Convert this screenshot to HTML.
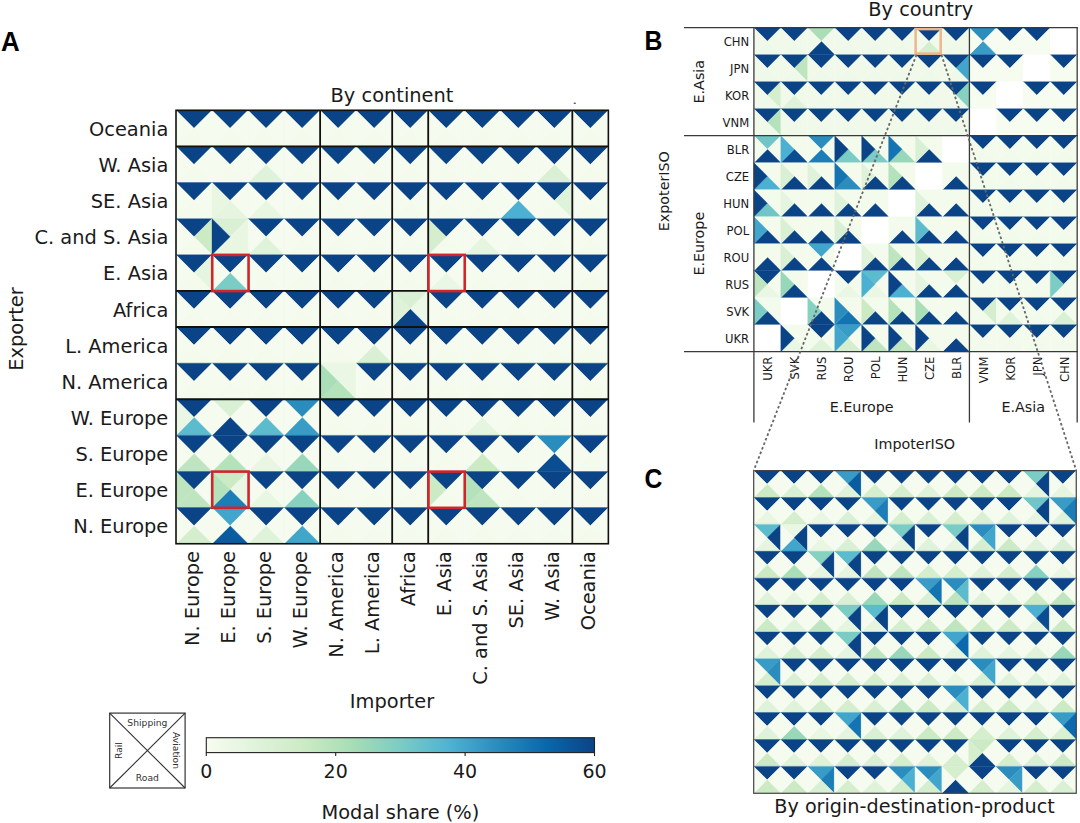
<!DOCTYPE html>
<html><head><meta charset="utf-8"><title>Modal share heatmaps</title>
<style>html,body{margin:0;padding:0;background:#fff;width:1080px;height:823px;overflow:hidden}svg{display:block}</style>
</head><body>
<svg width="1080" height="823" viewBox="0 0 1080 823">
<rect x="0" y="0" width="1080" height="823" fill="#ffffff"/>
<polygon points="176.00,110.30 212.03,110.30 194.01,128.36" fill="#0b4387" stroke="#0b4387" stroke-width="0.35"/>
<polygon points="212.03,110.30 212.03,146.42 194.01,128.36" fill="#f5fbee" stroke="#f5fbee" stroke-width="0.35"/>
<polygon points="212.03,146.42 176.00,146.42 194.01,128.36" fill="#f4fbed" stroke="#f4fbed" stroke-width="0.35"/>
<polygon points="176.00,146.42 176.00,110.30 194.01,128.36" fill="#f5fbee" stroke="#f5fbee" stroke-width="0.35"/>
<polygon points="212.03,110.30 248.06,110.30 230.05,128.36" fill="#0b4387" stroke="#0b4387" stroke-width="0.35"/>
<polygon points="248.06,110.30 248.06,146.42 230.05,128.36" fill="#f5fbee" stroke="#f5fbee" stroke-width="0.35"/>
<polygon points="248.06,146.42 212.03,146.42 230.05,128.36" fill="#f4fbed" stroke="#f4fbed" stroke-width="0.35"/>
<polygon points="212.03,146.42 212.03,110.30 230.05,128.36" fill="#f5fbee" stroke="#f5fbee" stroke-width="0.35"/>
<polygon points="248.06,110.30 284.09,110.30 266.07,128.36" fill="#0b4387" stroke="#0b4387" stroke-width="0.35"/>
<polygon points="284.09,110.30 284.09,146.42 266.07,128.36" fill="#f5fbee" stroke="#f5fbee" stroke-width="0.35"/>
<polygon points="284.09,146.42 248.06,146.42 266.07,128.36" fill="#f4fbed" stroke="#f4fbed" stroke-width="0.35"/>
<polygon points="248.06,146.42 248.06,110.30 266.07,128.36" fill="#f5fbee" stroke="#f5fbee" stroke-width="0.35"/>
<polygon points="284.09,110.30 320.12,110.30 302.11,128.36" fill="#0b4387" stroke="#0b4387" stroke-width="0.35"/>
<polygon points="320.12,110.30 320.12,146.42 302.11,128.36" fill="#f5fbee" stroke="#f5fbee" stroke-width="0.35"/>
<polygon points="320.12,146.42 284.09,146.42 302.11,128.36" fill="#f4fbed" stroke="#f4fbed" stroke-width="0.35"/>
<polygon points="284.09,146.42 284.09,110.30 302.11,128.36" fill="#f5fbee" stroke="#f5fbee" stroke-width="0.35"/>
<polygon points="320.12,110.30 356.15,110.30 338.13,128.36" fill="#0b4387" stroke="#0b4387" stroke-width="0.35"/>
<polygon points="356.15,110.30 356.15,146.42 338.13,128.36" fill="#f5fbee" stroke="#f5fbee" stroke-width="0.35"/>
<polygon points="356.15,146.42 320.12,146.42 338.13,128.36" fill="#f4fbed" stroke="#f4fbed" stroke-width="0.35"/>
<polygon points="320.12,146.42 320.12,110.30 338.13,128.36" fill="#f5fbee" stroke="#f5fbee" stroke-width="0.35"/>
<polygon points="356.15,110.30 392.18,110.30 374.16,128.36" fill="#0b4387" stroke="#0b4387" stroke-width="0.35"/>
<polygon points="392.18,110.30 392.18,146.42 374.16,128.36" fill="#f5fbee" stroke="#f5fbee" stroke-width="0.35"/>
<polygon points="392.18,146.42 356.15,146.42 374.16,128.36" fill="#f4fbed" stroke="#f4fbed" stroke-width="0.35"/>
<polygon points="356.15,146.42 356.15,110.30 374.16,128.36" fill="#f5fbee" stroke="#f5fbee" stroke-width="0.35"/>
<polygon points="392.18,110.30 428.21,110.30 410.19,128.36" fill="#0b4387" stroke="#0b4387" stroke-width="0.35"/>
<polygon points="428.21,110.30 428.21,146.42 410.19,128.36" fill="#f5fbee" stroke="#f5fbee" stroke-width="0.35"/>
<polygon points="428.21,146.42 392.18,146.42 410.19,128.36" fill="#f4fbed" stroke="#f4fbed" stroke-width="0.35"/>
<polygon points="392.18,146.42 392.18,110.30 410.19,128.36" fill="#f5fbee" stroke="#f5fbee" stroke-width="0.35"/>
<polygon points="428.21,110.30 464.24,110.30 446.23,128.36" fill="#0b4387" stroke="#0b4387" stroke-width="0.35"/>
<polygon points="464.24,110.30 464.24,146.42 446.23,128.36" fill="#f5fbee" stroke="#f5fbee" stroke-width="0.35"/>
<polygon points="464.24,146.42 428.21,146.42 446.23,128.36" fill="#f4fbed" stroke="#f4fbed" stroke-width="0.35"/>
<polygon points="428.21,146.42 428.21,110.30 446.23,128.36" fill="#f5fbee" stroke="#f5fbee" stroke-width="0.35"/>
<polygon points="464.24,110.30 500.27,110.30 482.25,128.36" fill="#0b4387" stroke="#0b4387" stroke-width="0.35"/>
<polygon points="500.27,110.30 500.27,146.42 482.25,128.36" fill="#f5fbee" stroke="#f5fbee" stroke-width="0.35"/>
<polygon points="500.27,146.42 464.24,146.42 482.25,128.36" fill="#f4fbed" stroke="#f4fbed" stroke-width="0.35"/>
<polygon points="464.24,146.42 464.24,110.30 482.25,128.36" fill="#f5fbee" stroke="#f5fbee" stroke-width="0.35"/>
<polygon points="500.27,110.30 536.30,110.30 518.28,128.36" fill="#0b4387" stroke="#0b4387" stroke-width="0.35"/>
<polygon points="536.30,110.30 536.30,146.42 518.28,128.36" fill="#f5fbee" stroke="#f5fbee" stroke-width="0.35"/>
<polygon points="536.30,146.42 500.27,146.42 518.28,128.36" fill="#f4fbed" stroke="#f4fbed" stroke-width="0.35"/>
<polygon points="500.27,146.42 500.27,110.30 518.28,128.36" fill="#f5fbee" stroke="#f5fbee" stroke-width="0.35"/>
<polygon points="536.30,110.30 572.33,110.30 554.31,128.36" fill="#0b4387" stroke="#0b4387" stroke-width="0.35"/>
<polygon points="572.33,110.30 572.33,146.42 554.31,128.36" fill="#f5fbee" stroke="#f5fbee" stroke-width="0.35"/>
<polygon points="572.33,146.42 536.30,146.42 554.31,128.36" fill="#f4fbed" stroke="#f4fbed" stroke-width="0.35"/>
<polygon points="536.30,146.42 536.30,110.30 554.31,128.36" fill="#f5fbee" stroke="#f5fbee" stroke-width="0.35"/>
<polygon points="572.33,110.30 608.36,110.30 590.35,128.36" fill="#0b4387" stroke="#0b4387" stroke-width="0.35"/>
<polygon points="608.36,110.30 608.36,146.42 590.35,128.36" fill="#f5fbee" stroke="#f5fbee" stroke-width="0.35"/>
<polygon points="608.36,146.42 572.33,146.42 590.35,128.36" fill="#f4fbed" stroke="#f4fbed" stroke-width="0.35"/>
<polygon points="572.33,146.42 572.33,110.30 590.35,128.36" fill="#f5fbee" stroke="#f5fbee" stroke-width="0.35"/>
<polygon points="176.00,146.42 212.03,146.42 194.01,164.48" fill="#0b4387" stroke="#0b4387" stroke-width="0.35"/>
<polygon points="212.03,146.42 212.03,182.54 194.01,164.48" fill="#f5fbee" stroke="#f5fbee" stroke-width="0.35"/>
<polygon points="212.03,182.54 176.00,182.54 194.01,164.48" fill="#f4fbed" stroke="#f4fbed" stroke-width="0.35"/>
<polygon points="176.00,182.54 176.00,146.42 194.01,164.48" fill="#f5fbee" stroke="#f5fbee" stroke-width="0.35"/>
<polygon points="212.03,146.42 248.06,146.42 230.05,164.48" fill="#0b4387" stroke="#0b4387" stroke-width="0.35"/>
<polygon points="248.06,146.42 248.06,182.54 230.05,164.48" fill="#f5fbee" stroke="#f5fbee" stroke-width="0.35"/>
<polygon points="248.06,182.54 212.03,182.54 230.05,164.48" fill="#f4fbed" stroke="#f4fbed" stroke-width="0.35"/>
<polygon points="212.03,182.54 212.03,146.42 230.05,164.48" fill="#f5fbee" stroke="#f5fbee" stroke-width="0.35"/>
<polygon points="248.06,146.42 284.09,146.42 266.07,164.48" fill="#0b4387" stroke="#0b4387" stroke-width="0.35"/>
<polygon points="284.09,146.42 284.09,182.54 266.07,164.48" fill="#f5fbee" stroke="#f5fbee" stroke-width="0.35"/>
<polygon points="284.09,182.54 248.06,182.54 266.07,164.48" fill="#dff2da" stroke="#dff2da" stroke-width="0.35"/>
<polygon points="248.06,182.54 248.06,146.42 266.07,164.48" fill="#f5fbee" stroke="#f5fbee" stroke-width="0.35"/>
<polygon points="284.09,146.42 320.12,146.42 302.11,164.48" fill="#0b4387" stroke="#0b4387" stroke-width="0.35"/>
<polygon points="320.12,146.42 320.12,182.54 302.11,164.48" fill="#f5fbee" stroke="#f5fbee" stroke-width="0.35"/>
<polygon points="320.12,182.54 284.09,182.54 302.11,164.48" fill="#f4fbed" stroke="#f4fbed" stroke-width="0.35"/>
<polygon points="284.09,182.54 284.09,146.42 302.11,164.48" fill="#f5fbee" stroke="#f5fbee" stroke-width="0.35"/>
<polygon points="320.12,146.42 356.15,146.42 338.13,164.48" fill="#0b4387" stroke="#0b4387" stroke-width="0.35"/>
<polygon points="356.15,146.42 356.15,182.54 338.13,164.48" fill="#f5fbee" stroke="#f5fbee" stroke-width="0.35"/>
<polygon points="356.15,182.54 320.12,182.54 338.13,164.48" fill="#f4fbed" stroke="#f4fbed" stroke-width="0.35"/>
<polygon points="320.12,182.54 320.12,146.42 338.13,164.48" fill="#f5fbee" stroke="#f5fbee" stroke-width="0.35"/>
<polygon points="356.15,146.42 392.18,146.42 374.16,164.48" fill="#0b4387" stroke="#0b4387" stroke-width="0.35"/>
<polygon points="392.18,146.42 392.18,182.54 374.16,164.48" fill="#f5fbee" stroke="#f5fbee" stroke-width="0.35"/>
<polygon points="392.18,182.54 356.15,182.54 374.16,164.48" fill="#f4fbed" stroke="#f4fbed" stroke-width="0.35"/>
<polygon points="356.15,182.54 356.15,146.42 374.16,164.48" fill="#f5fbee" stroke="#f5fbee" stroke-width="0.35"/>
<polygon points="392.18,146.42 428.21,146.42 410.19,164.48" fill="#0b4387" stroke="#0b4387" stroke-width="0.35"/>
<polygon points="428.21,146.42 428.21,182.54 410.19,164.48" fill="#f5fbee" stroke="#f5fbee" stroke-width="0.35"/>
<polygon points="428.21,182.54 392.18,182.54 410.19,164.48" fill="#f4fbed" stroke="#f4fbed" stroke-width="0.35"/>
<polygon points="392.18,182.54 392.18,146.42 410.19,164.48" fill="#f5fbee" stroke="#f5fbee" stroke-width="0.35"/>
<polygon points="428.21,146.42 464.24,146.42 446.23,164.48" fill="#0b4387" stroke="#0b4387" stroke-width="0.35"/>
<polygon points="464.24,146.42 464.24,182.54 446.23,164.48" fill="#f5fbee" stroke="#f5fbee" stroke-width="0.35"/>
<polygon points="464.24,182.54 428.21,182.54 446.23,164.48" fill="#f4fbed" stroke="#f4fbed" stroke-width="0.35"/>
<polygon points="428.21,182.54 428.21,146.42 446.23,164.48" fill="#f5fbee" stroke="#f5fbee" stroke-width="0.35"/>
<polygon points="464.24,146.42 500.27,146.42 482.25,164.48" fill="#0b4387" stroke="#0b4387" stroke-width="0.35"/>
<polygon points="500.27,146.42 500.27,182.54 482.25,164.48" fill="#f5fbee" stroke="#f5fbee" stroke-width="0.35"/>
<polygon points="500.27,182.54 464.24,182.54 482.25,164.48" fill="#f4fbed" stroke="#f4fbed" stroke-width="0.35"/>
<polygon points="464.24,182.54 464.24,146.42 482.25,164.48" fill="#f5fbee" stroke="#f5fbee" stroke-width="0.35"/>
<polygon points="500.27,146.42 536.30,146.42 518.28,164.48" fill="#0b4387" stroke="#0b4387" stroke-width="0.35"/>
<polygon points="536.30,146.42 536.30,182.54 518.28,164.48" fill="#f5fbee" stroke="#f5fbee" stroke-width="0.35"/>
<polygon points="536.30,182.54 500.27,182.54 518.28,164.48" fill="#f4fbed" stroke="#f4fbed" stroke-width="0.35"/>
<polygon points="500.27,182.54 500.27,146.42 518.28,164.48" fill="#f5fbee" stroke="#f5fbee" stroke-width="0.35"/>
<polygon points="536.30,146.42 572.33,146.42 554.31,164.48" fill="#0b4387" stroke="#0b4387" stroke-width="0.35"/>
<polygon points="572.33,146.42 572.33,182.54 554.31,164.48" fill="#f5fbee" stroke="#f5fbee" stroke-width="0.35"/>
<polygon points="572.33,182.54 536.30,182.54 554.31,164.48" fill="#d9f0d4" stroke="#d9f0d4" stroke-width="0.35"/>
<polygon points="536.30,182.54 536.30,146.42 554.31,164.48" fill="#f5fbee" stroke="#f5fbee" stroke-width="0.35"/>
<polygon points="572.33,146.42 608.36,146.42 590.35,164.48" fill="#0b4387" stroke="#0b4387" stroke-width="0.35"/>
<polygon points="608.36,146.42 608.36,182.54 590.35,164.48" fill="#f5fbee" stroke="#f5fbee" stroke-width="0.35"/>
<polygon points="608.36,182.54 572.33,182.54 590.35,164.48" fill="#f4fbed" stroke="#f4fbed" stroke-width="0.35"/>
<polygon points="572.33,182.54 572.33,146.42 590.35,164.48" fill="#f5fbee" stroke="#f5fbee" stroke-width="0.35"/>
<polygon points="176.00,182.54 212.03,182.54 194.01,200.60" fill="#0b4387" stroke="#0b4387" stroke-width="0.35"/>
<polygon points="212.03,182.54 212.03,218.66 194.01,200.60" fill="#f5fbee" stroke="#f5fbee" stroke-width="0.35"/>
<polygon points="212.03,218.66 176.00,218.66 194.01,200.60" fill="#f4fbed" stroke="#f4fbed" stroke-width="0.35"/>
<polygon points="176.00,218.66 176.00,182.54 194.01,200.60" fill="#f5fbee" stroke="#f5fbee" stroke-width="0.35"/>
<polygon points="212.03,182.54 248.06,182.54 230.05,200.60" fill="#0b4387" stroke="#0b4387" stroke-width="0.35"/>
<polygon points="248.06,182.54 248.06,218.66 230.05,200.60" fill="#f5fbee" stroke="#f5fbee" stroke-width="0.35"/>
<polygon points="248.06,218.66 212.03,218.66 230.05,200.60" fill="#e5f5df" stroke="#e5f5df" stroke-width="0.35"/>
<polygon points="212.03,218.66 212.03,182.54 230.05,200.60" fill="#e8f6e2" stroke="#e8f6e2" stroke-width="0.35"/>
<polygon points="248.06,182.54 284.09,182.54 266.07,200.60" fill="#0b4387" stroke="#0b4387" stroke-width="0.35"/>
<polygon points="284.09,182.54 284.09,218.66 266.07,200.60" fill="#f5fbee" stroke="#f5fbee" stroke-width="0.35"/>
<polygon points="284.09,218.66 248.06,218.66 266.07,200.60" fill="#e8f6e2" stroke="#e8f6e2" stroke-width="0.35"/>
<polygon points="248.06,218.66 248.06,182.54 266.07,200.60" fill="#f5fbee" stroke="#f5fbee" stroke-width="0.35"/>
<polygon points="284.09,182.54 320.12,182.54 302.11,200.60" fill="#0b4387" stroke="#0b4387" stroke-width="0.35"/>
<polygon points="320.12,182.54 320.12,218.66 302.11,200.60" fill="#f5fbee" stroke="#f5fbee" stroke-width="0.35"/>
<polygon points="320.12,218.66 284.09,218.66 302.11,200.60" fill="#f4fbed" stroke="#f4fbed" stroke-width="0.35"/>
<polygon points="284.09,218.66 284.09,182.54 302.11,200.60" fill="#f5fbee" stroke="#f5fbee" stroke-width="0.35"/>
<polygon points="320.12,182.54 356.15,182.54 338.13,200.60" fill="#0b4387" stroke="#0b4387" stroke-width="0.35"/>
<polygon points="356.15,182.54 356.15,218.66 338.13,200.60" fill="#f5fbee" stroke="#f5fbee" stroke-width="0.35"/>
<polygon points="356.15,218.66 320.12,218.66 338.13,200.60" fill="#f4fbed" stroke="#f4fbed" stroke-width="0.35"/>
<polygon points="320.12,218.66 320.12,182.54 338.13,200.60" fill="#f5fbee" stroke="#f5fbee" stroke-width="0.35"/>
<polygon points="356.15,182.54 392.18,182.54 374.16,200.60" fill="#0b4387" stroke="#0b4387" stroke-width="0.35"/>
<polygon points="392.18,182.54 392.18,218.66 374.16,200.60" fill="#f5fbee" stroke="#f5fbee" stroke-width="0.35"/>
<polygon points="392.18,218.66 356.15,218.66 374.16,200.60" fill="#f4fbed" stroke="#f4fbed" stroke-width="0.35"/>
<polygon points="356.15,218.66 356.15,182.54 374.16,200.60" fill="#f5fbee" stroke="#f5fbee" stroke-width="0.35"/>
<polygon points="392.18,182.54 428.21,182.54 410.19,200.60" fill="#0b4387" stroke="#0b4387" stroke-width="0.35"/>
<polygon points="428.21,182.54 428.21,218.66 410.19,200.60" fill="#f5fbee" stroke="#f5fbee" stroke-width="0.35"/>
<polygon points="428.21,218.66 392.18,218.66 410.19,200.60" fill="#f4fbed" stroke="#f4fbed" stroke-width="0.35"/>
<polygon points="392.18,218.66 392.18,182.54 410.19,200.60" fill="#f5fbee" stroke="#f5fbee" stroke-width="0.35"/>
<polygon points="428.21,182.54 464.24,182.54 446.23,200.60" fill="#0b4387" stroke="#0b4387" stroke-width="0.35"/>
<polygon points="464.24,182.54 464.24,218.66 446.23,200.60" fill="#f5fbee" stroke="#f5fbee" stroke-width="0.35"/>
<polygon points="464.24,218.66 428.21,218.66 446.23,200.60" fill="#f4fbed" stroke="#f4fbed" stroke-width="0.35"/>
<polygon points="428.21,218.66 428.21,182.54 446.23,200.60" fill="#f5fbee" stroke="#f5fbee" stroke-width="0.35"/>
<polygon points="464.24,182.54 500.27,182.54 482.25,200.60" fill="#0b4387" stroke="#0b4387" stroke-width="0.35"/>
<polygon points="500.27,182.54 500.27,218.66 482.25,200.60" fill="#f5fbee" stroke="#f5fbee" stroke-width="0.35"/>
<polygon points="500.27,218.66 464.24,218.66 482.25,200.60" fill="#f4fbed" stroke="#f4fbed" stroke-width="0.35"/>
<polygon points="464.24,218.66 464.24,182.54 482.25,200.60" fill="#f5fbee" stroke="#f5fbee" stroke-width="0.35"/>
<polygon points="500.27,182.54 536.30,182.54 518.28,200.60" fill="#0b4387" stroke="#0b4387" stroke-width="0.35"/>
<polygon points="536.30,182.54 536.30,218.66 518.28,200.60" fill="#f5fbee" stroke="#f5fbee" stroke-width="0.35"/>
<polygon points="536.30,218.66 500.27,218.66 518.28,200.60" fill="#4cb0d2" stroke="#4cb0d2" stroke-width="0.35"/>
<polygon points="500.27,218.66 500.27,182.54 518.28,200.60" fill="#f5fbee" stroke="#f5fbee" stroke-width="0.35"/>
<polygon points="536.30,182.54 572.33,182.54 554.31,200.60" fill="#0b4387" stroke="#0b4387" stroke-width="0.35"/>
<polygon points="572.33,182.54 572.33,218.66 554.31,200.60" fill="#dff2da" stroke="#dff2da" stroke-width="0.35"/>
<polygon points="572.33,218.66 536.30,218.66 554.31,200.60" fill="#f4fbed" stroke="#f4fbed" stroke-width="0.35"/>
<polygon points="536.30,218.66 536.30,182.54 554.31,200.60" fill="#f5fbee" stroke="#f5fbee" stroke-width="0.35"/>
<polygon points="572.33,182.54 608.36,182.54 590.35,200.60" fill="#0b4387" stroke="#0b4387" stroke-width="0.35"/>
<polygon points="608.36,182.54 608.36,218.66 590.35,200.60" fill="#f5fbee" stroke="#f5fbee" stroke-width="0.35"/>
<polygon points="608.36,218.66 572.33,218.66 590.35,200.60" fill="#f4fbed" stroke="#f4fbed" stroke-width="0.35"/>
<polygon points="572.33,218.66 572.33,182.54 590.35,200.60" fill="#f5fbee" stroke="#f5fbee" stroke-width="0.35"/>
<polygon points="176.00,218.66 212.03,218.66 194.01,236.72" fill="#0b4387" stroke="#0b4387" stroke-width="0.35"/>
<polygon points="212.03,218.66 212.03,254.78 194.01,236.72" fill="#ccebc5" stroke="#ccebc5" stroke-width="0.35"/>
<polygon points="212.03,254.78 176.00,254.78 194.01,236.72" fill="#f4fbed" stroke="#f4fbed" stroke-width="0.35"/>
<polygon points="176.00,254.78 176.00,218.66 194.01,236.72" fill="#f5fbee" stroke="#f5fbee" stroke-width="0.35"/>
<polygon points="212.03,218.66 248.06,218.66 230.05,236.72" fill="#d9f0d4" stroke="#d9f0d4" stroke-width="0.35"/>
<polygon points="248.06,218.66 248.06,254.78 230.05,236.72" fill="#e8f6e2" stroke="#e8f6e2" stroke-width="0.35"/>
<polygon points="248.06,254.78 212.03,254.78 230.05,236.72" fill="#e8f6e2" stroke="#e8f6e2" stroke-width="0.35"/>
<polygon points="212.03,254.78 212.03,218.66 230.05,236.72" fill="#0b4387" stroke="#0b4387" stroke-width="0.35"/>
<polygon points="248.06,218.66 284.09,218.66 266.07,236.72" fill="#0b4387" stroke="#0b4387" stroke-width="0.35"/>
<polygon points="284.09,218.66 284.09,254.78 266.07,236.72" fill="#f5fbee" stroke="#f5fbee" stroke-width="0.35"/>
<polygon points="284.09,254.78 248.06,254.78 266.07,236.72" fill="#dff2da" stroke="#dff2da" stroke-width="0.35"/>
<polygon points="248.06,254.78 248.06,218.66 266.07,236.72" fill="#f5fbee" stroke="#f5fbee" stroke-width="0.35"/>
<polygon points="284.09,218.66 320.12,218.66 302.11,236.72" fill="#0b4387" stroke="#0b4387" stroke-width="0.35"/>
<polygon points="320.12,218.66 320.12,254.78 302.11,236.72" fill="#f5fbee" stroke="#f5fbee" stroke-width="0.35"/>
<polygon points="320.12,254.78 284.09,254.78 302.11,236.72" fill="#f4fbed" stroke="#f4fbed" stroke-width="0.35"/>
<polygon points="284.09,254.78 284.09,218.66 302.11,236.72" fill="#f5fbee" stroke="#f5fbee" stroke-width="0.35"/>
<polygon points="320.12,218.66 356.15,218.66 338.13,236.72" fill="#0b4387" stroke="#0b4387" stroke-width="0.35"/>
<polygon points="356.15,218.66 356.15,254.78 338.13,236.72" fill="#f5fbee" stroke="#f5fbee" stroke-width="0.35"/>
<polygon points="356.15,254.78 320.12,254.78 338.13,236.72" fill="#f4fbed" stroke="#f4fbed" stroke-width="0.35"/>
<polygon points="320.12,254.78 320.12,218.66 338.13,236.72" fill="#f5fbee" stroke="#f5fbee" stroke-width="0.35"/>
<polygon points="356.15,218.66 392.18,218.66 374.16,236.72" fill="#0b4387" stroke="#0b4387" stroke-width="0.35"/>
<polygon points="392.18,218.66 392.18,254.78 374.16,236.72" fill="#f5fbee" stroke="#f5fbee" stroke-width="0.35"/>
<polygon points="392.18,254.78 356.15,254.78 374.16,236.72" fill="#f4fbed" stroke="#f4fbed" stroke-width="0.35"/>
<polygon points="356.15,254.78 356.15,218.66 374.16,236.72" fill="#f5fbee" stroke="#f5fbee" stroke-width="0.35"/>
<polygon points="392.18,218.66 428.21,218.66 410.19,236.72" fill="#0b4387" stroke="#0b4387" stroke-width="0.35"/>
<polygon points="428.21,218.66 428.21,254.78 410.19,236.72" fill="#f5fbee" stroke="#f5fbee" stroke-width="0.35"/>
<polygon points="428.21,254.78 392.18,254.78 410.19,236.72" fill="#f4fbed" stroke="#f4fbed" stroke-width="0.35"/>
<polygon points="392.18,254.78 392.18,218.66 410.19,236.72" fill="#f5fbee" stroke="#f5fbee" stroke-width="0.35"/>
<polygon points="428.21,218.66 464.24,218.66 446.23,236.72" fill="#0b4387" stroke="#0b4387" stroke-width="0.35"/>
<polygon points="464.24,218.66 464.24,254.78 446.23,236.72" fill="#f5fbee" stroke="#f5fbee" stroke-width="0.35"/>
<polygon points="464.24,254.78 428.21,254.78 446.23,236.72" fill="#f4fbed" stroke="#f4fbed" stroke-width="0.35"/>
<polygon points="428.21,254.78 428.21,218.66 446.23,236.72" fill="#d4eece" stroke="#d4eece" stroke-width="0.35"/>
<polygon points="464.24,218.66 500.27,218.66 482.25,236.72" fill="#0b4387" stroke="#0b4387" stroke-width="0.35"/>
<polygon points="500.27,218.66 500.27,254.78 482.25,236.72" fill="#f5fbee" stroke="#f5fbee" stroke-width="0.35"/>
<polygon points="500.27,254.78 464.24,254.78 482.25,236.72" fill="#e5f5df" stroke="#e5f5df" stroke-width="0.35"/>
<polygon points="464.24,254.78 464.24,218.66 482.25,236.72" fill="#f5fbee" stroke="#f5fbee" stroke-width="0.35"/>
<polygon points="500.27,218.66 536.30,218.66 518.28,236.72" fill="#0b4387" stroke="#0b4387" stroke-width="0.35"/>
<polygon points="536.30,218.66 536.30,254.78 518.28,236.72" fill="#f5fbee" stroke="#f5fbee" stroke-width="0.35"/>
<polygon points="536.30,254.78 500.27,254.78 518.28,236.72" fill="#f4fbed" stroke="#f4fbed" stroke-width="0.35"/>
<polygon points="500.27,254.78 500.27,218.66 518.28,236.72" fill="#f5fbee" stroke="#f5fbee" stroke-width="0.35"/>
<polygon points="536.30,218.66 572.33,218.66 554.31,236.72" fill="#0b4387" stroke="#0b4387" stroke-width="0.35"/>
<polygon points="572.33,218.66 572.33,254.78 554.31,236.72" fill="#f5fbee" stroke="#f5fbee" stroke-width="0.35"/>
<polygon points="572.33,254.78 536.30,254.78 554.31,236.72" fill="#f4fbed" stroke="#f4fbed" stroke-width="0.35"/>
<polygon points="536.30,254.78 536.30,218.66 554.31,236.72" fill="#f5fbee" stroke="#f5fbee" stroke-width="0.35"/>
<polygon points="572.33,218.66 608.36,218.66 590.35,236.72" fill="#0b4387" stroke="#0b4387" stroke-width="0.35"/>
<polygon points="608.36,218.66 608.36,254.78 590.35,236.72" fill="#f5fbee" stroke="#f5fbee" stroke-width="0.35"/>
<polygon points="608.36,254.78 572.33,254.78 590.35,236.72" fill="#f4fbed" stroke="#f4fbed" stroke-width="0.35"/>
<polygon points="572.33,254.78 572.33,218.66 590.35,236.72" fill="#f5fbee" stroke="#f5fbee" stroke-width="0.35"/>
<polygon points="176.00,254.78 212.03,254.78 194.01,272.84" fill="#0b4387" stroke="#0b4387" stroke-width="0.35"/>
<polygon points="212.03,254.78 212.03,290.90 194.01,272.84" fill="#e5f5df" stroke="#e5f5df" stroke-width="0.35"/>
<polygon points="212.03,290.90 176.00,290.90 194.01,272.84" fill="#f4fbed" stroke="#f4fbed" stroke-width="0.35"/>
<polygon points="176.00,290.90 176.00,254.78 194.01,272.84" fill="#f5fbee" stroke="#f5fbee" stroke-width="0.35"/>
<polygon points="212.03,254.78 248.06,254.78 230.05,272.84" fill="#0b4387" stroke="#0b4387" stroke-width="0.35"/>
<polygon points="248.06,254.78 248.06,290.90 230.05,272.84" fill="#f5fbee" stroke="#f5fbee" stroke-width="0.35"/>
<polygon points="248.06,290.90 212.03,290.90 230.05,272.84" fill="#7bccc4" stroke="#7bccc4" stroke-width="0.35"/>
<polygon points="212.03,290.90 212.03,254.78 230.05,272.84" fill="#f5fbee" stroke="#f5fbee" stroke-width="0.35"/>
<polygon points="248.06,254.78 284.09,254.78 266.07,272.84" fill="#0b4387" stroke="#0b4387" stroke-width="0.35"/>
<polygon points="284.09,254.78 284.09,290.90 266.07,272.84" fill="#f5fbee" stroke="#f5fbee" stroke-width="0.35"/>
<polygon points="284.09,290.90 248.06,290.90 266.07,272.84" fill="#f4fbed" stroke="#f4fbed" stroke-width="0.35"/>
<polygon points="248.06,290.90 248.06,254.78 266.07,272.84" fill="#f5fbee" stroke="#f5fbee" stroke-width="0.35"/>
<polygon points="284.09,254.78 320.12,254.78 302.11,272.84" fill="#0b4387" stroke="#0b4387" stroke-width="0.35"/>
<polygon points="320.12,254.78 320.12,290.90 302.11,272.84" fill="#f5fbee" stroke="#f5fbee" stroke-width="0.35"/>
<polygon points="320.12,290.90 284.09,290.90 302.11,272.84" fill="#f4fbed" stroke="#f4fbed" stroke-width="0.35"/>
<polygon points="284.09,290.90 284.09,254.78 302.11,272.84" fill="#f5fbee" stroke="#f5fbee" stroke-width="0.35"/>
<polygon points="320.12,254.78 356.15,254.78 338.13,272.84" fill="#0b4387" stroke="#0b4387" stroke-width="0.35"/>
<polygon points="356.15,254.78 356.15,290.90 338.13,272.84" fill="#f5fbee" stroke="#f5fbee" stroke-width="0.35"/>
<polygon points="356.15,290.90 320.12,290.90 338.13,272.84" fill="#f4fbed" stroke="#f4fbed" stroke-width="0.35"/>
<polygon points="320.12,290.90 320.12,254.78 338.13,272.84" fill="#f5fbee" stroke="#f5fbee" stroke-width="0.35"/>
<polygon points="356.15,254.78 392.18,254.78 374.16,272.84" fill="#0b4387" stroke="#0b4387" stroke-width="0.35"/>
<polygon points="392.18,254.78 392.18,290.90 374.16,272.84" fill="#f5fbee" stroke="#f5fbee" stroke-width="0.35"/>
<polygon points="392.18,290.90 356.15,290.90 374.16,272.84" fill="#f4fbed" stroke="#f4fbed" stroke-width="0.35"/>
<polygon points="356.15,290.90 356.15,254.78 374.16,272.84" fill="#f5fbee" stroke="#f5fbee" stroke-width="0.35"/>
<polygon points="392.18,254.78 428.21,254.78 410.19,272.84" fill="#0b4387" stroke="#0b4387" stroke-width="0.35"/>
<polygon points="428.21,254.78 428.21,290.90 410.19,272.84" fill="#f5fbee" stroke="#f5fbee" stroke-width="0.35"/>
<polygon points="428.21,290.90 392.18,290.90 410.19,272.84" fill="#f4fbed" stroke="#f4fbed" stroke-width="0.35"/>
<polygon points="392.18,290.90 392.18,254.78 410.19,272.84" fill="#f5fbee" stroke="#f5fbee" stroke-width="0.35"/>
<polygon points="428.21,254.78 464.24,254.78 446.23,272.84" fill="#0b4387" stroke="#0b4387" stroke-width="0.35"/>
<polygon points="464.24,254.78 464.24,290.90 446.23,272.84" fill="#f5fbee" stroke="#f5fbee" stroke-width="0.35"/>
<polygon points="464.24,290.90 428.21,290.90 446.23,272.84" fill="#ebf7e5" stroke="#ebf7e5" stroke-width="0.35"/>
<polygon points="428.21,290.90 428.21,254.78 446.23,272.84" fill="#f5fbee" stroke="#f5fbee" stroke-width="0.35"/>
<polygon points="464.24,254.78 500.27,254.78 482.25,272.84" fill="#0b4387" stroke="#0b4387" stroke-width="0.35"/>
<polygon points="500.27,254.78 500.27,290.90 482.25,272.84" fill="#f5fbee" stroke="#f5fbee" stroke-width="0.35"/>
<polygon points="500.27,290.90 464.24,290.90 482.25,272.84" fill="#f4fbed" stroke="#f4fbed" stroke-width="0.35"/>
<polygon points="464.24,290.90 464.24,254.78 482.25,272.84" fill="#f5fbee" stroke="#f5fbee" stroke-width="0.35"/>
<polygon points="500.27,254.78 536.30,254.78 518.28,272.84" fill="#0b4387" stroke="#0b4387" stroke-width="0.35"/>
<polygon points="536.30,254.78 536.30,290.90 518.28,272.84" fill="#f5fbee" stroke="#f5fbee" stroke-width="0.35"/>
<polygon points="536.30,290.90 500.27,290.90 518.28,272.84" fill="#f4fbed" stroke="#f4fbed" stroke-width="0.35"/>
<polygon points="500.27,290.90 500.27,254.78 518.28,272.84" fill="#f5fbee" stroke="#f5fbee" stroke-width="0.35"/>
<polygon points="536.30,254.78 572.33,254.78 554.31,272.84" fill="#0b4387" stroke="#0b4387" stroke-width="0.35"/>
<polygon points="572.33,254.78 572.33,290.90 554.31,272.84" fill="#f5fbee" stroke="#f5fbee" stroke-width="0.35"/>
<polygon points="572.33,290.90 536.30,290.90 554.31,272.84" fill="#f4fbed" stroke="#f4fbed" stroke-width="0.35"/>
<polygon points="536.30,290.90 536.30,254.78 554.31,272.84" fill="#f5fbee" stroke="#f5fbee" stroke-width="0.35"/>
<polygon points="572.33,254.78 608.36,254.78 590.35,272.84" fill="#0b4387" stroke="#0b4387" stroke-width="0.35"/>
<polygon points="608.36,254.78 608.36,290.90 590.35,272.84" fill="#f5fbee" stroke="#f5fbee" stroke-width="0.35"/>
<polygon points="608.36,290.90 572.33,290.90 590.35,272.84" fill="#f4fbed" stroke="#f4fbed" stroke-width="0.35"/>
<polygon points="572.33,290.90 572.33,254.78 590.35,272.84" fill="#f5fbee" stroke="#f5fbee" stroke-width="0.35"/>
<polygon points="176.00,290.90 212.03,290.90 194.01,308.96" fill="#0b4387" stroke="#0b4387" stroke-width="0.35"/>
<polygon points="212.03,290.90 212.03,327.02 194.01,308.96" fill="#f5fbee" stroke="#f5fbee" stroke-width="0.35"/>
<polygon points="212.03,327.02 176.00,327.02 194.01,308.96" fill="#f4fbed" stroke="#f4fbed" stroke-width="0.35"/>
<polygon points="176.00,327.02 176.00,290.90 194.01,308.96" fill="#f5fbee" stroke="#f5fbee" stroke-width="0.35"/>
<polygon points="212.03,290.90 248.06,290.90 230.05,308.96" fill="#0b4387" stroke="#0b4387" stroke-width="0.35"/>
<polygon points="248.06,290.90 248.06,327.02 230.05,308.96" fill="#f5fbee" stroke="#f5fbee" stroke-width="0.35"/>
<polygon points="248.06,327.02 212.03,327.02 230.05,308.96" fill="#f4fbed" stroke="#f4fbed" stroke-width="0.35"/>
<polygon points="212.03,327.02 212.03,290.90 230.05,308.96" fill="#f5fbee" stroke="#f5fbee" stroke-width="0.35"/>
<polygon points="248.06,290.90 284.09,290.90 266.07,308.96" fill="#0b4387" stroke="#0b4387" stroke-width="0.35"/>
<polygon points="284.09,290.90 284.09,327.02 266.07,308.96" fill="#f5fbee" stroke="#f5fbee" stroke-width="0.35"/>
<polygon points="284.09,327.02 248.06,327.02 266.07,308.96" fill="#f4fbed" stroke="#f4fbed" stroke-width="0.35"/>
<polygon points="248.06,327.02 248.06,290.90 266.07,308.96" fill="#f5fbee" stroke="#f5fbee" stroke-width="0.35"/>
<polygon points="284.09,290.90 320.12,290.90 302.11,308.96" fill="#0b4387" stroke="#0b4387" stroke-width="0.35"/>
<polygon points="320.12,290.90 320.12,327.02 302.11,308.96" fill="#f5fbee" stroke="#f5fbee" stroke-width="0.35"/>
<polygon points="320.12,327.02 284.09,327.02 302.11,308.96" fill="#f4fbed" stroke="#f4fbed" stroke-width="0.35"/>
<polygon points="284.09,327.02 284.09,290.90 302.11,308.96" fill="#f5fbee" stroke="#f5fbee" stroke-width="0.35"/>
<polygon points="320.12,290.90 356.15,290.90 338.13,308.96" fill="#0b4387" stroke="#0b4387" stroke-width="0.35"/>
<polygon points="356.15,290.90 356.15,327.02 338.13,308.96" fill="#f5fbee" stroke="#f5fbee" stroke-width="0.35"/>
<polygon points="356.15,327.02 320.12,327.02 338.13,308.96" fill="#f4fbed" stroke="#f4fbed" stroke-width="0.35"/>
<polygon points="320.12,327.02 320.12,290.90 338.13,308.96" fill="#f5fbee" stroke="#f5fbee" stroke-width="0.35"/>
<polygon points="356.15,290.90 392.18,290.90 374.16,308.96" fill="#0b4387" stroke="#0b4387" stroke-width="0.35"/>
<polygon points="392.18,290.90 392.18,327.02 374.16,308.96" fill="#f5fbee" stroke="#f5fbee" stroke-width="0.35"/>
<polygon points="392.18,327.02 356.15,327.02 374.16,308.96" fill="#f4fbed" stroke="#f4fbed" stroke-width="0.35"/>
<polygon points="356.15,327.02 356.15,290.90 374.16,308.96" fill="#f5fbee" stroke="#f5fbee" stroke-width="0.35"/>
<polygon points="392.18,290.90 428.21,290.90 410.19,308.96" fill="#d9f0d4" stroke="#d9f0d4" stroke-width="0.35"/>
<polygon points="428.21,290.90 428.21,327.02 410.19,308.96" fill="#eef8e8" stroke="#eef8e8" stroke-width="0.35"/>
<polygon points="428.21,327.02 392.18,327.02 410.19,308.96" fill="#0b4387" stroke="#0b4387" stroke-width="0.35"/>
<polygon points="392.18,327.02 392.18,290.90 410.19,308.96" fill="#dff2da" stroke="#dff2da" stroke-width="0.35"/>
<polygon points="428.21,290.90 464.24,290.90 446.23,308.96" fill="#0b4387" stroke="#0b4387" stroke-width="0.35"/>
<polygon points="464.24,290.90 464.24,327.02 446.23,308.96" fill="#f5fbee" stroke="#f5fbee" stroke-width="0.35"/>
<polygon points="464.24,327.02 428.21,327.02 446.23,308.96" fill="#f4fbed" stroke="#f4fbed" stroke-width="0.35"/>
<polygon points="428.21,327.02 428.21,290.90 446.23,308.96" fill="#f5fbee" stroke="#f5fbee" stroke-width="0.35"/>
<polygon points="464.24,290.90 500.27,290.90 482.25,308.96" fill="#0b4387" stroke="#0b4387" stroke-width="0.35"/>
<polygon points="500.27,290.90 500.27,327.02 482.25,308.96" fill="#f5fbee" stroke="#f5fbee" stroke-width="0.35"/>
<polygon points="500.27,327.02 464.24,327.02 482.25,308.96" fill="#f4fbed" stroke="#f4fbed" stroke-width="0.35"/>
<polygon points="464.24,327.02 464.24,290.90 482.25,308.96" fill="#f5fbee" stroke="#f5fbee" stroke-width="0.35"/>
<polygon points="500.27,290.90 536.30,290.90 518.28,308.96" fill="#0b4387" stroke="#0b4387" stroke-width="0.35"/>
<polygon points="536.30,290.90 536.30,327.02 518.28,308.96" fill="#f5fbee" stroke="#f5fbee" stroke-width="0.35"/>
<polygon points="536.30,327.02 500.27,327.02 518.28,308.96" fill="#f4fbed" stroke="#f4fbed" stroke-width="0.35"/>
<polygon points="500.27,327.02 500.27,290.90 518.28,308.96" fill="#f5fbee" stroke="#f5fbee" stroke-width="0.35"/>
<polygon points="536.30,290.90 572.33,290.90 554.31,308.96" fill="#0b4387" stroke="#0b4387" stroke-width="0.35"/>
<polygon points="572.33,290.90 572.33,327.02 554.31,308.96" fill="#f5fbee" stroke="#f5fbee" stroke-width="0.35"/>
<polygon points="572.33,327.02 536.30,327.02 554.31,308.96" fill="#f4fbed" stroke="#f4fbed" stroke-width="0.35"/>
<polygon points="536.30,327.02 536.30,290.90 554.31,308.96" fill="#f5fbee" stroke="#f5fbee" stroke-width="0.35"/>
<polygon points="572.33,290.90 608.36,290.90 590.35,308.96" fill="#0b4387" stroke="#0b4387" stroke-width="0.35"/>
<polygon points="608.36,290.90 608.36,327.02 590.35,308.96" fill="#f5fbee" stroke="#f5fbee" stroke-width="0.35"/>
<polygon points="608.36,327.02 572.33,327.02 590.35,308.96" fill="#f4fbed" stroke="#f4fbed" stroke-width="0.35"/>
<polygon points="572.33,327.02 572.33,290.90 590.35,308.96" fill="#f5fbee" stroke="#f5fbee" stroke-width="0.35"/>
<polygon points="176.00,327.02 212.03,327.02 194.01,345.08" fill="#0b4387" stroke="#0b4387" stroke-width="0.35"/>
<polygon points="212.03,327.02 212.03,363.14 194.01,345.08" fill="#f5fbee" stroke="#f5fbee" stroke-width="0.35"/>
<polygon points="212.03,363.14 176.00,363.14 194.01,345.08" fill="#f4fbed" stroke="#f4fbed" stroke-width="0.35"/>
<polygon points="176.00,363.14 176.00,327.02 194.01,345.08" fill="#f5fbee" stroke="#f5fbee" stroke-width="0.35"/>
<polygon points="212.03,327.02 248.06,327.02 230.05,345.08" fill="#0b4387" stroke="#0b4387" stroke-width="0.35"/>
<polygon points="248.06,327.02 248.06,363.14 230.05,345.08" fill="#f5fbee" stroke="#f5fbee" stroke-width="0.35"/>
<polygon points="248.06,363.14 212.03,363.14 230.05,345.08" fill="#f4fbed" stroke="#f4fbed" stroke-width="0.35"/>
<polygon points="212.03,363.14 212.03,327.02 230.05,345.08" fill="#f5fbee" stroke="#f5fbee" stroke-width="0.35"/>
<polygon points="248.06,327.02 284.09,327.02 266.07,345.08" fill="#0b4387" stroke="#0b4387" stroke-width="0.35"/>
<polygon points="284.09,327.02 284.09,363.14 266.07,345.08" fill="#f5fbee" stroke="#f5fbee" stroke-width="0.35"/>
<polygon points="284.09,363.14 248.06,363.14 266.07,345.08" fill="#f4fbed" stroke="#f4fbed" stroke-width="0.35"/>
<polygon points="248.06,363.14 248.06,327.02 266.07,345.08" fill="#f5fbee" stroke="#f5fbee" stroke-width="0.35"/>
<polygon points="284.09,327.02 320.12,327.02 302.11,345.08" fill="#0b4387" stroke="#0b4387" stroke-width="0.35"/>
<polygon points="320.12,327.02 320.12,363.14 302.11,345.08" fill="#f5fbee" stroke="#f5fbee" stroke-width="0.35"/>
<polygon points="320.12,363.14 284.09,363.14 302.11,345.08" fill="#f4fbed" stroke="#f4fbed" stroke-width="0.35"/>
<polygon points="284.09,363.14 284.09,327.02 302.11,345.08" fill="#f5fbee" stroke="#f5fbee" stroke-width="0.35"/>
<polygon points="320.12,327.02 356.15,327.02 338.13,345.08" fill="#0b4387" stroke="#0b4387" stroke-width="0.35"/>
<polygon points="356.15,327.02 356.15,363.14 338.13,345.08" fill="#f5fbee" stroke="#f5fbee" stroke-width="0.35"/>
<polygon points="356.15,363.14 320.12,363.14 338.13,345.08" fill="#f4fbed" stroke="#f4fbed" stroke-width="0.35"/>
<polygon points="320.12,363.14 320.12,327.02 338.13,345.08" fill="#f5fbee" stroke="#f5fbee" stroke-width="0.35"/>
<polygon points="356.15,327.02 392.18,327.02 374.16,345.08" fill="#0b4387" stroke="#0b4387" stroke-width="0.35"/>
<polygon points="392.18,327.02 392.18,363.14 374.16,345.08" fill="#f5fbee" stroke="#f5fbee" stroke-width="0.35"/>
<polygon points="392.18,363.14 356.15,363.14 374.16,345.08" fill="#d9f0d4" stroke="#d9f0d4" stroke-width="0.35"/>
<polygon points="356.15,363.14 356.15,327.02 374.16,345.08" fill="#f5fbee" stroke="#f5fbee" stroke-width="0.35"/>
<polygon points="392.18,327.02 428.21,327.02 410.19,345.08" fill="#0b4387" stroke="#0b4387" stroke-width="0.35"/>
<polygon points="428.21,327.02 428.21,363.14 410.19,345.08" fill="#f5fbee" stroke="#f5fbee" stroke-width="0.35"/>
<polygon points="428.21,363.14 392.18,363.14 410.19,345.08" fill="#f4fbed" stroke="#f4fbed" stroke-width="0.35"/>
<polygon points="392.18,363.14 392.18,327.02 410.19,345.08" fill="#f5fbee" stroke="#f5fbee" stroke-width="0.35"/>
<polygon points="428.21,327.02 464.24,327.02 446.23,345.08" fill="#0b4387" stroke="#0b4387" stroke-width="0.35"/>
<polygon points="464.24,327.02 464.24,363.14 446.23,345.08" fill="#f5fbee" stroke="#f5fbee" stroke-width="0.35"/>
<polygon points="464.24,363.14 428.21,363.14 446.23,345.08" fill="#f4fbed" stroke="#f4fbed" stroke-width="0.35"/>
<polygon points="428.21,363.14 428.21,327.02 446.23,345.08" fill="#f5fbee" stroke="#f5fbee" stroke-width="0.35"/>
<polygon points="464.24,327.02 500.27,327.02 482.25,345.08" fill="#0b4387" stroke="#0b4387" stroke-width="0.35"/>
<polygon points="500.27,327.02 500.27,363.14 482.25,345.08" fill="#f5fbee" stroke="#f5fbee" stroke-width="0.35"/>
<polygon points="500.27,363.14 464.24,363.14 482.25,345.08" fill="#f4fbed" stroke="#f4fbed" stroke-width="0.35"/>
<polygon points="464.24,363.14 464.24,327.02 482.25,345.08" fill="#f5fbee" stroke="#f5fbee" stroke-width="0.35"/>
<polygon points="500.27,327.02 536.30,327.02 518.28,345.08" fill="#0b4387" stroke="#0b4387" stroke-width="0.35"/>
<polygon points="536.30,327.02 536.30,363.14 518.28,345.08" fill="#f5fbee" stroke="#f5fbee" stroke-width="0.35"/>
<polygon points="536.30,363.14 500.27,363.14 518.28,345.08" fill="#f4fbed" stroke="#f4fbed" stroke-width="0.35"/>
<polygon points="500.27,363.14 500.27,327.02 518.28,345.08" fill="#f5fbee" stroke="#f5fbee" stroke-width="0.35"/>
<polygon points="536.30,327.02 572.33,327.02 554.31,345.08" fill="#0b4387" stroke="#0b4387" stroke-width="0.35"/>
<polygon points="572.33,327.02 572.33,363.14 554.31,345.08" fill="#f5fbee" stroke="#f5fbee" stroke-width="0.35"/>
<polygon points="572.33,363.14 536.30,363.14 554.31,345.08" fill="#f4fbed" stroke="#f4fbed" stroke-width="0.35"/>
<polygon points="536.30,363.14 536.30,327.02 554.31,345.08" fill="#f5fbee" stroke="#f5fbee" stroke-width="0.35"/>
<polygon points="572.33,327.02 608.36,327.02 590.35,345.08" fill="#0b4387" stroke="#0b4387" stroke-width="0.35"/>
<polygon points="608.36,327.02 608.36,363.14 590.35,345.08" fill="#f5fbee" stroke="#f5fbee" stroke-width="0.35"/>
<polygon points="608.36,363.14 572.33,363.14 590.35,345.08" fill="#f4fbed" stroke="#f4fbed" stroke-width="0.35"/>
<polygon points="572.33,363.14 572.33,327.02 590.35,345.08" fill="#f5fbee" stroke="#f5fbee" stroke-width="0.35"/>
<polygon points="176.00,363.14 212.03,363.14 194.01,381.20" fill="#0b4387" stroke="#0b4387" stroke-width="0.35"/>
<polygon points="212.03,363.14 212.03,399.26 194.01,381.20" fill="#f5fbee" stroke="#f5fbee" stroke-width="0.35"/>
<polygon points="212.03,399.26 176.00,399.26 194.01,381.20" fill="#f4fbed" stroke="#f4fbed" stroke-width="0.35"/>
<polygon points="176.00,399.26 176.00,363.14 194.01,381.20" fill="#f5fbee" stroke="#f5fbee" stroke-width="0.35"/>
<polygon points="212.03,363.14 248.06,363.14 230.05,381.20" fill="#0b4387" stroke="#0b4387" stroke-width="0.35"/>
<polygon points="248.06,363.14 248.06,399.26 230.05,381.20" fill="#f5fbee" stroke="#f5fbee" stroke-width="0.35"/>
<polygon points="248.06,399.26 212.03,399.26 230.05,381.20" fill="#f4fbed" stroke="#f4fbed" stroke-width="0.35"/>
<polygon points="212.03,399.26 212.03,363.14 230.05,381.20" fill="#f5fbee" stroke="#f5fbee" stroke-width="0.35"/>
<polygon points="248.06,363.14 284.09,363.14 266.07,381.20" fill="#0b4387" stroke="#0b4387" stroke-width="0.35"/>
<polygon points="284.09,363.14 284.09,399.26 266.07,381.20" fill="#f5fbee" stroke="#f5fbee" stroke-width="0.35"/>
<polygon points="284.09,399.26 248.06,399.26 266.07,381.20" fill="#f4fbed" stroke="#f4fbed" stroke-width="0.35"/>
<polygon points="248.06,399.26 248.06,363.14 266.07,381.20" fill="#f5fbee" stroke="#f5fbee" stroke-width="0.35"/>
<polygon points="284.09,363.14 320.12,363.14 302.11,381.20" fill="#0b4387" stroke="#0b4387" stroke-width="0.35"/>
<polygon points="320.12,363.14 320.12,399.26 302.11,381.20" fill="#f5fbee" stroke="#f5fbee" stroke-width="0.35"/>
<polygon points="320.12,399.26 284.09,399.26 302.11,381.20" fill="#f4fbed" stroke="#f4fbed" stroke-width="0.35"/>
<polygon points="284.09,399.26 284.09,363.14 302.11,381.20" fill="#f5fbee" stroke="#f5fbee" stroke-width="0.35"/>
<polygon points="320.12,363.14 356.15,363.14 338.13,381.20" fill="#ebf7e5" stroke="#ebf7e5" stroke-width="0.35"/>
<polygon points="356.15,363.14 356.15,399.26 338.13,381.20" fill="#ebf7e5" stroke="#ebf7e5" stroke-width="0.35"/>
<polygon points="356.15,399.26 320.12,399.26 338.13,381.20" fill="#b4e2ba" stroke="#b4e2ba" stroke-width="0.35"/>
<polygon points="320.12,399.26 320.12,363.14 338.13,381.20" fill="#aadeb6" stroke="#aadeb6" stroke-width="0.35"/>
<polygon points="356.15,363.14 392.18,363.14 374.16,381.20" fill="#0b4387" stroke="#0b4387" stroke-width="0.35"/>
<polygon points="392.18,363.14 392.18,399.26 374.16,381.20" fill="#f5fbee" stroke="#f5fbee" stroke-width="0.35"/>
<polygon points="392.18,399.26 356.15,399.26 374.16,381.20" fill="#f4fbed" stroke="#f4fbed" stroke-width="0.35"/>
<polygon points="356.15,399.26 356.15,363.14 374.16,381.20" fill="#f5fbee" stroke="#f5fbee" stroke-width="0.35"/>
<polygon points="392.18,363.14 428.21,363.14 410.19,381.20" fill="#0b4387" stroke="#0b4387" stroke-width="0.35"/>
<polygon points="428.21,363.14 428.21,399.26 410.19,381.20" fill="#f5fbee" stroke="#f5fbee" stroke-width="0.35"/>
<polygon points="428.21,399.26 392.18,399.26 410.19,381.20" fill="#f4fbed" stroke="#f4fbed" stroke-width="0.35"/>
<polygon points="392.18,399.26 392.18,363.14 410.19,381.20" fill="#f5fbee" stroke="#f5fbee" stroke-width="0.35"/>
<polygon points="428.21,363.14 464.24,363.14 446.23,381.20" fill="#0b4387" stroke="#0b4387" stroke-width="0.35"/>
<polygon points="464.24,363.14 464.24,399.26 446.23,381.20" fill="#f5fbee" stroke="#f5fbee" stroke-width="0.35"/>
<polygon points="464.24,399.26 428.21,399.26 446.23,381.20" fill="#f4fbed" stroke="#f4fbed" stroke-width="0.35"/>
<polygon points="428.21,399.26 428.21,363.14 446.23,381.20" fill="#f5fbee" stroke="#f5fbee" stroke-width="0.35"/>
<polygon points="464.24,363.14 500.27,363.14 482.25,381.20" fill="#0b4387" stroke="#0b4387" stroke-width="0.35"/>
<polygon points="500.27,363.14 500.27,399.26 482.25,381.20" fill="#f5fbee" stroke="#f5fbee" stroke-width="0.35"/>
<polygon points="500.27,399.26 464.24,399.26 482.25,381.20" fill="#f4fbed" stroke="#f4fbed" stroke-width="0.35"/>
<polygon points="464.24,399.26 464.24,363.14 482.25,381.20" fill="#f5fbee" stroke="#f5fbee" stroke-width="0.35"/>
<polygon points="500.27,363.14 536.30,363.14 518.28,381.20" fill="#0b4387" stroke="#0b4387" stroke-width="0.35"/>
<polygon points="536.30,363.14 536.30,399.26 518.28,381.20" fill="#f5fbee" stroke="#f5fbee" stroke-width="0.35"/>
<polygon points="536.30,399.26 500.27,399.26 518.28,381.20" fill="#f4fbed" stroke="#f4fbed" stroke-width="0.35"/>
<polygon points="500.27,399.26 500.27,363.14 518.28,381.20" fill="#f5fbee" stroke="#f5fbee" stroke-width="0.35"/>
<polygon points="536.30,363.14 572.33,363.14 554.31,381.20" fill="#0b4387" stroke="#0b4387" stroke-width="0.35"/>
<polygon points="572.33,363.14 572.33,399.26 554.31,381.20" fill="#f5fbee" stroke="#f5fbee" stroke-width="0.35"/>
<polygon points="572.33,399.26 536.30,399.26 554.31,381.20" fill="#f4fbed" stroke="#f4fbed" stroke-width="0.35"/>
<polygon points="536.30,399.26 536.30,363.14 554.31,381.20" fill="#f5fbee" stroke="#f5fbee" stroke-width="0.35"/>
<polygon points="572.33,363.14 608.36,363.14 590.35,381.20" fill="#0b4387" stroke="#0b4387" stroke-width="0.35"/>
<polygon points="608.36,363.14 608.36,399.26 590.35,381.20" fill="#f5fbee" stroke="#f5fbee" stroke-width="0.35"/>
<polygon points="608.36,399.26 572.33,399.26 590.35,381.20" fill="#f4fbed" stroke="#f4fbed" stroke-width="0.35"/>
<polygon points="572.33,399.26 572.33,363.14 590.35,381.20" fill="#f5fbee" stroke="#f5fbee" stroke-width="0.35"/>
<polygon points="176.00,399.26 212.03,399.26 194.01,417.32" fill="#0b4387" stroke="#0b4387" stroke-width="0.35"/>
<polygon points="212.03,399.26 212.03,435.38 194.01,417.32" fill="#f5fbee" stroke="#f5fbee" stroke-width="0.35"/>
<polygon points="212.03,435.38 176.00,435.38 194.01,417.32" fill="#5dbbce" stroke="#5dbbce" stroke-width="0.35"/>
<polygon points="176.00,435.38 176.00,399.26 194.01,417.32" fill="#ebf7e5" stroke="#ebf7e5" stroke-width="0.35"/>
<polygon points="212.03,399.26 248.06,399.26 230.05,417.32" fill="#d9f0d4" stroke="#d9f0d4" stroke-width="0.35"/>
<polygon points="248.06,399.26 248.06,435.38 230.05,417.32" fill="#f5fbee" stroke="#f5fbee" stroke-width="0.35"/>
<polygon points="248.06,435.38 212.03,435.38 230.05,417.32" fill="#0b4387" stroke="#0b4387" stroke-width="0.35"/>
<polygon points="212.03,435.38 212.03,399.26 230.05,417.32" fill="#f5fbee" stroke="#f5fbee" stroke-width="0.35"/>
<polygon points="248.06,399.26 284.09,399.26 266.07,417.32" fill="#0b4387" stroke="#0b4387" stroke-width="0.35"/>
<polygon points="284.09,399.26 284.09,435.38 266.07,417.32" fill="#f5fbee" stroke="#f5fbee" stroke-width="0.35"/>
<polygon points="284.09,435.38 248.06,435.38 266.07,417.32" fill="#5dbbce" stroke="#5dbbce" stroke-width="0.35"/>
<polygon points="248.06,435.38 248.06,399.26 266.07,417.32" fill="#f5fbee" stroke="#f5fbee" stroke-width="0.35"/>
<polygon points="284.09,399.26 320.12,399.26 302.11,417.32" fill="#2b8cbe" stroke="#2b8cbe" stroke-width="0.35"/>
<polygon points="320.12,399.26 320.12,435.38 302.11,417.32" fill="#f5fbee" stroke="#f5fbee" stroke-width="0.35"/>
<polygon points="320.12,435.38 284.09,435.38 302.11,417.32" fill="#399cc6" stroke="#399cc6" stroke-width="0.35"/>
<polygon points="284.09,435.38 284.09,399.26 302.11,417.32" fill="#f5fbee" stroke="#f5fbee" stroke-width="0.35"/>
<polygon points="320.12,399.26 356.15,399.26 338.13,417.32" fill="#0b4387" stroke="#0b4387" stroke-width="0.35"/>
<polygon points="356.15,399.26 356.15,435.38 338.13,417.32" fill="#f5fbee" stroke="#f5fbee" stroke-width="0.35"/>
<polygon points="356.15,435.38 320.12,435.38 338.13,417.32" fill="#f4fbed" stroke="#f4fbed" stroke-width="0.35"/>
<polygon points="320.12,435.38 320.12,399.26 338.13,417.32" fill="#f5fbee" stroke="#f5fbee" stroke-width="0.35"/>
<polygon points="356.15,399.26 392.18,399.26 374.16,417.32" fill="#0b4387" stroke="#0b4387" stroke-width="0.35"/>
<polygon points="392.18,399.26 392.18,435.38 374.16,417.32" fill="#f5fbee" stroke="#f5fbee" stroke-width="0.35"/>
<polygon points="392.18,435.38 356.15,435.38 374.16,417.32" fill="#f4fbed" stroke="#f4fbed" stroke-width="0.35"/>
<polygon points="356.15,435.38 356.15,399.26 374.16,417.32" fill="#f5fbee" stroke="#f5fbee" stroke-width="0.35"/>
<polygon points="392.18,399.26 428.21,399.26 410.19,417.32" fill="#0b4387" stroke="#0b4387" stroke-width="0.35"/>
<polygon points="428.21,399.26 428.21,435.38 410.19,417.32" fill="#f5fbee" stroke="#f5fbee" stroke-width="0.35"/>
<polygon points="428.21,435.38 392.18,435.38 410.19,417.32" fill="#f4fbed" stroke="#f4fbed" stroke-width="0.35"/>
<polygon points="392.18,435.38 392.18,399.26 410.19,417.32" fill="#f5fbee" stroke="#f5fbee" stroke-width="0.35"/>
<polygon points="428.21,399.26 464.24,399.26 446.23,417.32" fill="#0b4387" stroke="#0b4387" stroke-width="0.35"/>
<polygon points="464.24,399.26 464.24,435.38 446.23,417.32" fill="#f5fbee" stroke="#f5fbee" stroke-width="0.35"/>
<polygon points="464.24,435.38 428.21,435.38 446.23,417.32" fill="#f4fbed" stroke="#f4fbed" stroke-width="0.35"/>
<polygon points="428.21,435.38 428.21,399.26 446.23,417.32" fill="#f5fbee" stroke="#f5fbee" stroke-width="0.35"/>
<polygon points="464.24,399.26 500.27,399.26 482.25,417.32" fill="#0b4387" stroke="#0b4387" stroke-width="0.35"/>
<polygon points="500.27,399.26 500.27,435.38 482.25,417.32" fill="#f5fbee" stroke="#f5fbee" stroke-width="0.35"/>
<polygon points="500.27,435.38 464.24,435.38 482.25,417.32" fill="#e5f5df" stroke="#e5f5df" stroke-width="0.35"/>
<polygon points="464.24,435.38 464.24,399.26 482.25,417.32" fill="#f5fbee" stroke="#f5fbee" stroke-width="0.35"/>
<polygon points="500.27,399.26 536.30,399.26 518.28,417.32" fill="#0b4387" stroke="#0b4387" stroke-width="0.35"/>
<polygon points="536.30,399.26 536.30,435.38 518.28,417.32" fill="#f5fbee" stroke="#f5fbee" stroke-width="0.35"/>
<polygon points="536.30,435.38 500.27,435.38 518.28,417.32" fill="#f4fbed" stroke="#f4fbed" stroke-width="0.35"/>
<polygon points="500.27,435.38 500.27,399.26 518.28,417.32" fill="#f5fbee" stroke="#f5fbee" stroke-width="0.35"/>
<polygon points="536.30,399.26 572.33,399.26 554.31,417.32" fill="#0b4387" stroke="#0b4387" stroke-width="0.35"/>
<polygon points="572.33,399.26 572.33,435.38 554.31,417.32" fill="#f5fbee" stroke="#f5fbee" stroke-width="0.35"/>
<polygon points="572.33,435.38 536.30,435.38 554.31,417.32" fill="#f4fbed" stroke="#f4fbed" stroke-width="0.35"/>
<polygon points="536.30,435.38 536.30,399.26 554.31,417.32" fill="#f5fbee" stroke="#f5fbee" stroke-width="0.35"/>
<polygon points="572.33,399.26 608.36,399.26 590.35,417.32" fill="#0b4387" stroke="#0b4387" stroke-width="0.35"/>
<polygon points="608.36,399.26 608.36,435.38 590.35,417.32" fill="#f5fbee" stroke="#f5fbee" stroke-width="0.35"/>
<polygon points="608.36,435.38 572.33,435.38 590.35,417.32" fill="#f4fbed" stroke="#f4fbed" stroke-width="0.35"/>
<polygon points="572.33,435.38 572.33,399.26 590.35,417.32" fill="#f5fbee" stroke="#f5fbee" stroke-width="0.35"/>
<polygon points="176.00,435.38 212.03,435.38 194.01,453.44" fill="#0b4387" stroke="#0b4387" stroke-width="0.35"/>
<polygon points="212.03,435.38 212.03,471.50 194.01,453.44" fill="#f5fbee" stroke="#f5fbee" stroke-width="0.35"/>
<polygon points="212.03,471.50 176.00,471.50 194.01,453.44" fill="#bee5bf" stroke="#bee5bf" stroke-width="0.35"/>
<polygon points="176.00,471.50 176.00,435.38 194.01,453.44" fill="#f5fbee" stroke="#f5fbee" stroke-width="0.35"/>
<polygon points="212.03,435.38 248.06,435.38 230.05,453.44" fill="#0b4387" stroke="#0b4387" stroke-width="0.35"/>
<polygon points="248.06,435.38 248.06,471.50 230.05,453.44" fill="#f5fbee" stroke="#f5fbee" stroke-width="0.35"/>
<polygon points="248.06,471.50 212.03,471.50 230.05,453.44" fill="#b4e2ba" stroke="#b4e2ba" stroke-width="0.35"/>
<polygon points="212.03,471.50 212.03,435.38 230.05,453.44" fill="#f5fbee" stroke="#f5fbee" stroke-width="0.35"/>
<polygon points="248.06,435.38 284.09,435.38 266.07,453.44" fill="#0b4387" stroke="#0b4387" stroke-width="0.35"/>
<polygon points="284.09,435.38 284.09,471.50 266.07,453.44" fill="#f5fbee" stroke="#f5fbee" stroke-width="0.35"/>
<polygon points="284.09,471.50 248.06,471.50 266.07,453.44" fill="#e8f6e2" stroke="#e8f6e2" stroke-width="0.35"/>
<polygon points="248.06,471.50 248.06,435.38 266.07,453.44" fill="#f5fbee" stroke="#f5fbee" stroke-width="0.35"/>
<polygon points="284.09,435.38 320.12,435.38 302.11,453.44" fill="#0b4387" stroke="#0b4387" stroke-width="0.35"/>
<polygon points="320.12,435.38 320.12,471.50 302.11,453.44" fill="#f5fbee" stroke="#f5fbee" stroke-width="0.35"/>
<polygon points="320.12,471.50 284.09,471.50 302.11,453.44" fill="#99d7ba" stroke="#99d7ba" stroke-width="0.35"/>
<polygon points="284.09,471.50 284.09,435.38 302.11,453.44" fill="#f5fbee" stroke="#f5fbee" stroke-width="0.35"/>
<polygon points="320.12,435.38 356.15,435.38 338.13,453.44" fill="#0b4387" stroke="#0b4387" stroke-width="0.35"/>
<polygon points="356.15,435.38 356.15,471.50 338.13,453.44" fill="#f5fbee" stroke="#f5fbee" stroke-width="0.35"/>
<polygon points="356.15,471.50 320.12,471.50 338.13,453.44" fill="#f4fbed" stroke="#f4fbed" stroke-width="0.35"/>
<polygon points="320.12,471.50 320.12,435.38 338.13,453.44" fill="#f5fbee" stroke="#f5fbee" stroke-width="0.35"/>
<polygon points="356.15,435.38 392.18,435.38 374.16,453.44" fill="#0b4387" stroke="#0b4387" stroke-width="0.35"/>
<polygon points="392.18,435.38 392.18,471.50 374.16,453.44" fill="#f5fbee" stroke="#f5fbee" stroke-width="0.35"/>
<polygon points="392.18,471.50 356.15,471.50 374.16,453.44" fill="#f4fbed" stroke="#f4fbed" stroke-width="0.35"/>
<polygon points="356.15,471.50 356.15,435.38 374.16,453.44" fill="#f5fbee" stroke="#f5fbee" stroke-width="0.35"/>
<polygon points="392.18,435.38 428.21,435.38 410.19,453.44" fill="#0b4387" stroke="#0b4387" stroke-width="0.35"/>
<polygon points="428.21,435.38 428.21,471.50 410.19,453.44" fill="#f5fbee" stroke="#f5fbee" stroke-width="0.35"/>
<polygon points="428.21,471.50 392.18,471.50 410.19,453.44" fill="#f4fbed" stroke="#f4fbed" stroke-width="0.35"/>
<polygon points="392.18,471.50 392.18,435.38 410.19,453.44" fill="#f5fbee" stroke="#f5fbee" stroke-width="0.35"/>
<polygon points="428.21,435.38 464.24,435.38 446.23,453.44" fill="#0b4387" stroke="#0b4387" stroke-width="0.35"/>
<polygon points="464.24,435.38 464.24,471.50 446.23,453.44" fill="#f5fbee" stroke="#f5fbee" stroke-width="0.35"/>
<polygon points="464.24,471.50 428.21,471.50 446.23,453.44" fill="#f4fbed" stroke="#f4fbed" stroke-width="0.35"/>
<polygon points="428.21,471.50 428.21,435.38 446.23,453.44" fill="#f5fbee" stroke="#f5fbee" stroke-width="0.35"/>
<polygon points="464.24,435.38 500.27,435.38 482.25,453.44" fill="#0b4387" stroke="#0b4387" stroke-width="0.35"/>
<polygon points="500.27,435.38 500.27,471.50 482.25,453.44" fill="#f5fbee" stroke="#f5fbee" stroke-width="0.35"/>
<polygon points="500.27,471.50 464.24,471.50 482.25,453.44" fill="#ccebc5" stroke="#ccebc5" stroke-width="0.35"/>
<polygon points="464.24,471.50 464.24,435.38 482.25,453.44" fill="#f5fbee" stroke="#f5fbee" stroke-width="0.35"/>
<polygon points="500.27,435.38 536.30,435.38 518.28,453.44" fill="#0b4387" stroke="#0b4387" stroke-width="0.35"/>
<polygon points="536.30,435.38 536.30,471.50 518.28,453.44" fill="#f5fbee" stroke="#f5fbee" stroke-width="0.35"/>
<polygon points="536.30,471.50 500.27,471.50 518.28,453.44" fill="#f4fbed" stroke="#f4fbed" stroke-width="0.35"/>
<polygon points="500.27,471.50 500.27,435.38 518.28,453.44" fill="#f5fbee" stroke="#f5fbee" stroke-width="0.35"/>
<polygon points="536.30,435.38 572.33,435.38 554.31,453.44" fill="#2b8cbe" stroke="#2b8cbe" stroke-width="0.35"/>
<polygon points="572.33,435.38 572.33,471.50 554.31,453.44" fill="#f5fbee" stroke="#f5fbee" stroke-width="0.35"/>
<polygon points="572.33,471.50 536.30,471.50 554.31,453.44" fill="#0a4d91" stroke="#0a4d91" stroke-width="0.35"/>
<polygon points="536.30,471.50 536.30,435.38 554.31,453.44" fill="#f5fbee" stroke="#f5fbee" stroke-width="0.35"/>
<polygon points="572.33,435.38 608.36,435.38 590.35,453.44" fill="#0b4387" stroke="#0b4387" stroke-width="0.35"/>
<polygon points="608.36,435.38 608.36,471.50 590.35,453.44" fill="#f5fbee" stroke="#f5fbee" stroke-width="0.35"/>
<polygon points="608.36,471.50 572.33,471.50 590.35,453.44" fill="#f4fbed" stroke="#f4fbed" stroke-width="0.35"/>
<polygon points="572.33,471.50 572.33,435.38 590.35,453.44" fill="#f5fbee" stroke="#f5fbee" stroke-width="0.35"/>
<polygon points="176.00,471.50 212.03,471.50 194.01,489.56" fill="#0b4387" stroke="#0b4387" stroke-width="0.35"/>
<polygon points="212.03,471.50 212.03,507.62 194.01,489.56" fill="#f5fbee" stroke="#f5fbee" stroke-width="0.35"/>
<polygon points="212.03,507.62 176.00,507.62 194.01,489.56" fill="#bee5bf" stroke="#bee5bf" stroke-width="0.35"/>
<polygon points="176.00,507.62 176.00,471.50 194.01,489.56" fill="#bee5bf" stroke="#bee5bf" stroke-width="0.35"/>
<polygon points="212.03,471.50 248.06,471.50 230.05,489.56" fill="#ccebc5" stroke="#ccebc5" stroke-width="0.35"/>
<polygon points="248.06,471.50 248.06,507.62 230.05,489.56" fill="#ebf7e5" stroke="#ebf7e5" stroke-width="0.35"/>
<polygon points="248.06,507.62 212.03,507.62 230.05,489.56" fill="#1d7eb7" stroke="#1d7eb7" stroke-width="0.35"/>
<polygon points="212.03,507.62 212.03,471.50 230.05,489.56" fill="#b4e2ba" stroke="#b4e2ba" stroke-width="0.35"/>
<polygon points="248.06,471.50 284.09,471.50 266.07,489.56" fill="#0b4387" stroke="#0b4387" stroke-width="0.35"/>
<polygon points="284.09,471.50 284.09,507.62 266.07,489.56" fill="#f5fbee" stroke="#f5fbee" stroke-width="0.35"/>
<polygon points="284.09,507.62 248.06,507.62 266.07,489.56" fill="#e8f6e2" stroke="#e8f6e2" stroke-width="0.35"/>
<polygon points="248.06,507.62 248.06,471.50 266.07,489.56" fill="#f5fbee" stroke="#f5fbee" stroke-width="0.35"/>
<polygon points="284.09,471.50 320.12,471.50 302.11,489.56" fill="#0b4387" stroke="#0b4387" stroke-width="0.35"/>
<polygon points="320.12,471.50 320.12,507.62 302.11,489.56" fill="#f5fbee" stroke="#f5fbee" stroke-width="0.35"/>
<polygon points="320.12,507.62 284.09,507.62 302.11,489.56" fill="#87d1c0" stroke="#87d1c0" stroke-width="0.35"/>
<polygon points="284.09,507.62 284.09,471.50 302.11,489.56" fill="#f5fbee" stroke="#f5fbee" stroke-width="0.35"/>
<polygon points="320.12,471.50 356.15,471.50 338.13,489.56" fill="#0b4387" stroke="#0b4387" stroke-width="0.35"/>
<polygon points="356.15,471.50 356.15,507.62 338.13,489.56" fill="#f5fbee" stroke="#f5fbee" stroke-width="0.35"/>
<polygon points="356.15,507.62 320.12,507.62 338.13,489.56" fill="#f4fbed" stroke="#f4fbed" stroke-width="0.35"/>
<polygon points="320.12,507.62 320.12,471.50 338.13,489.56" fill="#f5fbee" stroke="#f5fbee" stroke-width="0.35"/>
<polygon points="356.15,471.50 392.18,471.50 374.16,489.56" fill="#0b4387" stroke="#0b4387" stroke-width="0.35"/>
<polygon points="392.18,471.50 392.18,507.62 374.16,489.56" fill="#f5fbee" stroke="#f5fbee" stroke-width="0.35"/>
<polygon points="392.18,507.62 356.15,507.62 374.16,489.56" fill="#f4fbed" stroke="#f4fbed" stroke-width="0.35"/>
<polygon points="356.15,507.62 356.15,471.50 374.16,489.56" fill="#f5fbee" stroke="#f5fbee" stroke-width="0.35"/>
<polygon points="392.18,471.50 428.21,471.50 410.19,489.56" fill="#0b4387" stroke="#0b4387" stroke-width="0.35"/>
<polygon points="428.21,471.50 428.21,507.62 410.19,489.56" fill="#f5fbee" stroke="#f5fbee" stroke-width="0.35"/>
<polygon points="428.21,507.62 392.18,507.62 410.19,489.56" fill="#f4fbed" stroke="#f4fbed" stroke-width="0.35"/>
<polygon points="392.18,507.62 392.18,471.50 410.19,489.56" fill="#f5fbee" stroke="#f5fbee" stroke-width="0.35"/>
<polygon points="428.21,471.50 464.24,471.50 446.23,489.56" fill="#0b4387" stroke="#0b4387" stroke-width="0.35"/>
<polygon points="464.24,471.50 464.24,507.62 446.23,489.56" fill="#f5fbee" stroke="#f5fbee" stroke-width="0.35"/>
<polygon points="464.24,507.62 428.21,507.62 446.23,489.56" fill="#f4fbed" stroke="#f4fbed" stroke-width="0.35"/>
<polygon points="428.21,507.62 428.21,471.50 446.23,489.56" fill="#ccebc5" stroke="#ccebc5" stroke-width="0.35"/>
<polygon points="464.24,471.50 500.27,471.50 482.25,489.56" fill="#0b4387" stroke="#0b4387" stroke-width="0.35"/>
<polygon points="500.27,471.50 500.27,507.62 482.25,489.56" fill="#f5fbee" stroke="#f5fbee" stroke-width="0.35"/>
<polygon points="500.27,507.62 464.24,507.62 482.25,489.56" fill="#bee5bf" stroke="#bee5bf" stroke-width="0.35"/>
<polygon points="464.24,507.62 464.24,471.50 482.25,489.56" fill="#b4e2ba" stroke="#b4e2ba" stroke-width="0.35"/>
<polygon points="500.27,471.50 536.30,471.50 518.28,489.56" fill="#0b4387" stroke="#0b4387" stroke-width="0.35"/>
<polygon points="536.30,471.50 536.30,507.62 518.28,489.56" fill="#f5fbee" stroke="#f5fbee" stroke-width="0.35"/>
<polygon points="536.30,507.62 500.27,507.62 518.28,489.56" fill="#f4fbed" stroke="#f4fbed" stroke-width="0.35"/>
<polygon points="500.27,507.62 500.27,471.50 518.28,489.56" fill="#f5fbee" stroke="#f5fbee" stroke-width="0.35"/>
<polygon points="536.30,471.50 572.33,471.50 554.31,489.56" fill="#0b4387" stroke="#0b4387" stroke-width="0.35"/>
<polygon points="572.33,471.50 572.33,507.62 554.31,489.56" fill="#f5fbee" stroke="#f5fbee" stroke-width="0.35"/>
<polygon points="572.33,507.62 536.30,507.62 554.31,489.56" fill="#f4fbed" stroke="#f4fbed" stroke-width="0.35"/>
<polygon points="536.30,507.62 536.30,471.50 554.31,489.56" fill="#f5fbee" stroke="#f5fbee" stroke-width="0.35"/>
<polygon points="572.33,471.50 608.36,471.50 590.35,489.56" fill="#0b4387" stroke="#0b4387" stroke-width="0.35"/>
<polygon points="608.36,471.50 608.36,507.62 590.35,489.56" fill="#f5fbee" stroke="#f5fbee" stroke-width="0.35"/>
<polygon points="608.36,507.62 572.33,507.62 590.35,489.56" fill="#f4fbed" stroke="#f4fbed" stroke-width="0.35"/>
<polygon points="572.33,507.62 572.33,471.50 590.35,489.56" fill="#f5fbee" stroke="#f5fbee" stroke-width="0.35"/>
<polygon points="176.00,507.62 212.03,507.62 194.01,525.68" fill="#0b4387" stroke="#0b4387" stroke-width="0.35"/>
<polygon points="212.03,507.62 212.03,543.74 194.01,525.68" fill="#f5fbee" stroke="#f5fbee" stroke-width="0.35"/>
<polygon points="212.03,543.74 176.00,543.74 194.01,525.68" fill="#d4eece" stroke="#d4eece" stroke-width="0.35"/>
<polygon points="176.00,543.74 176.00,507.62 194.01,525.68" fill="#f5fbee" stroke="#f5fbee" stroke-width="0.35"/>
<polygon points="212.03,507.62 248.06,507.62 230.05,525.68" fill="#42a6cc" stroke="#42a6cc" stroke-width="0.35"/>
<polygon points="248.06,507.62 248.06,543.74 230.05,525.68" fill="#f5fbee" stroke="#f5fbee" stroke-width="0.35"/>
<polygon points="248.06,543.74 212.03,543.74 230.05,525.68" fill="#095ca0" stroke="#095ca0" stroke-width="0.35"/>
<polygon points="212.03,543.74 212.03,507.62 230.05,525.68" fill="#f5fbee" stroke="#f5fbee" stroke-width="0.35"/>
<polygon points="248.06,507.62 284.09,507.62 266.07,525.68" fill="#0b4387" stroke="#0b4387" stroke-width="0.35"/>
<polygon points="284.09,507.62 284.09,543.74 266.07,525.68" fill="#f5fbee" stroke="#f5fbee" stroke-width="0.35"/>
<polygon points="284.09,543.74 248.06,543.74 266.07,525.68" fill="#dff2da" stroke="#dff2da" stroke-width="0.35"/>
<polygon points="248.06,543.74 248.06,507.62 266.07,525.68" fill="#f5fbee" stroke="#f5fbee" stroke-width="0.35"/>
<polygon points="284.09,507.62 320.12,507.62 302.11,525.68" fill="#0b4387" stroke="#0b4387" stroke-width="0.35"/>
<polygon points="320.12,507.62 320.12,543.74 302.11,525.68" fill="#f5fbee" stroke="#f5fbee" stroke-width="0.35"/>
<polygon points="320.12,543.74 284.09,543.74 302.11,525.68" fill="#42a6cc" stroke="#42a6cc" stroke-width="0.35"/>
<polygon points="284.09,543.74 284.09,507.62 302.11,525.68" fill="#f5fbee" stroke="#f5fbee" stroke-width="0.35"/>
<polygon points="320.12,507.62 356.15,507.62 338.13,525.68" fill="#0b4387" stroke="#0b4387" stroke-width="0.35"/>
<polygon points="356.15,507.62 356.15,543.74 338.13,525.68" fill="#f5fbee" stroke="#f5fbee" stroke-width="0.35"/>
<polygon points="356.15,543.74 320.12,543.74 338.13,525.68" fill="#f4fbed" stroke="#f4fbed" stroke-width="0.35"/>
<polygon points="320.12,543.74 320.12,507.62 338.13,525.68" fill="#f5fbee" stroke="#f5fbee" stroke-width="0.35"/>
<polygon points="356.15,507.62 392.18,507.62 374.16,525.68" fill="#0b4387" stroke="#0b4387" stroke-width="0.35"/>
<polygon points="392.18,507.62 392.18,543.74 374.16,525.68" fill="#f5fbee" stroke="#f5fbee" stroke-width="0.35"/>
<polygon points="392.18,543.74 356.15,543.74 374.16,525.68" fill="#f4fbed" stroke="#f4fbed" stroke-width="0.35"/>
<polygon points="356.15,543.74 356.15,507.62 374.16,525.68" fill="#f5fbee" stroke="#f5fbee" stroke-width="0.35"/>
<polygon points="392.18,507.62 428.21,507.62 410.19,525.68" fill="#0b4387" stroke="#0b4387" stroke-width="0.35"/>
<polygon points="428.21,507.62 428.21,543.74 410.19,525.68" fill="#f5fbee" stroke="#f5fbee" stroke-width="0.35"/>
<polygon points="428.21,543.74 392.18,543.74 410.19,525.68" fill="#f4fbed" stroke="#f4fbed" stroke-width="0.35"/>
<polygon points="392.18,543.74 392.18,507.62 410.19,525.68" fill="#f5fbee" stroke="#f5fbee" stroke-width="0.35"/>
<polygon points="428.21,507.62 464.24,507.62 446.23,525.68" fill="#0b4387" stroke="#0b4387" stroke-width="0.35"/>
<polygon points="464.24,507.62 464.24,543.74 446.23,525.68" fill="#f5fbee" stroke="#f5fbee" stroke-width="0.35"/>
<polygon points="464.24,543.74 428.21,543.74 446.23,525.68" fill="#f4fbed" stroke="#f4fbed" stroke-width="0.35"/>
<polygon points="428.21,543.74 428.21,507.62 446.23,525.68" fill="#f5fbee" stroke="#f5fbee" stroke-width="0.35"/>
<polygon points="464.24,507.62 500.27,507.62 482.25,525.68" fill="#0b4387" stroke="#0b4387" stroke-width="0.35"/>
<polygon points="500.27,507.62 500.27,543.74 482.25,525.68" fill="#f5fbee" stroke="#f5fbee" stroke-width="0.35"/>
<polygon points="500.27,543.74 464.24,543.74 482.25,525.68" fill="#f4fbed" stroke="#f4fbed" stroke-width="0.35"/>
<polygon points="464.24,543.74 464.24,507.62 482.25,525.68" fill="#f5fbee" stroke="#f5fbee" stroke-width="0.35"/>
<polygon points="500.27,507.62 536.30,507.62 518.28,525.68" fill="#0b4387" stroke="#0b4387" stroke-width="0.35"/>
<polygon points="536.30,507.62 536.30,543.74 518.28,525.68" fill="#f5fbee" stroke="#f5fbee" stroke-width="0.35"/>
<polygon points="536.30,543.74 500.27,543.74 518.28,525.68" fill="#f4fbed" stroke="#f4fbed" stroke-width="0.35"/>
<polygon points="500.27,543.74 500.27,507.62 518.28,525.68" fill="#f5fbee" stroke="#f5fbee" stroke-width="0.35"/>
<polygon points="536.30,507.62 572.33,507.62 554.31,525.68" fill="#0b4387" stroke="#0b4387" stroke-width="0.35"/>
<polygon points="572.33,507.62 572.33,543.74 554.31,525.68" fill="#f5fbee" stroke="#f5fbee" stroke-width="0.35"/>
<polygon points="572.33,543.74 536.30,543.74 554.31,525.68" fill="#f4fbed" stroke="#f4fbed" stroke-width="0.35"/>
<polygon points="536.30,543.74 536.30,507.62 554.31,525.68" fill="#f5fbee" stroke="#f5fbee" stroke-width="0.35"/>
<polygon points="572.33,507.62 608.36,507.62 590.35,525.68" fill="#0b4387" stroke="#0b4387" stroke-width="0.35"/>
<polygon points="608.36,507.62 608.36,543.74 590.35,525.68" fill="#f5fbee" stroke="#f5fbee" stroke-width="0.35"/>
<polygon points="608.36,543.74 572.33,543.74 590.35,525.68" fill="#f4fbed" stroke="#f4fbed" stroke-width="0.35"/>
<polygon points="572.33,543.74 572.33,507.62 590.35,525.68" fill="#f5fbee" stroke="#f5fbee" stroke-width="0.35"/>
<line x1="320.12" y1="110.30" x2="320.12" y2="543.74" stroke="#111" stroke-width="1.8"/>
<line x1="392.18" y1="110.30" x2="392.18" y2="543.74" stroke="#111" stroke-width="1.8"/>
<line x1="428.21" y1="110.30" x2="428.21" y2="543.74" stroke="#111" stroke-width="1.8"/>
<line x1="572.33" y1="110.30" x2="572.33" y2="543.74" stroke="#111" stroke-width="1.8"/>
<line x1="176.00" y1="146.42" x2="608.36" y2="146.42" stroke="#111" stroke-width="1.8"/>
<line x1="176.00" y1="290.90" x2="608.36" y2="290.90" stroke="#111" stroke-width="1.8"/>
<line x1="176.00" y1="327.02" x2="608.36" y2="327.02" stroke="#111" stroke-width="1.8"/>
<line x1="176.00" y1="399.26" x2="608.36" y2="399.26" stroke="#111" stroke-width="1.8"/>
<rect x="176.00" y="110.30" width="432.36" height="433.44" fill="none" stroke="#111" stroke-width="1.6"/>
<rect x="212.23" y="254.88" width="36.33" height="36.22" fill="none" stroke="#d0262b" stroke-width="2.6"/>
<rect x="428.41" y="254.88" width="36.33" height="36.22" fill="none" stroke="#d0262b" stroke-width="2.6"/>
<rect x="212.23" y="471.60" width="36.33" height="36.22" fill="none" stroke="#d0262b" stroke-width="2.6"/>
<rect x="428.41" y="471.60" width="36.33" height="36.22" fill="none" stroke="#d0262b" stroke-width="2.6"/>
<text x="168.3" y="135.96" font-size="19.4" text-anchor="end" fill="#1a1a1a" font-family="'DejaVu Sans', 'Liberation Sans', sans-serif">Oceania</text>
<text x="168.3" y="172.08" font-size="19.4" text-anchor="end" fill="#1a1a1a" font-family="'DejaVu Sans', 'Liberation Sans', sans-serif">W. Asia</text>
<text x="168.3" y="208.20" font-size="19.4" text-anchor="end" fill="#1a1a1a" font-family="'DejaVu Sans', 'Liberation Sans', sans-serif">SE. Asia</text>
<text x="168.3" y="244.32" font-size="19.4" text-anchor="end" fill="#1a1a1a" font-family="'DejaVu Sans', 'Liberation Sans', sans-serif">C. and S. Asia</text>
<text x="168.3" y="280.44" font-size="19.4" text-anchor="end" fill="#1a1a1a" font-family="'DejaVu Sans', 'Liberation Sans', sans-serif">E. Asia</text>
<text x="168.3" y="316.56" font-size="19.4" text-anchor="end" fill="#1a1a1a" font-family="'DejaVu Sans', 'Liberation Sans', sans-serif">Africa</text>
<text x="168.3" y="352.68" font-size="19.4" text-anchor="end" fill="#1a1a1a" font-family="'DejaVu Sans', 'Liberation Sans', sans-serif">L. America</text>
<text x="168.3" y="388.80" font-size="19.4" text-anchor="end" fill="#1a1a1a" font-family="'DejaVu Sans', 'Liberation Sans', sans-serif">N. America</text>
<text x="168.3" y="424.92" font-size="19.4" text-anchor="end" fill="#1a1a1a" font-family="'DejaVu Sans', 'Liberation Sans', sans-serif">W. Europe</text>
<text x="168.3" y="461.04" font-size="19.4" text-anchor="end" fill="#1a1a1a" font-family="'DejaVu Sans', 'Liberation Sans', sans-serif">S. Europe</text>
<text x="168.3" y="497.16" font-size="19.4" text-anchor="end" fill="#1a1a1a" font-family="'DejaVu Sans', 'Liberation Sans', sans-serif">E. Europe</text>
<text x="168.3" y="533.28" font-size="19.4" text-anchor="end" fill="#1a1a1a" font-family="'DejaVu Sans', 'Liberation Sans', sans-serif">N. Europe</text>
<text transform="translate(192.21,551.0) rotate(-90)" x="0" y="0" font-size="19.4" text-anchor="end" dominant-baseline="central" fill="#1a1a1a" font-family="'DejaVu Sans', 'Liberation Sans', sans-serif">N. Europe</text>
<text transform="translate(228.25,551.0) rotate(-90)" x="0" y="0" font-size="19.4" text-anchor="end" dominant-baseline="central" fill="#1a1a1a" font-family="'DejaVu Sans', 'Liberation Sans', sans-serif">E. Europe</text>
<text transform="translate(264.27,551.0) rotate(-90)" x="0" y="0" font-size="19.4" text-anchor="end" dominant-baseline="central" fill="#1a1a1a" font-family="'DejaVu Sans', 'Liberation Sans', sans-serif">S. Europe</text>
<text transform="translate(300.31,551.0) rotate(-90)" x="0" y="0" font-size="19.4" text-anchor="end" dominant-baseline="central" fill="#1a1a1a" font-family="'DejaVu Sans', 'Liberation Sans', sans-serif">W. Europe</text>
<text transform="translate(336.33,551.0) rotate(-90)" x="0" y="0" font-size="19.4" text-anchor="end" dominant-baseline="central" fill="#1a1a1a" font-family="'DejaVu Sans', 'Liberation Sans', sans-serif">N. America</text>
<text transform="translate(372.37,551.0) rotate(-90)" x="0" y="0" font-size="19.4" text-anchor="end" dominant-baseline="central" fill="#1a1a1a" font-family="'DejaVu Sans', 'Liberation Sans', sans-serif">L. America</text>
<text transform="translate(408.39,551.0) rotate(-90)" x="0" y="0" font-size="19.4" text-anchor="end" dominant-baseline="central" fill="#1a1a1a" font-family="'DejaVu Sans', 'Liberation Sans', sans-serif">Africa</text>
<text transform="translate(444.43,551.0) rotate(-90)" x="0" y="0" font-size="19.4" text-anchor="end" dominant-baseline="central" fill="#1a1a1a" font-family="'DejaVu Sans', 'Liberation Sans', sans-serif">E. Asia</text>
<text transform="translate(480.45,551.0) rotate(-90)" x="0" y="0" font-size="19.4" text-anchor="end" dominant-baseline="central" fill="#1a1a1a" font-family="'DejaVu Sans', 'Liberation Sans', sans-serif">C. and S. Asia</text>
<text transform="translate(516.49,551.0) rotate(-90)" x="0" y="0" font-size="19.4" text-anchor="end" dominant-baseline="central" fill="#1a1a1a" font-family="'DejaVu Sans', 'Liberation Sans', sans-serif">SE. Asia</text>
<text transform="translate(552.52,551.0) rotate(-90)" x="0" y="0" font-size="19.4" text-anchor="end" dominant-baseline="central" fill="#1a1a1a" font-family="'DejaVu Sans', 'Liberation Sans', sans-serif">W. Asia</text>
<text transform="translate(588.55,551.0) rotate(-90)" x="0" y="0" font-size="19.4" text-anchor="end" dominant-baseline="central" fill="#1a1a1a" font-family="'DejaVu Sans', 'Liberation Sans', sans-serif">Oceania</text>
<text x="392" y="101.7" font-size="19.4" text-anchor="middle" fill="#1a1a1a" font-family="'DejaVu Sans', 'Liberation Sans', sans-serif">By continent</text>
<text x="392" y="707.8" font-size="19.4" text-anchor="middle" fill="#1a1a1a" font-family="'DejaVu Sans', 'Liberation Sans', sans-serif">Importer</text>
<text transform="translate(22.8,329.0) rotate(-90)" x="0" y="0" font-size="19.4" text-anchor="middle" fill="#1a1a1a" font-family="'DejaVu Sans', 'Liberation Sans', sans-serif">Exporter</text>
<ellipse cx="574.8" cy="103.3" rx="1.3" ry="0.7" fill="#555"/>
<text transform="translate(1.0,50.6) scale(0.96,1)" font-size="27" fill="#000" font-family="'Liberation Sans', Arial, sans-serif" font-weight="bold">A</text>
<text transform="translate(644.4,50.3) scale(0.9,1)" font-size="27.5" fill="#000" font-family="'Liberation Sans', Arial, sans-serif" font-weight="bold">B</text>
<text transform="translate(644.6,487.6) scale(0.9,1)" font-size="27.5" fill="#000" font-family="'Liberation Sans', Arial, sans-serif" font-weight="bold">C</text>
<rect x="109.70" y="713.10" width="75.40" height="74.90" fill="#fff" stroke="#333" stroke-width="1.2"/>
<line x1="109.70" y1="713.10" x2="185.10" y2="788.00" stroke="#333" stroke-width="1.1"/>
<line x1="185.10" y1="713.10" x2="109.70" y2="788.00" stroke="#333" stroke-width="1.1"/>
<text x="147.40" y="725.7" text-anchor="middle" font-size="9.2" fill="#333" font-family="'DejaVu Sans', 'Liberation Sans', sans-serif">Shipping</text>
<text x="147.40" y="781.2" text-anchor="middle" font-size="9.2" fill="#333" font-family="'DejaVu Sans', 'Liberation Sans', sans-serif">Road</text>
<text transform="translate(172.6,750.55) rotate(90)" text-anchor="middle" font-size="9.2" fill="#333" font-family="'DejaVu Sans', 'Liberation Sans', sans-serif">Aviation</text>
<text transform="translate(122.4,750.55) rotate(-90)" text-anchor="middle" font-size="9.2" fill="#333" font-family="'DejaVu Sans', 'Liberation Sans', sans-serif">Rail</text>
<defs><linearGradient id="gnbu" x1="0" y1="0" x2="1" y2="0">
<stop offset="0.0000" stop-color="#f7fcf0"/>
<stop offset="0.1250" stop-color="#e0f3db"/>
<stop offset="0.2500" stop-color="#ccebc5"/>
<stop offset="0.3750" stop-color="#a8ddb5"/>
<stop offset="0.5000" stop-color="#7bccc4"/>
<stop offset="0.6250" stop-color="#4eb3d3"/>
<stop offset="0.7500" stop-color="#2b8cbe"/>
<stop offset="0.8750" stop-color="#0868ac"/>
<stop offset="1.0000" stop-color="#0b4387"/>
</linearGradient></defs>
<rect x="206.30" y="737.70" width="388.20" height="14.90" fill="url(#gnbu)" stroke="#222" stroke-width="1.1"/>
<line x1="206.30" y1="752.60" x2="206.30" y2="756.10" stroke="#222" stroke-width="1.1"/>
<text x="206.30" y="778.0" font-size="19" text-anchor="middle" fill="#1a1a1a" font-family="'DejaVu Sans', 'Liberation Sans', sans-serif">0</text>
<line x1="335.70" y1="752.60" x2="335.70" y2="756.10" stroke="#222" stroke-width="1.1"/>
<text x="335.70" y="778.0" font-size="19" text-anchor="middle" fill="#1a1a1a" font-family="'DejaVu Sans', 'Liberation Sans', sans-serif">20</text>
<line x1="465.10" y1="752.60" x2="465.10" y2="756.10" stroke="#222" stroke-width="1.1"/>
<text x="465.10" y="778.0" font-size="19" text-anchor="middle" fill="#1a1a1a" font-family="'DejaVu Sans', 'Liberation Sans', sans-serif">40</text>
<line x1="594.50" y1="752.60" x2="594.50" y2="756.10" stroke="#222" stroke-width="1.1"/>
<text x="594.50" y="778.0" font-size="19" text-anchor="middle" fill="#1a1a1a" font-family="'DejaVu Sans', 'Liberation Sans', sans-serif">60</text>
<text x="400.40" y="818.6" font-size="19.4" text-anchor="middle" fill="#1a1a1a" font-family="'DejaVu Sans', 'Liberation Sans', sans-serif">Modal share (%)</text>
<polygon points="753.90,27.70 780.84,27.70 767.37,41.20" fill="#0b4387" stroke="#0b4387" stroke-width="0.35"/>
<polygon points="780.84,27.70 780.84,54.70 767.37,41.20" fill="#f1faea" stroke="#f1faea" stroke-width="0.35"/>
<polygon points="780.84,54.70 753.90,54.70 767.37,41.20" fill="#eff9e9" stroke="#eff9e9" stroke-width="0.35"/>
<polygon points="753.90,54.70 753.90,27.70 767.37,41.20" fill="#f1faea" stroke="#f1faea" stroke-width="0.35"/>
<polygon points="780.84,27.70 807.78,27.70 794.31,41.20" fill="#0b4387" stroke="#0b4387" stroke-width="0.35"/>
<polygon points="807.78,27.70 807.78,54.70 794.31,41.20" fill="#f1faea" stroke="#f1faea" stroke-width="0.35"/>
<polygon points="807.78,54.70 780.84,54.70 794.31,41.20" fill="#eff9e9" stroke="#eff9e9" stroke-width="0.35"/>
<polygon points="780.84,54.70 780.84,27.70 794.31,41.20" fill="#f1faea" stroke="#f1faea" stroke-width="0.35"/>
<polygon points="807.78,27.70 834.72,27.70 821.25,41.20" fill="#aadeb6" stroke="#aadeb6" stroke-width="0.35"/>
<polygon points="834.72,27.70 834.72,54.70 821.25,41.20" fill="#f1faea" stroke="#f1faea" stroke-width="0.35"/>
<polygon points="834.72,54.70 807.78,54.70 821.25,41.20" fill="#0b4387" stroke="#0b4387" stroke-width="0.35"/>
<polygon points="807.78,54.70 807.78,27.70 821.25,41.20" fill="#f1faea" stroke="#f1faea" stroke-width="0.35"/>
<polygon points="834.72,27.70 861.66,27.70 848.19,41.20" fill="#0b4387" stroke="#0b4387" stroke-width="0.35"/>
<polygon points="861.66,27.70 861.66,54.70 848.19,41.20" fill="#f1faea" stroke="#f1faea" stroke-width="0.35"/>
<polygon points="861.66,54.70 834.72,54.70 848.19,41.20" fill="#eff9e9" stroke="#eff9e9" stroke-width="0.35"/>
<polygon points="834.72,54.70 834.72,27.70 848.19,41.20" fill="#f1faea" stroke="#f1faea" stroke-width="0.35"/>
<polygon points="861.66,27.70 888.60,27.70 875.13,41.20" fill="#0b4387" stroke="#0b4387" stroke-width="0.35"/>
<polygon points="888.60,27.70 888.60,54.70 875.13,41.20" fill="#f1faea" stroke="#f1faea" stroke-width="0.35"/>
<polygon points="888.60,54.70 861.66,54.70 875.13,41.20" fill="#eff9e9" stroke="#eff9e9" stroke-width="0.35"/>
<polygon points="861.66,54.70 861.66,27.70 875.13,41.20" fill="#f1faea" stroke="#f1faea" stroke-width="0.35"/>
<polygon points="888.60,27.70 915.54,27.70 902.07,41.20" fill="#0b4387" stroke="#0b4387" stroke-width="0.35"/>
<polygon points="915.54,27.70 915.54,54.70 902.07,41.20" fill="#f1faea" stroke="#f1faea" stroke-width="0.35"/>
<polygon points="915.54,54.70 888.60,54.70 902.07,41.20" fill="#eff9e9" stroke="#eff9e9" stroke-width="0.35"/>
<polygon points="888.60,54.70 888.60,27.70 902.07,41.20" fill="#f1faea" stroke="#f1faea" stroke-width="0.35"/>
<polygon points="915.54,27.70 942.48,27.70 929.01,41.20" fill="#0b4387" stroke="#0b4387" stroke-width="0.35"/>
<polygon points="942.48,27.70 942.48,54.70 929.01,41.20" fill="#f1faea" stroke="#f1faea" stroke-width="0.35"/>
<polygon points="942.48,54.70 915.54,54.70 929.01,41.20" fill="#d4eece" stroke="#d4eece" stroke-width="0.35"/>
<polygon points="915.54,54.70 915.54,27.70 929.01,41.20" fill="#f1faea" stroke="#f1faea" stroke-width="0.35"/>
<polygon points="942.48,27.70 969.42,27.70 955.95,41.20" fill="#0b4387" stroke="#0b4387" stroke-width="0.35"/>
<polygon points="969.42,27.70 969.42,54.70 955.95,41.20" fill="#f1faea" stroke="#f1faea" stroke-width="0.35"/>
<polygon points="969.42,54.70 942.48,54.70 955.95,41.20" fill="#eff9e9" stroke="#eff9e9" stroke-width="0.35"/>
<polygon points="942.48,54.70 942.48,27.70 955.95,41.20" fill="#f1faea" stroke="#f1faea" stroke-width="0.35"/>
<polygon points="969.42,27.70 996.36,27.70 982.89,41.20" fill="#2b8cbe" stroke="#2b8cbe" stroke-width="0.35"/>
<polygon points="996.36,27.70 996.36,54.70 982.89,41.20" fill="#f6fcef" stroke="#f6fcef" stroke-width="0.35"/>
<polygon points="996.36,54.70 969.42,54.70 982.89,41.20" fill="#399cc6" stroke="#399cc6" stroke-width="0.35"/>
<polygon points="969.42,54.70 969.42,27.70 982.89,41.20" fill="#f6fcef" stroke="#f6fcef" stroke-width="0.35"/>
<polygon points="996.36,27.70 1023.30,27.70 1009.83,41.20" fill="#0b4387" stroke="#0b4387" stroke-width="0.35"/>
<polygon points="1023.30,27.70 1023.30,54.70 1009.83,41.20" fill="#f6fcef" stroke="#f6fcef" stroke-width="0.35"/>
<polygon points="1023.30,54.70 996.36,54.70 1009.83,41.20" fill="#f6fcef" stroke="#f6fcef" stroke-width="0.35"/>
<polygon points="996.36,54.70 996.36,27.70 1009.83,41.20" fill="#f6fcef" stroke="#f6fcef" stroke-width="0.35"/>
<polygon points="1023.30,27.70 1050.24,27.70 1036.77,41.20" fill="#0b4387" stroke="#0b4387" stroke-width="0.35"/>
<polygon points="1050.24,27.70 1050.24,54.70 1036.77,41.20" fill="#f6fcef" stroke="#f6fcef" stroke-width="0.35"/>
<polygon points="1050.24,54.70 1023.30,54.70 1036.77,41.20" fill="#f6fcef" stroke="#f6fcef" stroke-width="0.35"/>
<polygon points="1023.30,54.70 1023.30,27.70 1036.77,41.20" fill="#f6fcef" stroke="#f6fcef" stroke-width="0.35"/>
<rect x="1050.24" y="27.70" width="26.94" height="27.00" fill="#ffffff"/>
<polygon points="753.90,54.70 780.84,54.70 767.37,68.20" fill="#0b4387" stroke="#0b4387" stroke-width="0.35"/>
<polygon points="780.84,54.70 780.84,81.70 767.37,68.20" fill="#f1faea" stroke="#f1faea" stroke-width="0.35"/>
<polygon points="780.84,81.70 753.90,81.70 767.37,68.20" fill="#eff9e9" stroke="#eff9e9" stroke-width="0.35"/>
<polygon points="753.90,81.70 753.90,54.70 767.37,68.20" fill="#f1faea" stroke="#f1faea" stroke-width="0.35"/>
<polygon points="780.84,54.70 807.78,54.70 794.31,68.20" fill="#0b4387" stroke="#0b4387" stroke-width="0.35"/>
<polygon points="807.78,54.70 807.78,81.70 794.31,68.20" fill="#bee5bf" stroke="#bee5bf" stroke-width="0.35"/>
<polygon points="807.78,81.70 780.84,81.70 794.31,68.20" fill="#eff9e9" stroke="#eff9e9" stroke-width="0.35"/>
<polygon points="780.84,81.70 780.84,54.70 794.31,68.20" fill="#f1faea" stroke="#f1faea" stroke-width="0.35"/>
<polygon points="807.78,54.70 834.72,54.70 821.25,68.20" fill="#0b4387" stroke="#0b4387" stroke-width="0.35"/>
<polygon points="834.72,54.70 834.72,81.70 821.25,68.20" fill="#f1faea" stroke="#f1faea" stroke-width="0.35"/>
<polygon points="834.72,81.70 807.78,81.70 821.25,68.20" fill="#eff9e9" stroke="#eff9e9" stroke-width="0.35"/>
<polygon points="807.78,81.70 807.78,54.70 821.25,68.20" fill="#f1faea" stroke="#f1faea" stroke-width="0.35"/>
<polygon points="834.72,54.70 861.66,54.70 848.19,68.20" fill="#0b4387" stroke="#0b4387" stroke-width="0.35"/>
<polygon points="861.66,54.70 861.66,81.70 848.19,68.20" fill="#f1faea" stroke="#f1faea" stroke-width="0.35"/>
<polygon points="861.66,81.70 834.72,81.70 848.19,68.20" fill="#eff9e9" stroke="#eff9e9" stroke-width="0.35"/>
<polygon points="834.72,81.70 834.72,54.70 848.19,68.20" fill="#f1faea" stroke="#f1faea" stroke-width="0.35"/>
<polygon points="861.66,54.70 888.60,54.70 875.13,68.20" fill="#0b4387" stroke="#0b4387" stroke-width="0.35"/>
<polygon points="888.60,54.70 888.60,81.70 875.13,68.20" fill="#f1faea" stroke="#f1faea" stroke-width="0.35"/>
<polygon points="888.60,81.70 861.66,81.70 875.13,68.20" fill="#eff9e9" stroke="#eff9e9" stroke-width="0.35"/>
<polygon points="861.66,81.70 861.66,54.70 875.13,68.20" fill="#f1faea" stroke="#f1faea" stroke-width="0.35"/>
<polygon points="888.60,54.70 915.54,54.70 902.07,68.20" fill="#0b4387" stroke="#0b4387" stroke-width="0.35"/>
<polygon points="915.54,54.70 915.54,81.70 902.07,68.20" fill="#f1faea" stroke="#f1faea" stroke-width="0.35"/>
<polygon points="915.54,81.70 888.60,81.70 902.07,68.20" fill="#eff9e9" stroke="#eff9e9" stroke-width="0.35"/>
<polygon points="888.60,81.70 888.60,54.70 902.07,68.20" fill="#f1faea" stroke="#f1faea" stroke-width="0.35"/>
<polygon points="915.54,54.70 942.48,54.70 929.01,68.20" fill="#0b4387" stroke="#0b4387" stroke-width="0.35"/>
<polygon points="942.48,54.70 942.48,81.70 929.01,68.20" fill="#f1faea" stroke="#f1faea" stroke-width="0.35"/>
<polygon points="942.48,81.70 915.54,81.70 929.01,68.20" fill="#eff9e9" stroke="#eff9e9" stroke-width="0.35"/>
<polygon points="915.54,81.70 915.54,54.70 929.01,68.20" fill="#f1faea" stroke="#f1faea" stroke-width="0.35"/>
<polygon points="942.48,54.70 969.42,54.70 955.95,68.20" fill="#0b4387" stroke="#0b4387" stroke-width="0.35"/>
<polygon points="969.42,54.70 969.42,81.70 955.95,68.20" fill="#42a6cc" stroke="#42a6cc" stroke-width="0.35"/>
<polygon points="969.42,81.70 942.48,81.70 955.95,68.20" fill="#eff9e9" stroke="#eff9e9" stroke-width="0.35"/>
<polygon points="942.48,81.70 942.48,54.70 955.95,68.20" fill="#f1faea" stroke="#f1faea" stroke-width="0.35"/>
<polygon points="969.42,54.70 996.36,54.70 982.89,68.20" fill="#0b4387" stroke="#0b4387" stroke-width="0.35"/>
<polygon points="996.36,54.70 996.36,81.70 982.89,68.20" fill="#f6fcef" stroke="#f6fcef" stroke-width="0.35"/>
<polygon points="996.36,81.70 969.42,81.70 982.89,68.20" fill="#f6fcef" stroke="#f6fcef" stroke-width="0.35"/>
<polygon points="969.42,81.70 969.42,54.70 982.89,68.20" fill="#f6fcef" stroke="#f6fcef" stroke-width="0.35"/>
<polygon points="996.36,54.70 1023.30,54.70 1009.83,68.20" fill="#0b4387" stroke="#0b4387" stroke-width="0.35"/>
<polygon points="1023.30,54.70 1023.30,81.70 1009.83,68.20" fill="#f6fcef" stroke="#f6fcef" stroke-width="0.35"/>
<polygon points="1023.30,81.70 996.36,81.70 1009.83,68.20" fill="#f6fcef" stroke="#f6fcef" stroke-width="0.35"/>
<polygon points="996.36,81.70 996.36,54.70 1009.83,68.20" fill="#f6fcef" stroke="#f6fcef" stroke-width="0.35"/>
<rect x="1023.30" y="54.70" width="26.94" height="27.00" fill="#ffffff"/>
<polygon points="1050.24,54.70 1077.18,54.70 1063.71,68.20" fill="#0b4387" stroke="#0b4387" stroke-width="0.35"/>
<polygon points="1077.18,54.70 1077.18,81.70 1063.71,68.20" fill="#f6fcef" stroke="#f6fcef" stroke-width="0.35"/>
<polygon points="1077.18,81.70 1050.24,81.70 1063.71,68.20" fill="#f6fcef" stroke="#f6fcef" stroke-width="0.35"/>
<polygon points="1050.24,81.70 1050.24,54.70 1063.71,68.20" fill="#f6fcef" stroke="#f6fcef" stroke-width="0.35"/>
<polygon points="753.90,81.70 780.84,81.70 767.37,95.20" fill="#0b4387" stroke="#0b4387" stroke-width="0.35"/>
<polygon points="780.84,81.70 780.84,108.70 767.37,95.20" fill="#d4eece" stroke="#d4eece" stroke-width="0.35"/>
<polygon points="780.84,108.70 753.90,108.70 767.37,95.20" fill="#eff9e9" stroke="#eff9e9" stroke-width="0.35"/>
<polygon points="753.90,108.70 753.90,81.70 767.37,95.20" fill="#f1faea" stroke="#f1faea" stroke-width="0.35"/>
<polygon points="780.84,81.70 807.78,81.70 794.31,95.20" fill="#0b4387" stroke="#0b4387" stroke-width="0.35"/>
<polygon points="807.78,81.70 807.78,108.70 794.31,95.20" fill="#f1faea" stroke="#f1faea" stroke-width="0.35"/>
<polygon points="807.78,108.70 780.84,108.70 794.31,95.20" fill="#dff2da" stroke="#dff2da" stroke-width="0.35"/>
<polygon points="780.84,108.70 780.84,81.70 794.31,95.20" fill="#f1faea" stroke="#f1faea" stroke-width="0.35"/>
<polygon points="807.78,81.70 834.72,81.70 821.25,95.20" fill="#0b4387" stroke="#0b4387" stroke-width="0.35"/>
<polygon points="834.72,81.70 834.72,108.70 821.25,95.20" fill="#f1faea" stroke="#f1faea" stroke-width="0.35"/>
<polygon points="834.72,108.70 807.78,108.70 821.25,95.20" fill="#eff9e9" stroke="#eff9e9" stroke-width="0.35"/>
<polygon points="807.78,108.70 807.78,81.70 821.25,95.20" fill="#f1faea" stroke="#f1faea" stroke-width="0.35"/>
<polygon points="834.72,81.70 861.66,81.70 848.19,95.20" fill="#0b4387" stroke="#0b4387" stroke-width="0.35"/>
<polygon points="861.66,81.70 861.66,108.70 848.19,95.20" fill="#f1faea" stroke="#f1faea" stroke-width="0.35"/>
<polygon points="861.66,108.70 834.72,108.70 848.19,95.20" fill="#eff9e9" stroke="#eff9e9" stroke-width="0.35"/>
<polygon points="834.72,108.70 834.72,81.70 848.19,95.20" fill="#f1faea" stroke="#f1faea" stroke-width="0.35"/>
<polygon points="861.66,81.70 888.60,81.70 875.13,95.20" fill="#0b4387" stroke="#0b4387" stroke-width="0.35"/>
<polygon points="888.60,81.70 888.60,108.70 875.13,95.20" fill="#f1faea" stroke="#f1faea" stroke-width="0.35"/>
<polygon points="888.60,108.70 861.66,108.70 875.13,95.20" fill="#eff9e9" stroke="#eff9e9" stroke-width="0.35"/>
<polygon points="861.66,108.70 861.66,81.70 875.13,95.20" fill="#f1faea" stroke="#f1faea" stroke-width="0.35"/>
<polygon points="888.60,81.70 915.54,81.70 902.07,95.20" fill="#0b4387" stroke="#0b4387" stroke-width="0.35"/>
<polygon points="915.54,81.70 915.54,108.70 902.07,95.20" fill="#f1faea" stroke="#f1faea" stroke-width="0.35"/>
<polygon points="915.54,108.70 888.60,108.70 902.07,95.20" fill="#eff9e9" stroke="#eff9e9" stroke-width="0.35"/>
<polygon points="888.60,108.70 888.60,81.70 902.07,95.20" fill="#f1faea" stroke="#f1faea" stroke-width="0.35"/>
<polygon points="915.54,81.70 942.48,81.70 929.01,95.20" fill="#0b4387" stroke="#0b4387" stroke-width="0.35"/>
<polygon points="942.48,81.70 942.48,108.70 929.01,95.20" fill="#f1faea" stroke="#f1faea" stroke-width="0.35"/>
<polygon points="942.48,108.70 915.54,108.70 929.01,95.20" fill="#eff9e9" stroke="#eff9e9" stroke-width="0.35"/>
<polygon points="915.54,108.70 915.54,81.70 929.01,95.20" fill="#f1faea" stroke="#f1faea" stroke-width="0.35"/>
<polygon points="942.48,81.70 969.42,81.70 955.95,95.20" fill="#0b4387" stroke="#0b4387" stroke-width="0.35"/>
<polygon points="969.42,81.70 969.42,108.70 955.95,95.20" fill="#87d1c0" stroke="#87d1c0" stroke-width="0.35"/>
<polygon points="969.42,108.70 942.48,108.70 955.95,95.20" fill="#eff9e9" stroke="#eff9e9" stroke-width="0.35"/>
<polygon points="942.48,108.70 942.48,81.70 955.95,95.20" fill="#f1faea" stroke="#f1faea" stroke-width="0.35"/>
<polygon points="969.42,81.70 996.36,81.70 982.89,95.20" fill="#0b4387" stroke="#0b4387" stroke-width="0.35"/>
<polygon points="996.36,81.70 996.36,108.70 982.89,95.20" fill="#f6fcef" stroke="#f6fcef" stroke-width="0.35"/>
<polygon points="996.36,108.70 969.42,108.70 982.89,95.20" fill="#f6fcef" stroke="#f6fcef" stroke-width="0.35"/>
<polygon points="969.42,108.70 969.42,81.70 982.89,95.20" fill="#f6fcef" stroke="#f6fcef" stroke-width="0.35"/>
<rect x="996.36" y="81.70" width="26.94" height="27.00" fill="#ffffff"/>
<polygon points="1023.30,81.70 1050.24,81.70 1036.77,95.20" fill="#0b4387" stroke="#0b4387" stroke-width="0.35"/>
<polygon points="1050.24,81.70 1050.24,108.70 1036.77,95.20" fill="#f6fcef" stroke="#f6fcef" stroke-width="0.35"/>
<polygon points="1050.24,108.70 1023.30,108.70 1036.77,95.20" fill="#f6fcef" stroke="#f6fcef" stroke-width="0.35"/>
<polygon points="1023.30,108.70 1023.30,81.70 1036.77,95.20" fill="#f6fcef" stroke="#f6fcef" stroke-width="0.35"/>
<polygon points="1050.24,81.70 1077.18,81.70 1063.71,95.20" fill="#0b4387" stroke="#0b4387" stroke-width="0.35"/>
<polygon points="1077.18,81.70 1077.18,108.70 1063.71,95.20" fill="#f6fcef" stroke="#f6fcef" stroke-width="0.35"/>
<polygon points="1077.18,108.70 1050.24,108.70 1063.71,95.20" fill="#f6fcef" stroke="#f6fcef" stroke-width="0.35"/>
<polygon points="1050.24,108.70 1050.24,81.70 1063.71,95.20" fill="#f6fcef" stroke="#f6fcef" stroke-width="0.35"/>
<polygon points="753.90,108.70 780.84,108.70 767.37,122.20" fill="#0b4387" stroke="#0b4387" stroke-width="0.35"/>
<polygon points="780.84,108.70 780.84,135.70 767.37,122.20" fill="#b4e2ba" stroke="#b4e2ba" stroke-width="0.35"/>
<polygon points="780.84,135.70 753.90,135.70 767.37,122.20" fill="#eff9e9" stroke="#eff9e9" stroke-width="0.35"/>
<polygon points="753.90,135.70 753.90,108.70 767.37,122.20" fill="#f1faea" stroke="#f1faea" stroke-width="0.35"/>
<polygon points="780.84,108.70 807.78,108.70 794.31,122.20" fill="#0b4387" stroke="#0b4387" stroke-width="0.35"/>
<polygon points="807.78,108.70 807.78,135.70 794.31,122.20" fill="#f1faea" stroke="#f1faea" stroke-width="0.35"/>
<polygon points="807.78,135.70 780.84,135.70 794.31,122.20" fill="#eff9e9" stroke="#eff9e9" stroke-width="0.35"/>
<polygon points="780.84,135.70 780.84,108.70 794.31,122.20" fill="#f1faea" stroke="#f1faea" stroke-width="0.35"/>
<polygon points="807.78,108.70 834.72,108.70 821.25,122.20" fill="#0b4387" stroke="#0b4387" stroke-width="0.35"/>
<polygon points="834.72,108.70 834.72,135.70 821.25,122.20" fill="#f1faea" stroke="#f1faea" stroke-width="0.35"/>
<polygon points="834.72,135.70 807.78,135.70 821.25,122.20" fill="#eff9e9" stroke="#eff9e9" stroke-width="0.35"/>
<polygon points="807.78,135.70 807.78,108.70 821.25,122.20" fill="#f1faea" stroke="#f1faea" stroke-width="0.35"/>
<polygon points="834.72,108.70 861.66,108.70 848.19,122.20" fill="#0b4387" stroke="#0b4387" stroke-width="0.35"/>
<polygon points="861.66,108.70 861.66,135.70 848.19,122.20" fill="#f1faea" stroke="#f1faea" stroke-width="0.35"/>
<polygon points="861.66,135.70 834.72,135.70 848.19,122.20" fill="#eff9e9" stroke="#eff9e9" stroke-width="0.35"/>
<polygon points="834.72,135.70 834.72,108.70 848.19,122.20" fill="#f1faea" stroke="#f1faea" stroke-width="0.35"/>
<polygon points="861.66,108.70 888.60,108.70 875.13,122.20" fill="#0b4387" stroke="#0b4387" stroke-width="0.35"/>
<polygon points="888.60,108.70 888.60,135.70 875.13,122.20" fill="#f1faea" stroke="#f1faea" stroke-width="0.35"/>
<polygon points="888.60,135.70 861.66,135.70 875.13,122.20" fill="#eff9e9" stroke="#eff9e9" stroke-width="0.35"/>
<polygon points="861.66,135.70 861.66,108.70 875.13,122.20" fill="#f1faea" stroke="#f1faea" stroke-width="0.35"/>
<polygon points="888.60,108.70 915.54,108.70 902.07,122.20" fill="#0b4387" stroke="#0b4387" stroke-width="0.35"/>
<polygon points="915.54,108.70 915.54,135.70 902.07,122.20" fill="#f1faea" stroke="#f1faea" stroke-width="0.35"/>
<polygon points="915.54,135.70 888.60,135.70 902.07,122.20" fill="#eff9e9" stroke="#eff9e9" stroke-width="0.35"/>
<polygon points="888.60,135.70 888.60,108.70 902.07,122.20" fill="#f1faea" stroke="#f1faea" stroke-width="0.35"/>
<polygon points="915.54,108.70 942.48,108.70 929.01,122.20" fill="#0b4387" stroke="#0b4387" stroke-width="0.35"/>
<polygon points="942.48,108.70 942.48,135.70 929.01,122.20" fill="#f1faea" stroke="#f1faea" stroke-width="0.35"/>
<polygon points="942.48,135.70 915.54,135.70 929.01,122.20" fill="#eff9e9" stroke="#eff9e9" stroke-width="0.35"/>
<polygon points="915.54,135.70 915.54,108.70 929.01,122.20" fill="#f1faea" stroke="#f1faea" stroke-width="0.35"/>
<polygon points="942.48,108.70 969.42,108.70 955.95,122.20" fill="#0b4387" stroke="#0b4387" stroke-width="0.35"/>
<polygon points="969.42,108.70 969.42,135.70 955.95,122.20" fill="#f1faea" stroke="#f1faea" stroke-width="0.35"/>
<polygon points="969.42,135.70 942.48,135.70 955.95,122.20" fill="#eff9e9" stroke="#eff9e9" stroke-width="0.35"/>
<polygon points="942.48,135.70 942.48,108.70 955.95,122.20" fill="#f1faea" stroke="#f1faea" stroke-width="0.35"/>
<rect x="969.42" y="108.70" width="26.94" height="27.00" fill="#ffffff"/>
<polygon points="996.36,108.70 1023.30,108.70 1009.83,122.20" fill="#0b4387" stroke="#0b4387" stroke-width="0.35"/>
<polygon points="1023.30,108.70 1023.30,135.70 1009.83,122.20" fill="#f6fcef" stroke="#f6fcef" stroke-width="0.35"/>
<polygon points="1023.30,135.70 996.36,135.70 1009.83,122.20" fill="#f6fcef" stroke="#f6fcef" stroke-width="0.35"/>
<polygon points="996.36,135.70 996.36,108.70 1009.83,122.20" fill="#f6fcef" stroke="#f6fcef" stroke-width="0.35"/>
<polygon points="1023.30,108.70 1050.24,108.70 1036.77,122.20" fill="#0b4387" stroke="#0b4387" stroke-width="0.35"/>
<polygon points="1050.24,108.70 1050.24,135.70 1036.77,122.20" fill="#f6fcef" stroke="#f6fcef" stroke-width="0.35"/>
<polygon points="1050.24,135.70 1023.30,135.70 1036.77,122.20" fill="#f6fcef" stroke="#f6fcef" stroke-width="0.35"/>
<polygon points="1023.30,135.70 1023.30,108.70 1036.77,122.20" fill="#f6fcef" stroke="#f6fcef" stroke-width="0.35"/>
<polygon points="1050.24,108.70 1077.18,108.70 1063.71,122.20" fill="#0b4387" stroke="#0b4387" stroke-width="0.35"/>
<polygon points="1077.18,108.70 1077.18,135.70 1063.71,122.20" fill="#f6fcef" stroke="#f6fcef" stroke-width="0.35"/>
<polygon points="1077.18,135.70 1050.24,135.70 1063.71,122.20" fill="#f6fcef" stroke="#f6fcef" stroke-width="0.35"/>
<polygon points="1050.24,135.70 1050.24,108.70 1063.71,122.20" fill="#f6fcef" stroke="#f6fcef" stroke-width="0.35"/>
<polygon points="753.90,135.70 780.84,135.70 767.37,149.20" fill="#6fc5c8" stroke="#6fc5c8" stroke-width="0.35"/>
<polygon points="780.84,135.70 780.84,162.70 767.37,149.20" fill="#f4fbed" stroke="#f4fbed" stroke-width="0.35"/>
<polygon points="780.84,162.70 753.90,162.70 767.37,149.20" fill="#0b4387" stroke="#0b4387" stroke-width="0.35"/>
<polygon points="753.90,162.70 753.90,135.70 767.37,149.20" fill="#f3fbed" stroke="#f3fbed" stroke-width="0.35"/>
<polygon points="780.84,135.70 807.78,135.70 794.31,149.20" fill="#f3fbed" stroke="#f3fbed" stroke-width="0.35"/>
<polygon points="807.78,135.70 807.78,162.70 794.31,149.20" fill="#f4fbed" stroke="#f4fbed" stroke-width="0.35"/>
<polygon points="807.78,162.70 780.84,162.70 794.31,149.20" fill="#0a4d91" stroke="#0a4d91" stroke-width="0.35"/>
<polygon points="780.84,162.70 780.84,135.70 794.31,149.20" fill="#4cb0d2" stroke="#4cb0d2" stroke-width="0.35"/>
<polygon points="807.78,135.70 834.72,135.70 821.25,149.20" fill="#2b8cbe" stroke="#2b8cbe" stroke-width="0.35"/>
<polygon points="834.72,135.70 834.72,162.70 821.25,149.20" fill="#f4fbed" stroke="#f4fbed" stroke-width="0.35"/>
<polygon points="834.72,162.70 807.78,162.70 821.25,149.20" fill="#1d7eb7" stroke="#1d7eb7" stroke-width="0.35"/>
<polygon points="807.78,162.70 807.78,135.70 821.25,149.20" fill="#f3fbed" stroke="#f3fbed" stroke-width="0.35"/>
<polygon points="834.72,135.70 861.66,135.70 848.19,149.20" fill="#f3fbed" stroke="#f3fbed" stroke-width="0.35"/>
<polygon points="861.66,135.70 861.66,162.70 848.19,149.20" fill="#f4fbed" stroke="#f4fbed" stroke-width="0.35"/>
<polygon points="861.66,162.70 834.72,162.70 848.19,149.20" fill="#7bccc4" stroke="#7bccc4" stroke-width="0.35"/>
<polygon points="834.72,162.70 834.72,135.70 848.19,149.20" fill="#0b4387" stroke="#0b4387" stroke-width="0.35"/>
<polygon points="861.66,135.70 888.60,135.70 875.13,149.20" fill="#f3fbed" stroke="#f3fbed" stroke-width="0.35"/>
<polygon points="888.60,135.70 888.60,162.70 875.13,149.20" fill="#f4fbed" stroke="#f4fbed" stroke-width="0.35"/>
<polygon points="888.60,162.70 861.66,162.70 875.13,149.20" fill="#7bccc4" stroke="#7bccc4" stroke-width="0.35"/>
<polygon points="861.66,162.70 861.66,135.70 875.13,149.20" fill="#0b4387" stroke="#0b4387" stroke-width="0.35"/>
<polygon points="888.60,135.70 915.54,135.70 902.07,149.20" fill="#f3fbed" stroke="#f3fbed" stroke-width="0.35"/>
<polygon points="915.54,135.70 915.54,162.70 902.07,149.20" fill="#f4fbed" stroke="#f4fbed" stroke-width="0.35"/>
<polygon points="915.54,162.70 888.60,162.70 902.07,149.20" fill="#99d7ba" stroke="#99d7ba" stroke-width="0.35"/>
<polygon points="888.60,162.70 888.60,135.70 902.07,149.20" fill="#1474b2" stroke="#1474b2" stroke-width="0.35"/>
<polygon points="915.54,135.70 942.48,135.70 929.01,149.20" fill="#f3fbed" stroke="#f3fbed" stroke-width="0.35"/>
<polygon points="942.48,135.70 942.48,162.70 929.01,149.20" fill="#f4fbed" stroke="#f4fbed" stroke-width="0.35"/>
<polygon points="942.48,162.70 915.54,162.70 929.01,149.20" fill="#0b4387" stroke="#0b4387" stroke-width="0.35"/>
<polygon points="915.54,162.70 915.54,135.70 929.01,149.20" fill="#d9f0d4" stroke="#d9f0d4" stroke-width="0.35"/>
<rect x="942.48" y="135.70" width="26.94" height="27.00" fill="#ffffff"/>
<polygon points="969.42,135.70 996.36,135.70 982.89,149.20" fill="#0b4387" stroke="#0b4387" stroke-width="0.35"/>
<polygon points="996.36,135.70 996.36,162.70 982.89,149.20" fill="#f3fbed" stroke="#f3fbed" stroke-width="0.35"/>
<polygon points="996.36,162.70 969.42,162.70 982.89,149.20" fill="#f1faeb" stroke="#f1faeb" stroke-width="0.35"/>
<polygon points="969.42,162.70 969.42,135.70 982.89,149.20" fill="#f3fbed" stroke="#f3fbed" stroke-width="0.35"/>
<polygon points="996.36,135.70 1023.30,135.70 1009.83,149.20" fill="#0b4387" stroke="#0b4387" stroke-width="0.35"/>
<polygon points="1023.30,135.70 1023.30,162.70 1009.83,149.20" fill="#f3fbed" stroke="#f3fbed" stroke-width="0.35"/>
<polygon points="1023.30,162.70 996.36,162.70 1009.83,149.20" fill="#f1faeb" stroke="#f1faeb" stroke-width="0.35"/>
<polygon points="996.36,162.70 996.36,135.70 1009.83,149.20" fill="#f3fbed" stroke="#f3fbed" stroke-width="0.35"/>
<polygon points="1023.30,135.70 1050.24,135.70 1036.77,149.20" fill="#0b4387" stroke="#0b4387" stroke-width="0.35"/>
<polygon points="1050.24,135.70 1050.24,162.70 1036.77,149.20" fill="#f3fbed" stroke="#f3fbed" stroke-width="0.35"/>
<polygon points="1050.24,162.70 1023.30,162.70 1036.77,149.20" fill="#f1faeb" stroke="#f1faeb" stroke-width="0.35"/>
<polygon points="1023.30,162.70 1023.30,135.70 1036.77,149.20" fill="#f3fbed" stroke="#f3fbed" stroke-width="0.35"/>
<polygon points="1050.24,135.70 1077.18,135.70 1063.71,149.20" fill="#0b4387" stroke="#0b4387" stroke-width="0.35"/>
<polygon points="1077.18,135.70 1077.18,162.70 1063.71,149.20" fill="#f3fbed" stroke="#f3fbed" stroke-width="0.35"/>
<polygon points="1077.18,162.70 1050.24,162.70 1063.71,149.20" fill="#f1faeb" stroke="#f1faeb" stroke-width="0.35"/>
<polygon points="1050.24,162.70 1050.24,135.70 1063.71,149.20" fill="#f3fbed" stroke="#f3fbed" stroke-width="0.35"/>
<polygon points="753.90,162.70 780.84,162.70 767.37,176.20" fill="#f3fbed" stroke="#f3fbed" stroke-width="0.35"/>
<polygon points="780.84,162.70 780.84,189.70 767.37,176.20" fill="#f4fbed" stroke="#f4fbed" stroke-width="0.35"/>
<polygon points="780.84,189.70 753.90,189.70 767.37,176.20" fill="#4cb0d2" stroke="#4cb0d2" stroke-width="0.35"/>
<polygon points="753.90,189.70 753.90,162.70 767.37,176.20" fill="#0b4387" stroke="#0b4387" stroke-width="0.35"/>
<polygon points="780.84,162.70 807.78,162.70 794.31,176.20" fill="#f3fbed" stroke="#f3fbed" stroke-width="0.35"/>
<polygon points="807.78,162.70 807.78,189.70 794.31,176.20" fill="#f4fbed" stroke="#f4fbed" stroke-width="0.35"/>
<polygon points="807.78,189.70 780.84,189.70 794.31,176.20" fill="#0b4387" stroke="#0b4387" stroke-width="0.35"/>
<polygon points="780.84,189.70 780.84,162.70 794.31,176.20" fill="#d9f0d4" stroke="#d9f0d4" stroke-width="0.35"/>
<polygon points="807.78,162.70 834.72,162.70 821.25,176.20" fill="#f3fbed" stroke="#f3fbed" stroke-width="0.35"/>
<polygon points="834.72,162.70 834.72,189.70 821.25,176.20" fill="#f4fbed" stroke="#f4fbed" stroke-width="0.35"/>
<polygon points="834.72,189.70 807.78,189.70 821.25,176.20" fill="#0b4387" stroke="#0b4387" stroke-width="0.35"/>
<polygon points="807.78,189.70 807.78,162.70 821.25,176.20" fill="#dff2da" stroke="#dff2da" stroke-width="0.35"/>
<polygon points="834.72,162.70 861.66,162.70 848.19,176.20" fill="#f3fbed" stroke="#f3fbed" stroke-width="0.35"/>
<polygon points="861.66,162.70 861.66,189.70 848.19,176.20" fill="#f4fbed" stroke="#f4fbed" stroke-width="0.35"/>
<polygon points="861.66,189.70 834.72,189.70 848.19,176.20" fill="#2b8cbe" stroke="#2b8cbe" stroke-width="0.35"/>
<polygon points="834.72,189.70 834.72,162.70 848.19,176.20" fill="#1474b2" stroke="#1474b2" stroke-width="0.35"/>
<polygon points="861.66,162.70 888.60,162.70 875.13,176.20" fill="#f3fbed" stroke="#f3fbed" stroke-width="0.35"/>
<polygon points="888.60,162.70 888.60,189.70 875.13,176.20" fill="#f4fbed" stroke="#f4fbed" stroke-width="0.35"/>
<polygon points="888.60,189.70 861.66,189.70 875.13,176.20" fill="#0b4387" stroke="#0b4387" stroke-width="0.35"/>
<polygon points="861.66,189.70 861.66,162.70 875.13,176.20" fill="#dff2da" stroke="#dff2da" stroke-width="0.35"/>
<polygon points="888.60,162.70 915.54,162.70 902.07,176.20" fill="#f3fbed" stroke="#f3fbed" stroke-width="0.35"/>
<polygon points="915.54,162.70 915.54,189.70 902.07,176.20" fill="#f4fbed" stroke="#f4fbed" stroke-width="0.35"/>
<polygon points="915.54,189.70 888.60,189.70 902.07,176.20" fill="#0b4387" stroke="#0b4387" stroke-width="0.35"/>
<polygon points="888.60,189.70 888.60,162.70 902.07,176.20" fill="#b4e2ba" stroke="#b4e2ba" stroke-width="0.35"/>
<rect x="915.54" y="162.70" width="26.94" height="27.00" fill="#ffffff"/>
<polygon points="942.48,162.70 969.42,162.70 955.95,176.20" fill="#f3fbed" stroke="#f3fbed" stroke-width="0.35"/>
<polygon points="969.42,162.70 969.42,189.70 955.95,176.20" fill="#f4fbed" stroke="#f4fbed" stroke-width="0.35"/>
<polygon points="969.42,189.70 942.48,189.70 955.95,176.20" fill="#0b4387" stroke="#0b4387" stroke-width="0.35"/>
<polygon points="942.48,189.70 942.48,162.70 955.95,176.20" fill="#f3fbed" stroke="#f3fbed" stroke-width="0.35"/>
<polygon points="969.42,162.70 996.36,162.70 982.89,176.20" fill="#0b4387" stroke="#0b4387" stroke-width="0.35"/>
<polygon points="996.36,162.70 996.36,189.70 982.89,176.20" fill="#f3fbed" stroke="#f3fbed" stroke-width="0.35"/>
<polygon points="996.36,189.70 969.42,189.70 982.89,176.20" fill="#f1faeb" stroke="#f1faeb" stroke-width="0.35"/>
<polygon points="969.42,189.70 969.42,162.70 982.89,176.20" fill="#f3fbed" stroke="#f3fbed" stroke-width="0.35"/>
<polygon points="996.36,162.70 1023.30,162.70 1009.83,176.20" fill="#0b4387" stroke="#0b4387" stroke-width="0.35"/>
<polygon points="1023.30,162.70 1023.30,189.70 1009.83,176.20" fill="#f3fbed" stroke="#f3fbed" stroke-width="0.35"/>
<polygon points="1023.30,189.70 996.36,189.70 1009.83,176.20" fill="#f1faeb" stroke="#f1faeb" stroke-width="0.35"/>
<polygon points="996.36,189.70 996.36,162.70 1009.83,176.20" fill="#f3fbed" stroke="#f3fbed" stroke-width="0.35"/>
<polygon points="1023.30,162.70 1050.24,162.70 1036.77,176.20" fill="#0b4387" stroke="#0b4387" stroke-width="0.35"/>
<polygon points="1050.24,162.70 1050.24,189.70 1036.77,176.20" fill="#f3fbed" stroke="#f3fbed" stroke-width="0.35"/>
<polygon points="1050.24,189.70 1023.30,189.70 1036.77,176.20" fill="#f1faeb" stroke="#f1faeb" stroke-width="0.35"/>
<polygon points="1023.30,189.70 1023.30,162.70 1036.77,176.20" fill="#f3fbed" stroke="#f3fbed" stroke-width="0.35"/>
<polygon points="1050.24,162.70 1077.18,162.70 1063.71,176.20" fill="#0b4387" stroke="#0b4387" stroke-width="0.35"/>
<polygon points="1077.18,162.70 1077.18,189.70 1063.71,176.20" fill="#f3fbed" stroke="#f3fbed" stroke-width="0.35"/>
<polygon points="1077.18,189.70 1050.24,189.70 1063.71,176.20" fill="#f1faeb" stroke="#f1faeb" stroke-width="0.35"/>
<polygon points="1050.24,189.70 1050.24,162.70 1063.71,176.20" fill="#f3fbed" stroke="#f3fbed" stroke-width="0.35"/>
<polygon points="753.90,189.70 780.84,189.70 767.37,203.20" fill="#f3fbed" stroke="#f3fbed" stroke-width="0.35"/>
<polygon points="780.84,189.70 780.84,216.70 767.37,203.20" fill="#f4fbed" stroke="#f4fbed" stroke-width="0.35"/>
<polygon points="780.84,216.70 753.90,216.70 767.37,203.20" fill="#6fc5c8" stroke="#6fc5c8" stroke-width="0.35"/>
<polygon points="753.90,216.70 753.90,189.70 767.37,203.20" fill="#0b4387" stroke="#0b4387" stroke-width="0.35"/>
<polygon points="780.84,189.70 807.78,189.70 794.31,203.20" fill="#f3fbed" stroke="#f3fbed" stroke-width="0.35"/>
<polygon points="807.78,189.70 807.78,216.70 794.31,203.20" fill="#f4fbed" stroke="#f4fbed" stroke-width="0.35"/>
<polygon points="807.78,216.70 780.84,216.70 794.31,203.20" fill="#0b4387" stroke="#0b4387" stroke-width="0.35"/>
<polygon points="780.84,216.70 780.84,189.70 794.31,203.20" fill="#e5f5df" stroke="#e5f5df" stroke-width="0.35"/>
<polygon points="807.78,189.70 834.72,189.70 821.25,203.20" fill="#f3fbed" stroke="#f3fbed" stroke-width="0.35"/>
<polygon points="834.72,189.70 834.72,216.70 821.25,203.20" fill="#f4fbed" stroke="#f4fbed" stroke-width="0.35"/>
<polygon points="834.72,216.70 807.78,216.70 821.25,203.20" fill="#0b4387" stroke="#0b4387" stroke-width="0.35"/>
<polygon points="807.78,216.70 807.78,189.70 821.25,203.20" fill="#f3fbed" stroke="#f3fbed" stroke-width="0.35"/>
<polygon points="834.72,189.70 861.66,189.70 848.19,203.20" fill="#f3fbed" stroke="#f3fbed" stroke-width="0.35"/>
<polygon points="861.66,189.70 861.66,216.70 848.19,203.20" fill="#f4fbed" stroke="#f4fbed" stroke-width="0.35"/>
<polygon points="861.66,216.70 834.72,216.70 848.19,203.20" fill="#0b4387" stroke="#0b4387" stroke-width="0.35"/>
<polygon points="834.72,216.70 834.72,189.70 848.19,203.20" fill="#dff2da" stroke="#dff2da" stroke-width="0.35"/>
<polygon points="861.66,189.70 888.60,189.70 875.13,203.20" fill="#f3fbed" stroke="#f3fbed" stroke-width="0.35"/>
<polygon points="888.60,189.70 888.60,216.70 875.13,203.20" fill="#f4fbed" stroke="#f4fbed" stroke-width="0.35"/>
<polygon points="888.60,216.70 861.66,216.70 875.13,203.20" fill="#0b4387" stroke="#0b4387" stroke-width="0.35"/>
<polygon points="861.66,216.70 861.66,189.70 875.13,203.20" fill="#f3fbed" stroke="#f3fbed" stroke-width="0.35"/>
<rect x="888.60" y="189.70" width="26.94" height="27.00" fill="#ffffff"/>
<polygon points="915.54,189.70 942.48,189.70 929.01,203.20" fill="#f3fbed" stroke="#f3fbed" stroke-width="0.35"/>
<polygon points="942.48,189.70 942.48,216.70 929.01,203.20" fill="#f4fbed" stroke="#f4fbed" stroke-width="0.35"/>
<polygon points="942.48,216.70 915.54,216.70 929.01,203.20" fill="#0b4387" stroke="#0b4387" stroke-width="0.35"/>
<polygon points="915.54,216.70 915.54,189.70 929.01,203.20" fill="#dff2da" stroke="#dff2da" stroke-width="0.35"/>
<polygon points="942.48,189.70 969.42,189.70 955.95,203.20" fill="#f3fbed" stroke="#f3fbed" stroke-width="0.35"/>
<polygon points="969.42,189.70 969.42,216.70 955.95,203.20" fill="#f4fbed" stroke="#f4fbed" stroke-width="0.35"/>
<polygon points="969.42,216.70 942.48,216.70 955.95,203.20" fill="#0b4387" stroke="#0b4387" stroke-width="0.35"/>
<polygon points="942.48,216.70 942.48,189.70 955.95,203.20" fill="#f3fbed" stroke="#f3fbed" stroke-width="0.35"/>
<polygon points="969.42,189.70 996.36,189.70 982.89,203.20" fill="#0b4387" stroke="#0b4387" stroke-width="0.35"/>
<polygon points="996.36,189.70 996.36,216.70 982.89,203.20" fill="#f3fbed" stroke="#f3fbed" stroke-width="0.35"/>
<polygon points="996.36,216.70 969.42,216.70 982.89,203.20" fill="#f1faeb" stroke="#f1faeb" stroke-width="0.35"/>
<polygon points="969.42,216.70 969.42,189.70 982.89,203.20" fill="#f3fbed" stroke="#f3fbed" stroke-width="0.35"/>
<polygon points="996.36,189.70 1023.30,189.70 1009.83,203.20" fill="#0b4387" stroke="#0b4387" stroke-width="0.35"/>
<polygon points="1023.30,189.70 1023.30,216.70 1009.83,203.20" fill="#f3fbed" stroke="#f3fbed" stroke-width="0.35"/>
<polygon points="1023.30,216.70 996.36,216.70 1009.83,203.20" fill="#f1faeb" stroke="#f1faeb" stroke-width="0.35"/>
<polygon points="996.36,216.70 996.36,189.70 1009.83,203.20" fill="#f3fbed" stroke="#f3fbed" stroke-width="0.35"/>
<polygon points="1023.30,189.70 1050.24,189.70 1036.77,203.20" fill="#0b4387" stroke="#0b4387" stroke-width="0.35"/>
<polygon points="1050.24,189.70 1050.24,216.70 1036.77,203.20" fill="#f3fbed" stroke="#f3fbed" stroke-width="0.35"/>
<polygon points="1050.24,216.70 1023.30,216.70 1036.77,203.20" fill="#f1faeb" stroke="#f1faeb" stroke-width="0.35"/>
<polygon points="1023.30,216.70 1023.30,189.70 1036.77,203.20" fill="#f3fbed" stroke="#f3fbed" stroke-width="0.35"/>
<polygon points="1050.24,189.70 1077.18,189.70 1063.71,203.20" fill="#0b4387" stroke="#0b4387" stroke-width="0.35"/>
<polygon points="1077.18,189.70 1077.18,216.70 1063.71,203.20" fill="#f3fbed" stroke="#f3fbed" stroke-width="0.35"/>
<polygon points="1077.18,216.70 1050.24,216.70 1063.71,203.20" fill="#f1faeb" stroke="#f1faeb" stroke-width="0.35"/>
<polygon points="1050.24,216.70 1050.24,189.70 1063.71,203.20" fill="#f3fbed" stroke="#f3fbed" stroke-width="0.35"/>
<polygon points="753.90,216.70 780.84,216.70 767.37,230.20" fill="#f3fbed" stroke="#f3fbed" stroke-width="0.35"/>
<polygon points="780.84,216.70 780.84,243.70 767.37,230.20" fill="#f4fbed" stroke="#f4fbed" stroke-width="0.35"/>
<polygon points="780.84,243.70 753.90,243.70 767.37,230.20" fill="#0b4387" stroke="#0b4387" stroke-width="0.35"/>
<polygon points="753.90,243.70 753.90,216.70 767.37,230.20" fill="#42a6cc" stroke="#42a6cc" stroke-width="0.35"/>
<polygon points="780.84,216.70 807.78,216.70 794.31,230.20" fill="#f3fbed" stroke="#f3fbed" stroke-width="0.35"/>
<polygon points="807.78,216.70 807.78,243.70 794.31,230.20" fill="#f4fbed" stroke="#f4fbed" stroke-width="0.35"/>
<polygon points="807.78,243.70 780.84,243.70 794.31,230.20" fill="#0b4387" stroke="#0b4387" stroke-width="0.35"/>
<polygon points="780.84,243.70 780.84,216.70 794.31,230.20" fill="#d9f0d4" stroke="#d9f0d4" stroke-width="0.35"/>
<polygon points="807.78,216.70 834.72,216.70 821.25,230.20" fill="#f3fbed" stroke="#f3fbed" stroke-width="0.35"/>
<polygon points="834.72,216.70 834.72,243.70 821.25,230.20" fill="#f4fbed" stroke="#f4fbed" stroke-width="0.35"/>
<polygon points="834.72,243.70 807.78,243.70 821.25,230.20" fill="#0b4387" stroke="#0b4387" stroke-width="0.35"/>
<polygon points="807.78,243.70 807.78,216.70 821.25,230.20" fill="#f3fbed" stroke="#f3fbed" stroke-width="0.35"/>
<polygon points="834.72,216.70 861.66,216.70 848.19,230.20" fill="#f3fbed" stroke="#f3fbed" stroke-width="0.35"/>
<polygon points="861.66,216.70 861.66,243.70 848.19,230.20" fill="#f4fbed" stroke="#f4fbed" stroke-width="0.35"/>
<polygon points="861.66,243.70 834.72,243.70 848.19,230.20" fill="#0b4387" stroke="#0b4387" stroke-width="0.35"/>
<polygon points="834.72,243.70 834.72,216.70 848.19,230.20" fill="#d9f0d4" stroke="#d9f0d4" stroke-width="0.35"/>
<rect x="861.66" y="216.70" width="26.94" height="27.00" fill="#ffffff"/>
<polygon points="888.60,216.70 915.54,216.70 902.07,230.20" fill="#f3fbed" stroke="#f3fbed" stroke-width="0.35"/>
<polygon points="915.54,216.70 915.54,243.70 902.07,230.20" fill="#f4fbed" stroke="#f4fbed" stroke-width="0.35"/>
<polygon points="915.54,243.70 888.60,243.70 902.07,230.20" fill="#0b4387" stroke="#0b4387" stroke-width="0.35"/>
<polygon points="888.60,243.70 888.60,216.70 902.07,230.20" fill="#f3fbed" stroke="#f3fbed" stroke-width="0.35"/>
<polygon points="915.54,216.70 942.48,216.70 929.01,230.20" fill="#f3fbed" stroke="#f3fbed" stroke-width="0.35"/>
<polygon points="942.48,216.70 942.48,243.70 929.01,230.20" fill="#f4fbed" stroke="#f4fbed" stroke-width="0.35"/>
<polygon points="942.48,243.70 915.54,243.70 929.01,230.20" fill="#0b4387" stroke="#0b4387" stroke-width="0.35"/>
<polygon points="915.54,243.70 915.54,216.70 929.01,230.20" fill="#5dbbce" stroke="#5dbbce" stroke-width="0.35"/>
<polygon points="942.48,216.70 969.42,216.70 955.95,230.20" fill="#f3fbed" stroke="#f3fbed" stroke-width="0.35"/>
<polygon points="969.42,216.70 969.42,243.70 955.95,230.20" fill="#f4fbed" stroke="#f4fbed" stroke-width="0.35"/>
<polygon points="969.42,243.70 942.48,243.70 955.95,230.20" fill="#0b4387" stroke="#0b4387" stroke-width="0.35"/>
<polygon points="942.48,243.70 942.48,216.70 955.95,230.20" fill="#f3fbed" stroke="#f3fbed" stroke-width="0.35"/>
<polygon points="969.42,216.70 996.36,216.70 982.89,230.20" fill="#0b4387" stroke="#0b4387" stroke-width="0.35"/>
<polygon points="996.36,216.70 996.36,243.70 982.89,230.20" fill="#f3fbed" stroke="#f3fbed" stroke-width="0.35"/>
<polygon points="996.36,243.70 969.42,243.70 982.89,230.20" fill="#f1faeb" stroke="#f1faeb" stroke-width="0.35"/>
<polygon points="969.42,243.70 969.42,216.70 982.89,230.20" fill="#f3fbed" stroke="#f3fbed" stroke-width="0.35"/>
<polygon points="996.36,216.70 1023.30,216.70 1009.83,230.20" fill="#0b4387" stroke="#0b4387" stroke-width="0.35"/>
<polygon points="1023.30,216.70 1023.30,243.70 1009.83,230.20" fill="#f3fbed" stroke="#f3fbed" stroke-width="0.35"/>
<polygon points="1023.30,243.70 996.36,243.70 1009.83,230.20" fill="#f1faeb" stroke="#f1faeb" stroke-width="0.35"/>
<polygon points="996.36,243.70 996.36,216.70 1009.83,230.20" fill="#f3fbed" stroke="#f3fbed" stroke-width="0.35"/>
<polygon points="1023.30,216.70 1050.24,216.70 1036.77,230.20" fill="#0b4387" stroke="#0b4387" stroke-width="0.35"/>
<polygon points="1050.24,216.70 1050.24,243.70 1036.77,230.20" fill="#f3fbed" stroke="#f3fbed" stroke-width="0.35"/>
<polygon points="1050.24,243.70 1023.30,243.70 1036.77,230.20" fill="#f1faeb" stroke="#f1faeb" stroke-width="0.35"/>
<polygon points="1023.30,243.70 1023.30,216.70 1036.77,230.20" fill="#f3fbed" stroke="#f3fbed" stroke-width="0.35"/>
<polygon points="1050.24,216.70 1077.18,216.70 1063.71,230.20" fill="#0b4387" stroke="#0b4387" stroke-width="0.35"/>
<polygon points="1077.18,216.70 1077.18,243.70 1063.71,230.20" fill="#f3fbed" stroke="#f3fbed" stroke-width="0.35"/>
<polygon points="1077.18,243.70 1050.24,243.70 1063.71,230.20" fill="#f1faeb" stroke="#f1faeb" stroke-width="0.35"/>
<polygon points="1050.24,243.70 1050.24,216.70 1063.71,230.20" fill="#f3fbed" stroke="#f3fbed" stroke-width="0.35"/>
<polygon points="753.90,243.70 780.84,243.70 767.37,257.20" fill="#f3fbed" stroke="#f3fbed" stroke-width="0.35"/>
<polygon points="780.84,243.70 780.84,270.70 767.37,257.20" fill="#f4fbed" stroke="#f4fbed" stroke-width="0.35"/>
<polygon points="780.84,270.70 753.90,270.70 767.37,257.20" fill="#0b4387" stroke="#0b4387" stroke-width="0.35"/>
<polygon points="753.90,270.70 753.90,243.70 767.37,257.20" fill="#f3fbed" stroke="#f3fbed" stroke-width="0.35"/>
<polygon points="780.84,243.70 807.78,243.70 794.31,257.20" fill="#f3fbed" stroke="#f3fbed" stroke-width="0.35"/>
<polygon points="807.78,243.70 807.78,270.70 794.31,257.20" fill="#f4fbed" stroke="#f4fbed" stroke-width="0.35"/>
<polygon points="807.78,270.70 780.84,270.70 794.31,257.20" fill="#0b4387" stroke="#0b4387" stroke-width="0.35"/>
<polygon points="780.84,270.70 780.84,243.70 794.31,257.20" fill="#d9f0d4" stroke="#d9f0d4" stroke-width="0.35"/>
<polygon points="807.78,243.70 834.72,243.70 821.25,257.20" fill="#42a6cc" stroke="#42a6cc" stroke-width="0.35"/>
<polygon points="834.72,243.70 834.72,270.70 821.25,257.20" fill="#f4fbed" stroke="#f4fbed" stroke-width="0.35"/>
<polygon points="834.72,270.70 807.78,270.70 821.25,257.20" fill="#0b4387" stroke="#0b4387" stroke-width="0.35"/>
<polygon points="807.78,270.70 807.78,243.70 821.25,257.20" fill="#f3fbed" stroke="#f3fbed" stroke-width="0.35"/>
<rect x="834.72" y="243.70" width="26.94" height="27.00" fill="#ffffff"/>
<polygon points="861.66,243.70 888.60,243.70 875.13,257.20" fill="#f3fbed" stroke="#f3fbed" stroke-width="0.35"/>
<polygon points="888.60,243.70 888.60,270.70 875.13,257.20" fill="#f4fbed" stroke="#f4fbed" stroke-width="0.35"/>
<polygon points="888.60,270.70 861.66,270.70 875.13,257.20" fill="#0b4387" stroke="#0b4387" stroke-width="0.35"/>
<polygon points="861.66,270.70 861.66,243.70 875.13,257.20" fill="#dff2da" stroke="#dff2da" stroke-width="0.35"/>
<polygon points="888.60,243.70 915.54,243.70 902.07,257.20" fill="#f3fbed" stroke="#f3fbed" stroke-width="0.35"/>
<polygon points="915.54,243.70 915.54,270.70 902.07,257.20" fill="#f4fbed" stroke="#f4fbed" stroke-width="0.35"/>
<polygon points="915.54,270.70 888.60,270.70 902.07,257.20" fill="#0b4387" stroke="#0b4387" stroke-width="0.35"/>
<polygon points="888.60,270.70 888.60,243.70 902.07,257.20" fill="#bee5bf" stroke="#bee5bf" stroke-width="0.35"/>
<polygon points="915.54,243.70 942.48,243.70 929.01,257.20" fill="#f3fbed" stroke="#f3fbed" stroke-width="0.35"/>
<polygon points="942.48,243.70 942.48,270.70 929.01,257.20" fill="#f4fbed" stroke="#f4fbed" stroke-width="0.35"/>
<polygon points="942.48,270.70 915.54,270.70 929.01,257.20" fill="#0b4387" stroke="#0b4387" stroke-width="0.35"/>
<polygon points="915.54,270.70 915.54,243.70 929.01,257.20" fill="#d4eece" stroke="#d4eece" stroke-width="0.35"/>
<polygon points="942.48,243.70 969.42,243.70 955.95,257.20" fill="#f3fbed" stroke="#f3fbed" stroke-width="0.35"/>
<polygon points="969.42,243.70 969.42,270.70 955.95,257.20" fill="#f4fbed" stroke="#f4fbed" stroke-width="0.35"/>
<polygon points="969.42,270.70 942.48,270.70 955.95,257.20" fill="#0b4387" stroke="#0b4387" stroke-width="0.35"/>
<polygon points="942.48,270.70 942.48,243.70 955.95,257.20" fill="#f3fbed" stroke="#f3fbed" stroke-width="0.35"/>
<polygon points="969.42,243.70 996.36,243.70 982.89,257.20" fill="#0b4387" stroke="#0b4387" stroke-width="0.35"/>
<polygon points="996.36,243.70 996.36,270.70 982.89,257.20" fill="#f3fbed" stroke="#f3fbed" stroke-width="0.35"/>
<polygon points="996.36,270.70 969.42,270.70 982.89,257.20" fill="#f1faeb" stroke="#f1faeb" stroke-width="0.35"/>
<polygon points="969.42,270.70 969.42,243.70 982.89,257.20" fill="#f3fbed" stroke="#f3fbed" stroke-width="0.35"/>
<polygon points="996.36,243.70 1023.30,243.70 1009.83,257.20" fill="#0b4387" stroke="#0b4387" stroke-width="0.35"/>
<polygon points="1023.30,243.70 1023.30,270.70 1009.83,257.20" fill="#f3fbed" stroke="#f3fbed" stroke-width="0.35"/>
<polygon points="1023.30,270.70 996.36,270.70 1009.83,257.20" fill="#f1faeb" stroke="#f1faeb" stroke-width="0.35"/>
<polygon points="996.36,270.70 996.36,243.70 1009.83,257.20" fill="#f3fbed" stroke="#f3fbed" stroke-width="0.35"/>
<polygon points="1023.30,243.70 1050.24,243.70 1036.77,257.20" fill="#0b4387" stroke="#0b4387" stroke-width="0.35"/>
<polygon points="1050.24,243.70 1050.24,270.70 1036.77,257.20" fill="#f3fbed" stroke="#f3fbed" stroke-width="0.35"/>
<polygon points="1050.24,270.70 1023.30,270.70 1036.77,257.20" fill="#f1faeb" stroke="#f1faeb" stroke-width="0.35"/>
<polygon points="1023.30,270.70 1023.30,243.70 1036.77,257.20" fill="#f3fbed" stroke="#f3fbed" stroke-width="0.35"/>
<polygon points="1050.24,243.70 1077.18,243.70 1063.71,257.20" fill="#0b4387" stroke="#0b4387" stroke-width="0.35"/>
<polygon points="1077.18,243.70 1077.18,270.70 1063.71,257.20" fill="#f3fbed" stroke="#f3fbed" stroke-width="0.35"/>
<polygon points="1077.18,270.70 1050.24,270.70 1063.71,257.20" fill="#f1faeb" stroke="#f1faeb" stroke-width="0.35"/>
<polygon points="1050.24,270.70 1050.24,243.70 1063.71,257.20" fill="#f3fbed" stroke="#f3fbed" stroke-width="0.35"/>
<polygon points="753.90,270.70 780.84,270.70 767.37,284.20" fill="#0b4387" stroke="#0b4387" stroke-width="0.35"/>
<polygon points="780.84,270.70 780.84,297.70 767.37,284.20" fill="#f4fbed" stroke="#f4fbed" stroke-width="0.35"/>
<polygon points="780.84,297.70 753.90,297.70 767.37,284.20" fill="#ebf7e5" stroke="#ebf7e5" stroke-width="0.35"/>
<polygon points="753.90,297.70 753.90,270.70 767.37,284.20" fill="#bee5bf" stroke="#bee5bf" stroke-width="0.35"/>
<polygon points="780.84,270.70 807.78,270.70 794.31,284.20" fill="#f3fbed" stroke="#f3fbed" stroke-width="0.35"/>
<polygon points="807.78,270.70 807.78,297.70 794.31,284.20" fill="#f4fbed" stroke="#f4fbed" stroke-width="0.35"/>
<polygon points="807.78,297.70 780.84,297.70 794.31,284.20" fill="#0b4387" stroke="#0b4387" stroke-width="0.35"/>
<polygon points="780.84,297.70 780.84,270.70 794.31,284.20" fill="#99d7ba" stroke="#99d7ba" stroke-width="0.35"/>
<rect x="807.78" y="270.70" width="26.94" height="27.00" fill="#ffffff"/>
<polygon points="834.72,270.70 861.66,270.70 848.19,284.20" fill="#0b4387" stroke="#0b4387" stroke-width="0.35"/>
<polygon points="861.66,270.70 861.66,297.70 848.19,284.20" fill="#f4fbed" stroke="#f4fbed" stroke-width="0.35"/>
<polygon points="861.66,297.70 834.72,297.70 848.19,284.20" fill="#ebf7e5" stroke="#ebf7e5" stroke-width="0.35"/>
<polygon points="834.72,297.70 834.72,270.70 848.19,284.20" fill="#f3fbed" stroke="#f3fbed" stroke-width="0.35"/>
<polygon points="861.66,270.70 888.60,270.70 875.13,284.20" fill="#5dbbce" stroke="#5dbbce" stroke-width="0.35"/>
<polygon points="888.60,270.70 888.60,297.70 875.13,284.20" fill="#f4fbed" stroke="#f4fbed" stroke-width="0.35"/>
<polygon points="888.60,297.70 861.66,297.70 875.13,284.20" fill="#ebf7e5" stroke="#ebf7e5" stroke-width="0.35"/>
<polygon points="861.66,297.70 861.66,270.70 875.13,284.20" fill="#4cb0d2" stroke="#4cb0d2" stroke-width="0.35"/>
<polygon points="888.60,270.70 915.54,270.70 902.07,284.20" fill="#f3fbed" stroke="#f3fbed" stroke-width="0.35"/>
<polygon points="915.54,270.70 915.54,297.70 902.07,284.20" fill="#f4fbed" stroke="#f4fbed" stroke-width="0.35"/>
<polygon points="915.54,297.70 888.60,297.70 902.07,284.20" fill="#4cb0d2" stroke="#4cb0d2" stroke-width="0.35"/>
<polygon points="888.60,297.70 888.60,270.70 902.07,284.20" fill="#0b4387" stroke="#0b4387" stroke-width="0.35"/>
<polygon points="915.54,270.70 942.48,270.70 929.01,284.20" fill="#f3fbed" stroke="#f3fbed" stroke-width="0.35"/>
<polygon points="942.48,270.70 942.48,297.70 929.01,284.20" fill="#f4fbed" stroke="#f4fbed" stroke-width="0.35"/>
<polygon points="942.48,297.70 915.54,297.70 929.01,284.20" fill="#0b4387" stroke="#0b4387" stroke-width="0.35"/>
<polygon points="915.54,297.70 915.54,270.70 929.01,284.20" fill="#e5f5df" stroke="#e5f5df" stroke-width="0.35"/>
<polygon points="942.48,270.70 969.42,270.70 955.95,284.20" fill="#d9f0d4" stroke="#d9f0d4" stroke-width="0.35"/>
<polygon points="969.42,270.70 969.42,297.70 955.95,284.20" fill="#f4fbed" stroke="#f4fbed" stroke-width="0.35"/>
<polygon points="969.42,297.70 942.48,297.70 955.95,284.20" fill="#0b4387" stroke="#0b4387" stroke-width="0.35"/>
<polygon points="942.48,297.70 942.48,270.70 955.95,284.20" fill="#f3fbed" stroke="#f3fbed" stroke-width="0.35"/>
<polygon points="969.42,270.70 996.36,270.70 982.89,284.20" fill="#0b4387" stroke="#0b4387" stroke-width="0.35"/>
<polygon points="996.36,270.70 996.36,297.70 982.89,284.20" fill="#f3fbed" stroke="#f3fbed" stroke-width="0.35"/>
<polygon points="996.36,297.70 969.42,297.70 982.89,284.20" fill="#f1faeb" stroke="#f1faeb" stroke-width="0.35"/>
<polygon points="969.42,297.70 969.42,270.70 982.89,284.20" fill="#f3fbed" stroke="#f3fbed" stroke-width="0.35"/>
<polygon points="996.36,270.70 1023.30,270.70 1009.83,284.20" fill="#0b4387" stroke="#0b4387" stroke-width="0.35"/>
<polygon points="1023.30,270.70 1023.30,297.70 1009.83,284.20" fill="#f3fbed" stroke="#f3fbed" stroke-width="0.35"/>
<polygon points="1023.30,297.70 996.36,297.70 1009.83,284.20" fill="#f1faeb" stroke="#f1faeb" stroke-width="0.35"/>
<polygon points="996.36,297.70 996.36,270.70 1009.83,284.20" fill="#f3fbed" stroke="#f3fbed" stroke-width="0.35"/>
<polygon points="1023.30,270.70 1050.24,270.70 1036.77,284.20" fill="#0b4387" stroke="#0b4387" stroke-width="0.35"/>
<polygon points="1050.24,270.70 1050.24,297.70 1036.77,284.20" fill="#f3fbed" stroke="#f3fbed" stroke-width="0.35"/>
<polygon points="1050.24,297.70 1023.30,297.70 1036.77,284.20" fill="#f1faeb" stroke="#f1faeb" stroke-width="0.35"/>
<polygon points="1023.30,297.70 1023.30,270.70 1036.77,284.20" fill="#f3fbed" stroke="#f3fbed" stroke-width="0.35"/>
<polygon points="1050.24,270.70 1077.18,270.70 1063.71,284.20" fill="#0b4387" stroke="#0b4387" stroke-width="0.35"/>
<polygon points="1077.18,270.70 1077.18,297.70 1063.71,284.20" fill="#f3fbed" stroke="#f3fbed" stroke-width="0.35"/>
<polygon points="1077.18,297.70 1050.24,297.70 1063.71,284.20" fill="#f1faeb" stroke="#f1faeb" stroke-width="0.35"/>
<polygon points="1050.24,297.70 1050.24,270.70 1063.71,284.20" fill="#7bccc4" stroke="#7bccc4" stroke-width="0.35"/>
<polygon points="753.90,297.70 780.84,297.70 767.37,311.20" fill="#f3fbed" stroke="#f3fbed" stroke-width="0.35"/>
<polygon points="780.84,297.70 780.84,324.70 767.37,311.20" fill="#f4fbed" stroke="#f4fbed" stroke-width="0.35"/>
<polygon points="780.84,324.70 753.90,324.70 767.37,311.20" fill="#0b4387" stroke="#0b4387" stroke-width="0.35"/>
<polygon points="753.90,324.70 753.90,297.70 767.37,311.20" fill="#7bccc4" stroke="#7bccc4" stroke-width="0.35"/>
<rect x="780.84" y="297.70" width="26.94" height="27.00" fill="#ffffff"/>
<polygon points="807.78,297.70 834.72,297.70 821.25,311.20" fill="#f3fbed" stroke="#f3fbed" stroke-width="0.35"/>
<polygon points="834.72,297.70 834.72,324.70 821.25,311.20" fill="#f4fbed" stroke="#f4fbed" stroke-width="0.35"/>
<polygon points="834.72,324.70 807.78,324.70 821.25,311.20" fill="#0b4387" stroke="#0b4387" stroke-width="0.35"/>
<polygon points="807.78,324.70 807.78,297.70 821.25,311.20" fill="#87d1c0" stroke="#87d1c0" stroke-width="0.35"/>
<polygon points="834.72,297.70 861.66,297.70 848.19,311.20" fill="#f3fbed" stroke="#f3fbed" stroke-width="0.35"/>
<polygon points="861.66,297.70 861.66,324.70 848.19,311.20" fill="#f4fbed" stroke="#f4fbed" stroke-width="0.35"/>
<polygon points="861.66,324.70 834.72,324.70 848.19,311.20" fill="#1474b2" stroke="#1474b2" stroke-width="0.35"/>
<polygon points="834.72,324.70 834.72,297.70 848.19,311.20" fill="#2b8cbe" stroke="#2b8cbe" stroke-width="0.35"/>
<polygon points="861.66,297.70 888.60,297.70 875.13,311.20" fill="#f3fbed" stroke="#f3fbed" stroke-width="0.35"/>
<polygon points="888.60,297.70 888.60,324.70 875.13,311.20" fill="#f4fbed" stroke="#f4fbed" stroke-width="0.35"/>
<polygon points="888.60,324.70 861.66,324.70 875.13,311.20" fill="#0b4387" stroke="#0b4387" stroke-width="0.35"/>
<polygon points="861.66,324.70 861.66,297.70 875.13,311.20" fill="#ccebc5" stroke="#ccebc5" stroke-width="0.35"/>
<polygon points="888.60,297.70 915.54,297.70 902.07,311.20" fill="#f3fbed" stroke="#f3fbed" stroke-width="0.35"/>
<polygon points="915.54,297.70 915.54,324.70 902.07,311.20" fill="#f4fbed" stroke="#f4fbed" stroke-width="0.35"/>
<polygon points="915.54,324.70 888.60,324.70 902.07,311.20" fill="#0b4387" stroke="#0b4387" stroke-width="0.35"/>
<polygon points="888.60,324.70 888.60,297.70 902.07,311.20" fill="#b4e2ba" stroke="#b4e2ba" stroke-width="0.35"/>
<polygon points="915.54,297.70 942.48,297.70 929.01,311.20" fill="#f3fbed" stroke="#f3fbed" stroke-width="0.35"/>
<polygon points="942.48,297.70 942.48,324.70 929.01,311.20" fill="#f4fbed" stroke="#f4fbed" stroke-width="0.35"/>
<polygon points="942.48,324.70 915.54,324.70 929.01,311.20" fill="#0b4387" stroke="#0b4387" stroke-width="0.35"/>
<polygon points="915.54,324.70 915.54,297.70 929.01,311.20" fill="#aadeb6" stroke="#aadeb6" stroke-width="0.35"/>
<polygon points="942.48,297.70 969.42,297.70 955.95,311.20" fill="#f3fbed" stroke="#f3fbed" stroke-width="0.35"/>
<polygon points="969.42,297.70 969.42,324.70 955.95,311.20" fill="#f4fbed" stroke="#f4fbed" stroke-width="0.35"/>
<polygon points="969.42,324.70 942.48,324.70 955.95,311.20" fill="#0b4387" stroke="#0b4387" stroke-width="0.35"/>
<polygon points="942.48,324.70 942.48,297.70 955.95,311.20" fill="#f3fbed" stroke="#f3fbed" stroke-width="0.35"/>
<polygon points="969.42,297.70 996.36,297.70 982.89,311.20" fill="#0b4387" stroke="#0b4387" stroke-width="0.35"/>
<polygon points="996.36,297.70 996.36,324.70 982.89,311.20" fill="#d4eece" stroke="#d4eece" stroke-width="0.35"/>
<polygon points="996.36,324.70 969.42,324.70 982.89,311.20" fill="#f1faeb" stroke="#f1faeb" stroke-width="0.35"/>
<polygon points="969.42,324.70 969.42,297.70 982.89,311.20" fill="#f3fbed" stroke="#f3fbed" stroke-width="0.35"/>
<polygon points="996.36,297.70 1023.30,297.70 1009.83,311.20" fill="#0b4387" stroke="#0b4387" stroke-width="0.35"/>
<polygon points="1023.30,297.70 1023.30,324.70 1009.83,311.20" fill="#f3fbed" stroke="#f3fbed" stroke-width="0.35"/>
<polygon points="1023.30,324.70 996.36,324.70 1009.83,311.20" fill="#dff2da" stroke="#dff2da" stroke-width="0.35"/>
<polygon points="996.36,324.70 996.36,297.70 1009.83,311.20" fill="#f3fbed" stroke="#f3fbed" stroke-width="0.35"/>
<polygon points="1023.30,297.70 1050.24,297.70 1036.77,311.20" fill="#0b4387" stroke="#0b4387" stroke-width="0.35"/>
<polygon points="1050.24,297.70 1050.24,324.70 1036.77,311.20" fill="#f3fbed" stroke="#f3fbed" stroke-width="0.35"/>
<polygon points="1050.24,324.70 1023.30,324.70 1036.77,311.20" fill="#f1faeb" stroke="#f1faeb" stroke-width="0.35"/>
<polygon points="1023.30,324.70 1023.30,297.70 1036.77,311.20" fill="#f3fbed" stroke="#f3fbed" stroke-width="0.35"/>
<polygon points="1050.24,297.70 1077.18,297.70 1063.71,311.20" fill="#0b4387" stroke="#0b4387" stroke-width="0.35"/>
<polygon points="1077.18,297.70 1077.18,324.70 1063.71,311.20" fill="#f3fbed" stroke="#f3fbed" stroke-width="0.35"/>
<polygon points="1077.18,324.70 1050.24,324.70 1063.71,311.20" fill="#d9f0d4" stroke="#d9f0d4" stroke-width="0.35"/>
<polygon points="1050.24,324.70 1050.24,297.70 1063.71,311.20" fill="#f3fbed" stroke="#f3fbed" stroke-width="0.35"/>
<rect x="753.90" y="324.70" width="26.94" height="27.00" fill="#ffffff"/>
<polygon points="780.84,324.70 807.78,324.70 794.31,338.20" fill="#f3fbed" stroke="#f3fbed" stroke-width="0.35"/>
<polygon points="807.78,324.70 807.78,351.70 794.31,338.20" fill="#f4fbed" stroke="#f4fbed" stroke-width="0.35"/>
<polygon points="807.78,351.70 780.84,351.70 794.31,338.20" fill="#ebf7e5" stroke="#ebf7e5" stroke-width="0.35"/>
<polygon points="780.84,351.70 780.84,324.70 794.31,338.20" fill="#0b4387" stroke="#0b4387" stroke-width="0.35"/>
<polygon points="807.78,324.70 834.72,324.70 821.25,338.20" fill="#0b4387" stroke="#0b4387" stroke-width="0.35"/>
<polygon points="834.72,324.70 834.72,351.70 821.25,338.20" fill="#f4fbed" stroke="#f4fbed" stroke-width="0.35"/>
<polygon points="834.72,351.70 807.78,351.70 821.25,338.20" fill="#dff2da" stroke="#dff2da" stroke-width="0.35"/>
<polygon points="807.78,351.70 807.78,324.70 821.25,338.20" fill="#f3fbed" stroke="#f3fbed" stroke-width="0.35"/>
<polygon points="834.72,324.70 861.66,324.70 848.19,338.20" fill="#399cc6" stroke="#399cc6" stroke-width="0.35"/>
<polygon points="861.66,324.70 861.66,351.70 848.19,338.20" fill="#f4fbed" stroke="#f4fbed" stroke-width="0.35"/>
<polygon points="861.66,351.70 834.72,351.70 848.19,338.20" fill="#d4eece" stroke="#d4eece" stroke-width="0.35"/>
<polygon points="834.72,351.70 834.72,324.70 848.19,338.20" fill="#42a6cc" stroke="#42a6cc" stroke-width="0.35"/>
<polygon points="861.66,324.70 888.60,324.70 875.13,338.20" fill="#f3fbed" stroke="#f3fbed" stroke-width="0.35"/>
<polygon points="888.60,324.70 888.60,351.70 875.13,338.20" fill="#f4fbed" stroke="#f4fbed" stroke-width="0.35"/>
<polygon points="888.60,351.70 861.66,351.70 875.13,338.20" fill="#bee5bf" stroke="#bee5bf" stroke-width="0.35"/>
<polygon points="861.66,351.70 861.66,324.70 875.13,338.20" fill="#0b4387" stroke="#0b4387" stroke-width="0.35"/>
<polygon points="888.60,324.70 915.54,324.70 902.07,338.20" fill="#f3fbed" stroke="#f3fbed" stroke-width="0.35"/>
<polygon points="915.54,324.70 915.54,351.70 902.07,338.20" fill="#f4fbed" stroke="#f4fbed" stroke-width="0.35"/>
<polygon points="915.54,351.70 888.60,351.70 902.07,338.20" fill="#bee5bf" stroke="#bee5bf" stroke-width="0.35"/>
<polygon points="888.60,351.70 888.60,324.70 902.07,338.20" fill="#0b4387" stroke="#0b4387" stroke-width="0.35"/>
<polygon points="915.54,324.70 942.48,324.70 929.01,338.20" fill="#f3fbed" stroke="#f3fbed" stroke-width="0.35"/>
<polygon points="942.48,324.70 942.48,351.70 929.01,338.20" fill="#f4fbed" stroke="#f4fbed" stroke-width="0.35"/>
<polygon points="942.48,351.70 915.54,351.70 929.01,338.20" fill="#e8f6e2" stroke="#e8f6e2" stroke-width="0.35"/>
<polygon points="915.54,351.70 915.54,324.70 929.01,338.20" fill="#0b4387" stroke="#0b4387" stroke-width="0.35"/>
<polygon points="942.48,324.70 969.42,324.70 955.95,338.20" fill="#f3fbed" stroke="#f3fbed" stroke-width="0.35"/>
<polygon points="969.42,324.70 969.42,351.70 955.95,338.20" fill="#f4fbed" stroke="#f4fbed" stroke-width="0.35"/>
<polygon points="969.42,351.70 942.48,351.70 955.95,338.20" fill="#0b4387" stroke="#0b4387" stroke-width="0.35"/>
<polygon points="942.48,351.70 942.48,324.70 955.95,338.20" fill="#f3fbed" stroke="#f3fbed" stroke-width="0.35"/>
<polygon points="969.42,324.70 996.36,324.70 982.89,338.20" fill="#0b4387" stroke="#0b4387" stroke-width="0.35"/>
<polygon points="996.36,324.70 996.36,351.70 982.89,338.20" fill="#f3fbed" stroke="#f3fbed" stroke-width="0.35"/>
<polygon points="996.36,351.70 969.42,351.70 982.89,338.20" fill="#f1faeb" stroke="#f1faeb" stroke-width="0.35"/>
<polygon points="969.42,351.70 969.42,324.70 982.89,338.20" fill="#f3fbed" stroke="#f3fbed" stroke-width="0.35"/>
<polygon points="996.36,324.70 1023.30,324.70 1009.83,338.20" fill="#0b4387" stroke="#0b4387" stroke-width="0.35"/>
<polygon points="1023.30,324.70 1023.30,351.70 1009.83,338.20" fill="#f3fbed" stroke="#f3fbed" stroke-width="0.35"/>
<polygon points="1023.30,351.70 996.36,351.70 1009.83,338.20" fill="#f1faeb" stroke="#f1faeb" stroke-width="0.35"/>
<polygon points="996.36,351.70 996.36,324.70 1009.83,338.20" fill="#f3fbed" stroke="#f3fbed" stroke-width="0.35"/>
<polygon points="1023.30,324.70 1050.24,324.70 1036.77,338.20" fill="#0b4387" stroke="#0b4387" stroke-width="0.35"/>
<polygon points="1050.24,324.70 1050.24,351.70 1036.77,338.20" fill="#f3fbed" stroke="#f3fbed" stroke-width="0.35"/>
<polygon points="1050.24,351.70 1023.30,351.70 1036.77,338.20" fill="#f1faeb" stroke="#f1faeb" stroke-width="0.35"/>
<polygon points="1023.30,351.70 1023.30,324.70 1036.77,338.20" fill="#f3fbed" stroke="#f3fbed" stroke-width="0.35"/>
<polygon points="1050.24,324.70 1077.18,324.70 1063.71,338.20" fill="#0b4387" stroke="#0b4387" stroke-width="0.35"/>
<polygon points="1077.18,324.70 1077.18,351.70 1063.71,338.20" fill="#f3fbed" stroke="#f3fbed" stroke-width="0.35"/>
<polygon points="1077.18,351.70 1050.24,351.70 1063.71,338.20" fill="#f1faeb" stroke="#f1faeb" stroke-width="0.35"/>
<polygon points="1050.24,351.70 1050.24,324.70 1063.71,338.20" fill="#f3fbed" stroke="#f3fbed" stroke-width="0.35"/>
<line x1="684" y1="27.70" x2="1077.83" y2="27.70" stroke="#3a3a3a" stroke-width="1.3"/>
<line x1="684" y1="135.70" x2="1077.83" y2="135.70" stroke="#3a3a3a" stroke-width="1.3"/>
<line x1="684" y1="351.70" x2="1077.83" y2="351.70" stroke="#3a3a3a" stroke-width="1.3"/>
<line x1="753.90" y1="27.70" x2="753.90" y2="422.5" stroke="#3a3a3a" stroke-width="1.3"/>
<line x1="969.42" y1="27.70" x2="969.42" y2="422.5" stroke="#3a3a3a" stroke-width="1.3"/>
<line x1="1077.18" y1="27.70" x2="1077.18" y2="422.5" stroke="#3a3a3a" stroke-width="1.3"/>
<rect x="915.64" y="29.10" width="25.04" height="24.50" fill="none" stroke="#ecb78a" stroke-width="2.5"/>
<text x="749.2" y="45.80" text-anchor="end" font-size="11.6" fill="#1a1a1a" font-family="'DejaVu Sans', 'Liberation Sans', sans-serif">CHN</text>
<text x="749.2" y="72.80" text-anchor="end" font-size="11.6" fill="#1a1a1a" font-family="'DejaVu Sans', 'Liberation Sans', sans-serif">JPN</text>
<text x="749.2" y="99.80" text-anchor="end" font-size="11.6" fill="#1a1a1a" font-family="'DejaVu Sans', 'Liberation Sans', sans-serif">KOR</text>
<text x="749.2" y="126.80" text-anchor="end" font-size="11.6" fill="#1a1a1a" font-family="'DejaVu Sans', 'Liberation Sans', sans-serif">VNM</text>
<text x="749.2" y="153.80" text-anchor="end" font-size="11.6" fill="#1a1a1a" font-family="'DejaVu Sans', 'Liberation Sans', sans-serif">BLR</text>
<text x="749.2" y="180.80" text-anchor="end" font-size="11.6" fill="#1a1a1a" font-family="'DejaVu Sans', 'Liberation Sans', sans-serif">CZE</text>
<text x="749.2" y="207.80" text-anchor="end" font-size="11.6" fill="#1a1a1a" font-family="'DejaVu Sans', 'Liberation Sans', sans-serif">HUN</text>
<text x="749.2" y="234.80" text-anchor="end" font-size="11.6" fill="#1a1a1a" font-family="'DejaVu Sans', 'Liberation Sans', sans-serif">POL</text>
<text x="749.2" y="261.80" text-anchor="end" font-size="11.6" fill="#1a1a1a" font-family="'DejaVu Sans', 'Liberation Sans', sans-serif">ROU</text>
<text x="749.2" y="288.80" text-anchor="end" font-size="11.6" fill="#1a1a1a" font-family="'DejaVu Sans', 'Liberation Sans', sans-serif">RUS</text>
<text x="749.2" y="315.80" text-anchor="end" font-size="11.6" fill="#1a1a1a" font-family="'DejaVu Sans', 'Liberation Sans', sans-serif">SVK</text>
<text x="749.2" y="342.80" text-anchor="end" font-size="11.6" fill="#1a1a1a" font-family="'DejaVu Sans', 'Liberation Sans', sans-serif">UKR</text>
<text transform="translate(768.37,356.6) rotate(-90)" text-anchor="end" dominant-baseline="central" font-size="11.6" fill="#1a1a1a" font-family="'DejaVu Sans', 'Liberation Sans', sans-serif">UKR</text>
<text transform="translate(795.31,356.6) rotate(-90)" text-anchor="end" dominant-baseline="central" font-size="11.6" fill="#1a1a1a" font-family="'DejaVu Sans', 'Liberation Sans', sans-serif">SVK</text>
<text transform="translate(822.25,356.6) rotate(-90)" text-anchor="end" dominant-baseline="central" font-size="11.6" fill="#1a1a1a" font-family="'DejaVu Sans', 'Liberation Sans', sans-serif">RUS</text>
<text transform="translate(849.19,356.6) rotate(-90)" text-anchor="end" dominant-baseline="central" font-size="11.6" fill="#1a1a1a" font-family="'DejaVu Sans', 'Liberation Sans', sans-serif">ROU</text>
<text transform="translate(876.13,356.6) rotate(-90)" text-anchor="end" dominant-baseline="central" font-size="11.6" fill="#1a1a1a" font-family="'DejaVu Sans', 'Liberation Sans', sans-serif">POL</text>
<text transform="translate(903.07,356.6) rotate(-90)" text-anchor="end" dominant-baseline="central" font-size="11.6" fill="#1a1a1a" font-family="'DejaVu Sans', 'Liberation Sans', sans-serif">HUN</text>
<text transform="translate(930.01,356.6) rotate(-90)" text-anchor="end" dominant-baseline="central" font-size="11.6" fill="#1a1a1a" font-family="'DejaVu Sans', 'Liberation Sans', sans-serif">CZE</text>
<text transform="translate(956.95,356.6) rotate(-90)" text-anchor="end" dominant-baseline="central" font-size="11.6" fill="#1a1a1a" font-family="'DejaVu Sans', 'Liberation Sans', sans-serif">BLR</text>
<text transform="translate(983.89,356.6) rotate(-90)" text-anchor="end" dominant-baseline="central" font-size="11.6" fill="#1a1a1a" font-family="'DejaVu Sans', 'Liberation Sans', sans-serif">VNM</text>
<text transform="translate(1010.83,356.6) rotate(-90)" text-anchor="end" dominant-baseline="central" font-size="11.6" fill="#1a1a1a" font-family="'DejaVu Sans', 'Liberation Sans', sans-serif">KOR</text>
<text transform="translate(1037.77,356.6) rotate(-90)" text-anchor="end" dominant-baseline="central" font-size="11.6" fill="#1a1a1a" font-family="'DejaVu Sans', 'Liberation Sans', sans-serif">JPN</text>
<text transform="translate(1064.71,356.6) rotate(-90)" text-anchor="end" dominant-baseline="central" font-size="11.6" fill="#1a1a1a" font-family="'DejaVu Sans', 'Liberation Sans', sans-serif">CHN</text>
<text transform="translate(703.5,81.70) rotate(-90)" text-anchor="middle" font-size="14.3" fill="#1a1a1a" font-family="'DejaVu Sans', 'Liberation Sans', sans-serif">E.Asia</text>
<text transform="translate(703.5,243.70) rotate(-90)" text-anchor="middle" font-size="14.3" fill="#1a1a1a" font-family="'DejaVu Sans', 'Liberation Sans', sans-serif">E.Europe</text>
<text transform="translate(669,191.20) rotate(-90)" text-anchor="middle" font-size="14.3" fill="#1a1a1a" font-family="'DejaVu Sans', 'Liberation Sans', sans-serif">ExpoterISO</text>
<text x="861.66" y="412.3" text-anchor="middle" font-size="14.3" fill="#1a1a1a" font-family="'DejaVu Sans', 'Liberation Sans', sans-serif">E.Europe</text>
<text x="1023.30" y="412.3" text-anchor="middle" font-size="14.3" fill="#1a1a1a" font-family="'DejaVu Sans', 'Liberation Sans', sans-serif">E.Asia</text>
<text x="914.7" y="448.6" text-anchor="middle" font-size="14.3" fill="#1a1a1a" font-family="'DejaVu Sans', 'Liberation Sans', sans-serif">ImpoterISO</text>
<text transform="translate(920.7,16.0) scale(1.04,1)" font-size="18.6" text-anchor="middle" fill="#1a1a1a" font-family="'DejaVu Sans', 'Liberation Sans', sans-serif">By country</text>
<polygon points="753.70,470.60 780.58,470.60 767.14,484.05" fill="#0b4387" stroke="#0b4387" stroke-width="0.35"/>
<polygon points="780.58,470.60 780.58,497.49 767.14,484.05" fill="#f5fbee" stroke="#f5fbee" stroke-width="0.35"/>
<polygon points="780.58,497.49 753.70,497.49 767.14,484.05" fill="#ccebc5" stroke="#ccebc5" stroke-width="0.35"/>
<polygon points="753.70,497.49 753.70,470.60 767.14,484.05" fill="#f5fbee" stroke="#f5fbee" stroke-width="0.35"/>
<polygon points="780.58,470.60 807.46,470.60 794.02,484.05" fill="#0b4387" stroke="#0b4387" stroke-width="0.35"/>
<polygon points="807.46,470.60 807.46,497.49 794.02,484.05" fill="#f5fbee" stroke="#f5fbee" stroke-width="0.35"/>
<polygon points="807.46,497.49 780.58,497.49 794.02,484.05" fill="#d9f0d4" stroke="#d9f0d4" stroke-width="0.35"/>
<polygon points="780.58,497.49 780.58,470.60 794.02,484.05" fill="#f5fbee" stroke="#f5fbee" stroke-width="0.35"/>
<polygon points="807.46,470.60 834.34,470.60 820.90,484.05" fill="#0b4387" stroke="#0b4387" stroke-width="0.35"/>
<polygon points="834.34,470.60 834.34,497.49 820.90,484.05" fill="#f5fbee" stroke="#f5fbee" stroke-width="0.35"/>
<polygon points="834.34,497.49 807.46,497.49 820.90,484.05" fill="#b4e2ba" stroke="#b4e2ba" stroke-width="0.35"/>
<polygon points="807.46,497.49 807.46,470.60 820.90,484.05" fill="#f5fbee" stroke="#f5fbee" stroke-width="0.35"/>
<polygon points="834.34,470.60 861.22,470.60 847.78,484.05" fill="#399cc6" stroke="#399cc6" stroke-width="0.35"/>
<polygon points="861.22,470.60 861.22,497.49 847.78,484.05" fill="#095ca0" stroke="#095ca0" stroke-width="0.35"/>
<polygon points="861.22,497.49 834.34,497.49 847.78,484.05" fill="#dff2da" stroke="#dff2da" stroke-width="0.35"/>
<polygon points="834.34,497.49 834.34,470.60 847.78,484.05" fill="#f5fbee" stroke="#f5fbee" stroke-width="0.35"/>
<polygon points="861.22,470.60 888.10,470.60 874.66,484.05" fill="#0b4387" stroke="#0b4387" stroke-width="0.35"/>
<polygon points="888.10,470.60 888.10,497.49 874.66,484.05" fill="#f5fbee" stroke="#f5fbee" stroke-width="0.35"/>
<polygon points="888.10,497.49 861.22,497.49 874.66,484.05" fill="#d4eece" stroke="#d4eece" stroke-width="0.35"/>
<polygon points="861.22,497.49 861.22,470.60 874.66,484.05" fill="#f5fbee" stroke="#f5fbee" stroke-width="0.35"/>
<polygon points="888.10,470.60 914.98,470.60 901.54,484.05" fill="#0b4387" stroke="#0b4387" stroke-width="0.35"/>
<polygon points="914.98,470.60 914.98,497.49 901.54,484.05" fill="#f5fbee" stroke="#f5fbee" stroke-width="0.35"/>
<polygon points="914.98,497.49 888.10,497.49 901.54,484.05" fill="#d4eece" stroke="#d4eece" stroke-width="0.35"/>
<polygon points="888.10,497.49 888.10,470.60 901.54,484.05" fill="#f5fbee" stroke="#f5fbee" stroke-width="0.35"/>
<polygon points="914.98,470.60 941.86,470.60 928.42,484.05" fill="#0b4387" stroke="#0b4387" stroke-width="0.35"/>
<polygon points="941.86,470.60 941.86,497.49 928.42,484.05" fill="#f5fbee" stroke="#f5fbee" stroke-width="0.35"/>
<polygon points="941.86,497.49 914.98,497.49 928.42,484.05" fill="#dff2da" stroke="#dff2da" stroke-width="0.35"/>
<polygon points="914.98,497.49 914.98,470.60 928.42,484.05" fill="#f5fbee" stroke="#f5fbee" stroke-width="0.35"/>
<polygon points="941.86,470.60 968.74,470.60 955.30,484.05" fill="#0b4387" stroke="#0b4387" stroke-width="0.35"/>
<polygon points="968.74,470.60 968.74,497.49 955.30,484.05" fill="#f5fbee" stroke="#f5fbee" stroke-width="0.35"/>
<polygon points="968.74,497.49 941.86,497.49 955.30,484.05" fill="#ccebc5" stroke="#ccebc5" stroke-width="0.35"/>
<polygon points="941.86,497.49 941.86,470.60 955.30,484.05" fill="#f5fbee" stroke="#f5fbee" stroke-width="0.35"/>
<polygon points="968.74,470.60 995.62,470.60 982.18,484.05" fill="#0b4387" stroke="#0b4387" stroke-width="0.35"/>
<polygon points="995.62,470.60 995.62,497.49 982.18,484.05" fill="#f5fbee" stroke="#f5fbee" stroke-width="0.35"/>
<polygon points="995.62,497.49 968.74,497.49 982.18,484.05" fill="#ccebc5" stroke="#ccebc5" stroke-width="0.35"/>
<polygon points="968.74,497.49 968.74,470.60 982.18,484.05" fill="#f5fbee" stroke="#f5fbee" stroke-width="0.35"/>
<polygon points="995.62,470.60 1022.50,470.60 1009.06,484.05" fill="#0b4387" stroke="#0b4387" stroke-width="0.35"/>
<polygon points="1022.50,470.60 1022.50,497.49 1009.06,484.05" fill="#f5fbee" stroke="#f5fbee" stroke-width="0.35"/>
<polygon points="1022.50,497.49 995.62,497.49 1009.06,484.05" fill="#ccebc5" stroke="#ccebc5" stroke-width="0.35"/>
<polygon points="995.62,497.49 995.62,470.60 1009.06,484.05" fill="#f5fbee" stroke="#f5fbee" stroke-width="0.35"/>
<polygon points="1022.50,470.60 1049.38,470.60 1035.94,484.05" fill="#7bccc4" stroke="#7bccc4" stroke-width="0.35"/>
<polygon points="1049.38,470.60 1049.38,497.49 1035.94,484.05" fill="#0b4387" stroke="#0b4387" stroke-width="0.35"/>
<polygon points="1049.38,497.49 1022.50,497.49 1035.94,484.05" fill="#e5f5df" stroke="#e5f5df" stroke-width="0.35"/>
<polygon points="1022.50,497.49 1022.50,470.60 1035.94,484.05" fill="#f5fbee" stroke="#f5fbee" stroke-width="0.35"/>
<polygon points="1049.38,470.60 1076.26,470.60 1062.82,484.05" fill="#0b4387" stroke="#0b4387" stroke-width="0.35"/>
<polygon points="1076.26,470.60 1076.26,497.49 1062.82,484.05" fill="#f5fbee" stroke="#f5fbee" stroke-width="0.35"/>
<polygon points="1076.26,497.49 1049.38,497.49 1062.82,484.05" fill="#e5f5df" stroke="#e5f5df" stroke-width="0.35"/>
<polygon points="1049.38,497.49 1049.38,470.60 1062.82,484.05" fill="#f5fbee" stroke="#f5fbee" stroke-width="0.35"/>
<polygon points="753.70,497.49 780.58,497.49 767.14,510.94" fill="#0b4387" stroke="#0b4387" stroke-width="0.35"/>
<polygon points="780.58,497.49 780.58,524.38 767.14,510.94" fill="#f5fbee" stroke="#f5fbee" stroke-width="0.35"/>
<polygon points="780.58,524.38 753.70,524.38 767.14,510.94" fill="#e8f6e2" stroke="#e8f6e2" stroke-width="0.35"/>
<polygon points="753.70,524.38 753.70,497.49 767.14,510.94" fill="#f5fbee" stroke="#f5fbee" stroke-width="0.35"/>
<polygon points="780.58,497.49 807.46,497.49 794.02,510.94" fill="#0b4387" stroke="#0b4387" stroke-width="0.35"/>
<polygon points="807.46,497.49 807.46,524.38 794.02,510.94" fill="#f5fbee" stroke="#f5fbee" stroke-width="0.35"/>
<polygon points="807.46,524.38 780.58,524.38 794.02,510.94" fill="#d4eece" stroke="#d4eece" stroke-width="0.35"/>
<polygon points="780.58,524.38 780.58,497.49 794.02,510.94" fill="#f5fbee" stroke="#f5fbee" stroke-width="0.35"/>
<polygon points="807.46,497.49 834.34,497.49 820.90,510.94" fill="#0b4387" stroke="#0b4387" stroke-width="0.35"/>
<polygon points="834.34,497.49 834.34,524.38 820.90,510.94" fill="#f5fbee" stroke="#f5fbee" stroke-width="0.35"/>
<polygon points="834.34,524.38 807.46,524.38 820.90,510.94" fill="#e8f6e2" stroke="#e8f6e2" stroke-width="0.35"/>
<polygon points="807.46,524.38 807.46,497.49 820.90,510.94" fill="#f5fbee" stroke="#f5fbee" stroke-width="0.35"/>
<polygon points="834.34,497.49 861.22,497.49 847.78,510.94" fill="#0b4387" stroke="#0b4387" stroke-width="0.35"/>
<polygon points="861.22,497.49 861.22,524.38 847.78,510.94" fill="#f5fbee" stroke="#f5fbee" stroke-width="0.35"/>
<polygon points="861.22,524.38 834.34,524.38 847.78,510.94" fill="#d9f0d4" stroke="#d9f0d4" stroke-width="0.35"/>
<polygon points="834.34,524.38 834.34,497.49 847.78,510.94" fill="#f5fbee" stroke="#f5fbee" stroke-width="0.35"/>
<polygon points="861.22,497.49 888.10,497.49 874.66,510.94" fill="#399cc6" stroke="#399cc6" stroke-width="0.35"/>
<polygon points="888.10,497.49 888.10,524.38 874.66,510.94" fill="#1d7eb7" stroke="#1d7eb7" stroke-width="0.35"/>
<polygon points="888.10,524.38 861.22,524.38 874.66,510.94" fill="#e5f5df" stroke="#e5f5df" stroke-width="0.35"/>
<polygon points="861.22,524.38 861.22,497.49 874.66,510.94" fill="#f5fbee" stroke="#f5fbee" stroke-width="0.35"/>
<polygon points="888.10,497.49 914.98,497.49 901.54,510.94" fill="#0b4387" stroke="#0b4387" stroke-width="0.35"/>
<polygon points="914.98,497.49 914.98,524.38 901.54,510.94" fill="#f5fbee" stroke="#f5fbee" stroke-width="0.35"/>
<polygon points="914.98,524.38 888.10,524.38 901.54,510.94" fill="#d4eece" stroke="#d4eece" stroke-width="0.35"/>
<polygon points="888.10,524.38 888.10,497.49 901.54,510.94" fill="#f5fbee" stroke="#f5fbee" stroke-width="0.35"/>
<polygon points="914.98,497.49 941.86,497.49 928.42,510.94" fill="#0b4387" stroke="#0b4387" stroke-width="0.35"/>
<polygon points="941.86,497.49 941.86,524.38 928.42,510.94" fill="#f5fbee" stroke="#f5fbee" stroke-width="0.35"/>
<polygon points="941.86,524.38 914.98,524.38 928.42,510.94" fill="#d9f0d4" stroke="#d9f0d4" stroke-width="0.35"/>
<polygon points="914.98,524.38 914.98,497.49 928.42,510.94" fill="#f5fbee" stroke="#f5fbee" stroke-width="0.35"/>
<polygon points="941.86,497.49 968.74,497.49 955.30,510.94" fill="#0b4387" stroke="#0b4387" stroke-width="0.35"/>
<polygon points="968.74,497.49 968.74,524.38 955.30,510.94" fill="#f5fbee" stroke="#f5fbee" stroke-width="0.35"/>
<polygon points="968.74,524.38 941.86,524.38 955.30,510.94" fill="#d4eece" stroke="#d4eece" stroke-width="0.35"/>
<polygon points="941.86,524.38 941.86,497.49 955.30,510.94" fill="#f5fbee" stroke="#f5fbee" stroke-width="0.35"/>
<polygon points="968.74,497.49 995.62,497.49 982.18,510.94" fill="#0b4387" stroke="#0b4387" stroke-width="0.35"/>
<polygon points="995.62,497.49 995.62,524.38 982.18,510.94" fill="#f5fbee" stroke="#f5fbee" stroke-width="0.35"/>
<polygon points="995.62,524.38 968.74,524.38 982.18,510.94" fill="#d9f0d4" stroke="#d9f0d4" stroke-width="0.35"/>
<polygon points="968.74,524.38 968.74,497.49 982.18,510.94" fill="#f5fbee" stroke="#f5fbee" stroke-width="0.35"/>
<polygon points="995.62,497.49 1022.50,497.49 1009.06,510.94" fill="#0b4387" stroke="#0b4387" stroke-width="0.35"/>
<polygon points="1022.50,497.49 1022.50,524.38 1009.06,510.94" fill="#f5fbee" stroke="#f5fbee" stroke-width="0.35"/>
<polygon points="1022.50,524.38 995.62,524.38 1009.06,510.94" fill="#dff2da" stroke="#dff2da" stroke-width="0.35"/>
<polygon points="995.62,524.38 995.62,497.49 1009.06,510.94" fill="#f5fbee" stroke="#f5fbee" stroke-width="0.35"/>
<polygon points="1022.50,497.49 1049.38,497.49 1035.94,510.94" fill="#6fc5c8" stroke="#6fc5c8" stroke-width="0.35"/>
<polygon points="1049.38,497.49 1049.38,524.38 1035.94,510.94" fill="#0b4387" stroke="#0b4387" stroke-width="0.35"/>
<polygon points="1049.38,524.38 1022.50,524.38 1035.94,510.94" fill="#e5f5df" stroke="#e5f5df" stroke-width="0.35"/>
<polygon points="1022.50,524.38 1022.50,497.49 1035.94,510.94" fill="#f5fbee" stroke="#f5fbee" stroke-width="0.35"/>
<polygon points="1049.38,497.49 1076.26,497.49 1062.82,510.94" fill="#399cc6" stroke="#399cc6" stroke-width="0.35"/>
<polygon points="1076.26,497.49 1076.26,524.38 1062.82,510.94" fill="#1d7eb7" stroke="#1d7eb7" stroke-width="0.35"/>
<polygon points="1076.26,524.38 1049.38,524.38 1062.82,510.94" fill="#dff2da" stroke="#dff2da" stroke-width="0.35"/>
<polygon points="1049.38,524.38 1049.38,497.49 1062.82,510.94" fill="#f5fbee" stroke="#f5fbee" stroke-width="0.35"/>
<polygon points="753.70,524.38 780.58,524.38 767.14,537.83" fill="#5dbbce" stroke="#5dbbce" stroke-width="0.35"/>
<polygon points="780.58,524.38 780.58,551.27 767.14,537.83" fill="#0b4387" stroke="#0b4387" stroke-width="0.35"/>
<polygon points="780.58,551.27 753.70,551.27 767.14,537.83" fill="#e5f5df" stroke="#e5f5df" stroke-width="0.35"/>
<polygon points="753.70,551.27 753.70,524.38 767.14,537.83" fill="#f5fbee" stroke="#f5fbee" stroke-width="0.35"/>
<polygon points="780.58,524.38 807.46,524.38 794.02,537.83" fill="#ebf7e5" stroke="#ebf7e5" stroke-width="0.35"/>
<polygon points="807.46,524.38 807.46,551.27 794.02,537.83" fill="#0b4387" stroke="#0b4387" stroke-width="0.35"/>
<polygon points="807.46,551.27 780.58,551.27 794.02,537.83" fill="#42a6cc" stroke="#42a6cc" stroke-width="0.35"/>
<polygon points="780.58,551.27 780.58,524.38 794.02,537.83" fill="#f5fbee" stroke="#f5fbee" stroke-width="0.35"/>
<polygon points="807.46,524.38 834.34,524.38 820.90,537.83" fill="#0b4387" stroke="#0b4387" stroke-width="0.35"/>
<polygon points="834.34,524.38 834.34,551.27 820.90,537.83" fill="#f5fbee" stroke="#f5fbee" stroke-width="0.35"/>
<polygon points="834.34,551.27 807.46,551.27 820.90,537.83" fill="#e8f6e2" stroke="#e8f6e2" stroke-width="0.35"/>
<polygon points="807.46,551.27 807.46,524.38 820.90,537.83" fill="#f5fbee" stroke="#f5fbee" stroke-width="0.35"/>
<polygon points="834.34,524.38 861.22,524.38 847.78,537.83" fill="#0b4387" stroke="#0b4387" stroke-width="0.35"/>
<polygon points="861.22,524.38 861.22,551.27 847.78,537.83" fill="#f5fbee" stroke="#f5fbee" stroke-width="0.35"/>
<polygon points="861.22,551.27 834.34,551.27 847.78,537.83" fill="#d9f0d4" stroke="#d9f0d4" stroke-width="0.35"/>
<polygon points="834.34,551.27 834.34,524.38 847.78,537.83" fill="#f5fbee" stroke="#f5fbee" stroke-width="0.35"/>
<polygon points="861.22,524.38 888.10,524.38 874.66,537.83" fill="#0b4387" stroke="#0b4387" stroke-width="0.35"/>
<polygon points="888.10,524.38 888.10,551.27 874.66,537.83" fill="#f5fbee" stroke="#f5fbee" stroke-width="0.35"/>
<polygon points="888.10,551.27 861.22,551.27 874.66,537.83" fill="#99d7ba" stroke="#99d7ba" stroke-width="0.35"/>
<polygon points="861.22,551.27 861.22,524.38 874.66,537.83" fill="#f5fbee" stroke="#f5fbee" stroke-width="0.35"/>
<polygon points="888.10,524.38 914.98,524.38 901.54,537.83" fill="#7bccc4" stroke="#7bccc4" stroke-width="0.35"/>
<polygon points="914.98,524.38 914.98,551.27 901.54,537.83" fill="#0b4387" stroke="#0b4387" stroke-width="0.35"/>
<polygon points="914.98,551.27 888.10,551.27 901.54,537.83" fill="#e5f5df" stroke="#e5f5df" stroke-width="0.35"/>
<polygon points="888.10,551.27 888.10,524.38 901.54,537.83" fill="#f5fbee" stroke="#f5fbee" stroke-width="0.35"/>
<polygon points="914.98,524.38 941.86,524.38 928.42,537.83" fill="#0b4387" stroke="#0b4387" stroke-width="0.35"/>
<polygon points="941.86,524.38 941.86,551.27 928.42,537.83" fill="#f5fbee" stroke="#f5fbee" stroke-width="0.35"/>
<polygon points="941.86,551.27 914.98,551.27 928.42,537.83" fill="#dff2da" stroke="#dff2da" stroke-width="0.35"/>
<polygon points="914.98,551.27 914.98,524.38 928.42,537.83" fill="#f5fbee" stroke="#f5fbee" stroke-width="0.35"/>
<polygon points="941.86,524.38 968.74,524.38 955.30,537.83" fill="#7bccc4" stroke="#7bccc4" stroke-width="0.35"/>
<polygon points="968.74,524.38 968.74,551.27 955.30,537.83" fill="#0b4387" stroke="#0b4387" stroke-width="0.35"/>
<polygon points="968.74,551.27 941.86,551.27 955.30,537.83" fill="#e5f5df" stroke="#e5f5df" stroke-width="0.35"/>
<polygon points="941.86,551.27 941.86,524.38 955.30,537.83" fill="#f5fbee" stroke="#f5fbee" stroke-width="0.35"/>
<polygon points="968.74,524.38 995.62,524.38 982.18,537.83" fill="#2b8cbe" stroke="#2b8cbe" stroke-width="0.35"/>
<polygon points="995.62,524.38 995.62,551.27 982.18,537.83" fill="#42a6cc" stroke="#42a6cc" stroke-width="0.35"/>
<polygon points="995.62,551.27 968.74,551.27 982.18,537.83" fill="#d4eece" stroke="#d4eece" stroke-width="0.35"/>
<polygon points="968.74,551.27 968.74,524.38 982.18,537.83" fill="#f5fbee" stroke="#f5fbee" stroke-width="0.35"/>
<polygon points="995.62,524.38 1022.50,524.38 1009.06,537.83" fill="#0b4387" stroke="#0b4387" stroke-width="0.35"/>
<polygon points="1022.50,524.38 1022.50,551.27 1009.06,537.83" fill="#f5fbee" stroke="#f5fbee" stroke-width="0.35"/>
<polygon points="1022.50,551.27 995.62,551.27 1009.06,537.83" fill="#ccebc5" stroke="#ccebc5" stroke-width="0.35"/>
<polygon points="995.62,551.27 995.62,524.38 1009.06,537.83" fill="#f5fbee" stroke="#f5fbee" stroke-width="0.35"/>
<polygon points="1022.50,524.38 1049.38,524.38 1035.94,537.83" fill="#0b4387" stroke="#0b4387" stroke-width="0.35"/>
<polygon points="1049.38,524.38 1049.38,551.27 1035.94,537.83" fill="#f5fbee" stroke="#f5fbee" stroke-width="0.35"/>
<polygon points="1049.38,551.27 1022.50,551.27 1035.94,537.83" fill="#dff2da" stroke="#dff2da" stroke-width="0.35"/>
<polygon points="1022.50,551.27 1022.50,524.38 1035.94,537.83" fill="#f5fbee" stroke="#f5fbee" stroke-width="0.35"/>
<polygon points="1049.38,524.38 1076.26,524.38 1062.82,537.83" fill="#0b4387" stroke="#0b4387" stroke-width="0.35"/>
<polygon points="1076.26,524.38 1076.26,551.27 1062.82,537.83" fill="#f5fbee" stroke="#f5fbee" stroke-width="0.35"/>
<polygon points="1076.26,551.27 1049.38,551.27 1062.82,537.83" fill="#d9f0d4" stroke="#d9f0d4" stroke-width="0.35"/>
<polygon points="1049.38,551.27 1049.38,524.38 1062.82,537.83" fill="#f5fbee" stroke="#f5fbee" stroke-width="0.35"/>
<polygon points="753.70,551.27 780.58,551.27 767.14,564.72" fill="#0b4387" stroke="#0b4387" stroke-width="0.35"/>
<polygon points="780.58,551.27 780.58,578.16 767.14,564.72" fill="#f5fbee" stroke="#f5fbee" stroke-width="0.35"/>
<polygon points="780.58,578.16 753.70,578.16 767.14,564.72" fill="#ccebc5" stroke="#ccebc5" stroke-width="0.35"/>
<polygon points="753.70,578.16 753.70,551.27 767.14,564.72" fill="#f5fbee" stroke="#f5fbee" stroke-width="0.35"/>
<polygon points="780.58,551.27 807.46,551.27 794.02,564.72" fill="#0b4387" stroke="#0b4387" stroke-width="0.35"/>
<polygon points="807.46,551.27 807.46,578.16 794.02,564.72" fill="#f5fbee" stroke="#f5fbee" stroke-width="0.35"/>
<polygon points="807.46,578.16 780.58,578.16 794.02,564.72" fill="#aadeb6" stroke="#aadeb6" stroke-width="0.35"/>
<polygon points="780.58,578.16 780.58,551.27 794.02,564.72" fill="#f5fbee" stroke="#f5fbee" stroke-width="0.35"/>
<polygon points="807.46,551.27 834.34,551.27 820.90,564.72" fill="#87d1c0" stroke="#87d1c0" stroke-width="0.35"/>
<polygon points="834.34,551.27 834.34,578.16 820.90,564.72" fill="#0b4387" stroke="#0b4387" stroke-width="0.35"/>
<polygon points="834.34,578.16 807.46,578.16 820.90,564.72" fill="#e5f5df" stroke="#e5f5df" stroke-width="0.35"/>
<polygon points="807.46,578.16 807.46,551.27 820.90,564.72" fill="#f5fbee" stroke="#f5fbee" stroke-width="0.35"/>
<polygon points="834.34,551.27 861.22,551.27 847.78,564.72" fill="#5dbbce" stroke="#5dbbce" stroke-width="0.35"/>
<polygon points="861.22,551.27 861.22,578.16 847.78,564.72" fill="#0b4387" stroke="#0b4387" stroke-width="0.35"/>
<polygon points="861.22,578.16 834.34,578.16 847.78,564.72" fill="#e5f5df" stroke="#e5f5df" stroke-width="0.35"/>
<polygon points="834.34,578.16 834.34,551.27 847.78,564.72" fill="#f5fbee" stroke="#f5fbee" stroke-width="0.35"/>
<polygon points="861.22,551.27 888.10,551.27 874.66,564.72" fill="#0b4387" stroke="#0b4387" stroke-width="0.35"/>
<polygon points="888.10,551.27 888.10,578.16 874.66,564.72" fill="#f5fbee" stroke="#f5fbee" stroke-width="0.35"/>
<polygon points="888.10,578.16 861.22,578.16 874.66,564.72" fill="#bee5bf" stroke="#bee5bf" stroke-width="0.35"/>
<polygon points="861.22,578.16 861.22,551.27 874.66,564.72" fill="#f5fbee" stroke="#f5fbee" stroke-width="0.35"/>
<polygon points="888.10,551.27 914.98,551.27 901.54,564.72" fill="#0b4387" stroke="#0b4387" stroke-width="0.35"/>
<polygon points="914.98,551.27 914.98,578.16 901.54,564.72" fill="#f5fbee" stroke="#f5fbee" stroke-width="0.35"/>
<polygon points="914.98,578.16 888.10,578.16 901.54,564.72" fill="#bee5bf" stroke="#bee5bf" stroke-width="0.35"/>
<polygon points="888.10,578.16 888.10,551.27 901.54,564.72" fill="#f5fbee" stroke="#f5fbee" stroke-width="0.35"/>
<polygon points="914.98,551.27 941.86,551.27 928.42,564.72" fill="#0b4387" stroke="#0b4387" stroke-width="0.35"/>
<polygon points="941.86,551.27 941.86,578.16 928.42,564.72" fill="#f5fbee" stroke="#f5fbee" stroke-width="0.35"/>
<polygon points="941.86,578.16 914.98,578.16 928.42,564.72" fill="#d4eece" stroke="#d4eece" stroke-width="0.35"/>
<polygon points="914.98,578.16 914.98,551.27 928.42,564.72" fill="#f5fbee" stroke="#f5fbee" stroke-width="0.35"/>
<polygon points="941.86,551.27 968.74,551.27 955.30,564.72" fill="#0b4387" stroke="#0b4387" stroke-width="0.35"/>
<polygon points="968.74,551.27 968.74,578.16 955.30,564.72" fill="#f5fbee" stroke="#f5fbee" stroke-width="0.35"/>
<polygon points="968.74,578.16 941.86,578.16 955.30,564.72" fill="#d4eece" stroke="#d4eece" stroke-width="0.35"/>
<polygon points="941.86,578.16 941.86,551.27 955.30,564.72" fill="#f5fbee" stroke="#f5fbee" stroke-width="0.35"/>
<polygon points="968.74,551.27 995.62,551.27 982.18,564.72" fill="#0b4387" stroke="#0b4387" stroke-width="0.35"/>
<polygon points="995.62,551.27 995.62,578.16 982.18,564.72" fill="#f5fbee" stroke="#f5fbee" stroke-width="0.35"/>
<polygon points="995.62,578.16 968.74,578.16 982.18,564.72" fill="#dff2da" stroke="#dff2da" stroke-width="0.35"/>
<polygon points="968.74,578.16 968.74,551.27 982.18,564.72" fill="#f5fbee" stroke="#f5fbee" stroke-width="0.35"/>
<polygon points="995.62,551.27 1022.50,551.27 1009.06,564.72" fill="#0b4387" stroke="#0b4387" stroke-width="0.35"/>
<polygon points="1022.50,551.27 1022.50,578.16 1009.06,564.72" fill="#f5fbee" stroke="#f5fbee" stroke-width="0.35"/>
<polygon points="1022.50,578.16 995.62,578.16 1009.06,564.72" fill="#d4eece" stroke="#d4eece" stroke-width="0.35"/>
<polygon points="995.62,578.16 995.62,551.27 1009.06,564.72" fill="#f5fbee" stroke="#f5fbee" stroke-width="0.35"/>
<polygon points="1022.50,551.27 1049.38,551.27 1035.94,564.72" fill="#0b4387" stroke="#0b4387" stroke-width="0.35"/>
<polygon points="1049.38,551.27 1049.38,578.16 1035.94,564.72" fill="#f5fbee" stroke="#f5fbee" stroke-width="0.35"/>
<polygon points="1049.38,578.16 1022.50,578.16 1035.94,564.72" fill="#87d1c0" stroke="#87d1c0" stroke-width="0.35"/>
<polygon points="1022.50,578.16 1022.50,551.27 1035.94,564.72" fill="#f5fbee" stroke="#f5fbee" stroke-width="0.35"/>
<polygon points="1049.38,551.27 1076.26,551.27 1062.82,564.72" fill="#0b4387" stroke="#0b4387" stroke-width="0.35"/>
<polygon points="1076.26,551.27 1076.26,578.16 1062.82,564.72" fill="#f5fbee" stroke="#f5fbee" stroke-width="0.35"/>
<polygon points="1076.26,578.16 1049.38,578.16 1062.82,564.72" fill="#e8f6e2" stroke="#e8f6e2" stroke-width="0.35"/>
<polygon points="1049.38,578.16 1049.38,551.27 1062.82,564.72" fill="#f5fbee" stroke="#f5fbee" stroke-width="0.35"/>
<polygon points="753.70,578.16 780.58,578.16 767.14,591.61" fill="#0b4387" stroke="#0b4387" stroke-width="0.35"/>
<polygon points="780.58,578.16 780.58,605.05 767.14,591.61" fill="#f5fbee" stroke="#f5fbee" stroke-width="0.35"/>
<polygon points="780.58,605.05 753.70,605.05 767.14,591.61" fill="#dff2da" stroke="#dff2da" stroke-width="0.35"/>
<polygon points="753.70,605.05 753.70,578.16 767.14,591.61" fill="#f5fbee" stroke="#f5fbee" stroke-width="0.35"/>
<polygon points="780.58,578.16 807.46,578.16 794.02,591.61" fill="#0b4387" stroke="#0b4387" stroke-width="0.35"/>
<polygon points="807.46,578.16 807.46,605.05 794.02,591.61" fill="#f5fbee" stroke="#f5fbee" stroke-width="0.35"/>
<polygon points="807.46,605.05 780.58,605.05 794.02,591.61" fill="#e5f5df" stroke="#e5f5df" stroke-width="0.35"/>
<polygon points="780.58,605.05 780.58,578.16 794.02,591.61" fill="#f5fbee" stroke="#f5fbee" stroke-width="0.35"/>
<polygon points="807.46,578.16 834.34,578.16 820.90,591.61" fill="#0b4387" stroke="#0b4387" stroke-width="0.35"/>
<polygon points="834.34,578.16 834.34,605.05 820.90,591.61" fill="#f5fbee" stroke="#f5fbee" stroke-width="0.35"/>
<polygon points="834.34,605.05 807.46,605.05 820.90,591.61" fill="#d4eece" stroke="#d4eece" stroke-width="0.35"/>
<polygon points="807.46,605.05 807.46,578.16 820.90,591.61" fill="#f5fbee" stroke="#f5fbee" stroke-width="0.35"/>
<polygon points="834.34,578.16 861.22,578.16 847.78,591.61" fill="#0b4387" stroke="#0b4387" stroke-width="0.35"/>
<polygon points="861.22,578.16 861.22,605.05 847.78,591.61" fill="#f5fbee" stroke="#f5fbee" stroke-width="0.35"/>
<polygon points="861.22,605.05 834.34,605.05 847.78,591.61" fill="#d9f0d4" stroke="#d9f0d4" stroke-width="0.35"/>
<polygon points="834.34,605.05 834.34,578.16 847.78,591.61" fill="#f5fbee" stroke="#f5fbee" stroke-width="0.35"/>
<polygon points="861.22,578.16 888.10,578.16 874.66,591.61" fill="#0b4387" stroke="#0b4387" stroke-width="0.35"/>
<polygon points="888.10,578.16 888.10,605.05 874.66,591.61" fill="#f5fbee" stroke="#f5fbee" stroke-width="0.35"/>
<polygon points="888.10,605.05 861.22,605.05 874.66,591.61" fill="#99d7ba" stroke="#99d7ba" stroke-width="0.35"/>
<polygon points="861.22,605.05 861.22,578.16 874.66,591.61" fill="#f5fbee" stroke="#f5fbee" stroke-width="0.35"/>
<polygon points="888.10,578.16 914.98,578.16 901.54,591.61" fill="#0b4387" stroke="#0b4387" stroke-width="0.35"/>
<polygon points="914.98,578.16 914.98,605.05 901.54,591.61" fill="#f5fbee" stroke="#f5fbee" stroke-width="0.35"/>
<polygon points="914.98,605.05 888.10,605.05 901.54,591.61" fill="#ccebc5" stroke="#ccebc5" stroke-width="0.35"/>
<polygon points="888.10,605.05 888.10,578.16 901.54,591.61" fill="#f5fbee" stroke="#f5fbee" stroke-width="0.35"/>
<polygon points="914.98,578.16 941.86,578.16 928.42,591.61" fill="#399cc6" stroke="#399cc6" stroke-width="0.35"/>
<polygon points="941.86,578.16 941.86,605.05 928.42,591.61" fill="#1474b2" stroke="#1474b2" stroke-width="0.35"/>
<polygon points="941.86,605.05 914.98,605.05 928.42,591.61" fill="#d9f0d4" stroke="#d9f0d4" stroke-width="0.35"/>
<polygon points="914.98,605.05 914.98,578.16 928.42,591.61" fill="#f5fbee" stroke="#f5fbee" stroke-width="0.35"/>
<polygon points="941.86,578.16 968.74,578.16 955.30,591.61" fill="#2b8cbe" stroke="#2b8cbe" stroke-width="0.35"/>
<polygon points="968.74,578.16 968.74,605.05 955.30,591.61" fill="#5dbbce" stroke="#5dbbce" stroke-width="0.35"/>
<polygon points="968.74,605.05 941.86,605.05 955.30,591.61" fill="#bee5bf" stroke="#bee5bf" stroke-width="0.35"/>
<polygon points="941.86,605.05 941.86,578.16 955.30,591.61" fill="#f5fbee" stroke="#f5fbee" stroke-width="0.35"/>
<polygon points="968.74,578.16 995.62,578.16 982.18,591.61" fill="#0b4387" stroke="#0b4387" stroke-width="0.35"/>
<polygon points="995.62,578.16 995.62,605.05 982.18,591.61" fill="#f5fbee" stroke="#f5fbee" stroke-width="0.35"/>
<polygon points="995.62,605.05 968.74,605.05 982.18,591.61" fill="#dff2da" stroke="#dff2da" stroke-width="0.35"/>
<polygon points="968.74,605.05 968.74,578.16 982.18,591.61" fill="#f5fbee" stroke="#f5fbee" stroke-width="0.35"/>
<polygon points="995.62,578.16 1022.50,578.16 1009.06,591.61" fill="#0b4387" stroke="#0b4387" stroke-width="0.35"/>
<polygon points="1022.50,578.16 1022.50,605.05 1009.06,591.61" fill="#f5fbee" stroke="#f5fbee" stroke-width="0.35"/>
<polygon points="1022.50,605.05 995.62,605.05 1009.06,591.61" fill="#dff2da" stroke="#dff2da" stroke-width="0.35"/>
<polygon points="995.62,605.05 995.62,578.16 1009.06,591.61" fill="#f5fbee" stroke="#f5fbee" stroke-width="0.35"/>
<polygon points="1022.50,578.16 1049.38,578.16 1035.94,591.61" fill="#0b4387" stroke="#0b4387" stroke-width="0.35"/>
<polygon points="1049.38,578.16 1049.38,605.05 1035.94,591.61" fill="#f5fbee" stroke="#f5fbee" stroke-width="0.35"/>
<polygon points="1049.38,605.05 1022.50,605.05 1035.94,591.61" fill="#ccebc5" stroke="#ccebc5" stroke-width="0.35"/>
<polygon points="1022.50,605.05 1022.50,578.16 1035.94,591.61" fill="#f5fbee" stroke="#f5fbee" stroke-width="0.35"/>
<polygon points="1049.38,578.16 1076.26,578.16 1062.82,591.61" fill="#0b4387" stroke="#0b4387" stroke-width="0.35"/>
<polygon points="1076.26,578.16 1076.26,605.05 1062.82,591.61" fill="#f5fbee" stroke="#f5fbee" stroke-width="0.35"/>
<polygon points="1076.26,605.05 1049.38,605.05 1062.82,591.61" fill="#bee5bf" stroke="#bee5bf" stroke-width="0.35"/>
<polygon points="1049.38,605.05 1049.38,578.16 1062.82,591.61" fill="#f5fbee" stroke="#f5fbee" stroke-width="0.35"/>
<polygon points="753.70,605.05 780.58,605.05 767.14,618.50" fill="#0b4387" stroke="#0b4387" stroke-width="0.35"/>
<polygon points="780.58,605.05 780.58,631.94 767.14,618.50" fill="#f5fbee" stroke="#f5fbee" stroke-width="0.35"/>
<polygon points="780.58,631.94 753.70,631.94 767.14,618.50" fill="#ccebc5" stroke="#ccebc5" stroke-width="0.35"/>
<polygon points="753.70,631.94 753.70,605.05 767.14,618.50" fill="#f5fbee" stroke="#f5fbee" stroke-width="0.35"/>
<polygon points="780.58,605.05 807.46,605.05 794.02,618.50" fill="#0b4387" stroke="#0b4387" stroke-width="0.35"/>
<polygon points="807.46,605.05 807.46,631.94 794.02,618.50" fill="#f5fbee" stroke="#f5fbee" stroke-width="0.35"/>
<polygon points="807.46,631.94 780.58,631.94 794.02,618.50" fill="#dff2da" stroke="#dff2da" stroke-width="0.35"/>
<polygon points="780.58,631.94 780.58,605.05 794.02,618.50" fill="#f5fbee" stroke="#f5fbee" stroke-width="0.35"/>
<polygon points="807.46,605.05 834.34,605.05 820.90,618.50" fill="#0b4387" stroke="#0b4387" stroke-width="0.35"/>
<polygon points="834.34,605.05 834.34,631.94 820.90,618.50" fill="#f5fbee" stroke="#f5fbee" stroke-width="0.35"/>
<polygon points="834.34,631.94 807.46,631.94 820.90,618.50" fill="#bee5bf" stroke="#bee5bf" stroke-width="0.35"/>
<polygon points="807.46,631.94 807.46,605.05 820.90,618.50" fill="#f5fbee" stroke="#f5fbee" stroke-width="0.35"/>
<polygon points="834.34,605.05 861.22,605.05 847.78,618.50" fill="#7bccc4" stroke="#7bccc4" stroke-width="0.35"/>
<polygon points="861.22,605.05 861.22,631.94 847.78,618.50" fill="#0b4387" stroke="#0b4387" stroke-width="0.35"/>
<polygon points="861.22,631.94 834.34,631.94 847.78,618.50" fill="#e5f5df" stroke="#e5f5df" stroke-width="0.35"/>
<polygon points="834.34,631.94 834.34,605.05 847.78,618.50" fill="#f5fbee" stroke="#f5fbee" stroke-width="0.35"/>
<polygon points="861.22,605.05 888.10,605.05 874.66,618.50" fill="#5dbbce" stroke="#5dbbce" stroke-width="0.35"/>
<polygon points="888.10,605.05 888.10,631.94 874.66,618.50" fill="#0b4387" stroke="#0b4387" stroke-width="0.35"/>
<polygon points="888.10,631.94 861.22,631.94 874.66,618.50" fill="#e5f5df" stroke="#e5f5df" stroke-width="0.35"/>
<polygon points="861.22,631.94 861.22,605.05 874.66,618.50" fill="#f5fbee" stroke="#f5fbee" stroke-width="0.35"/>
<polygon points="888.10,605.05 914.98,605.05 901.54,618.50" fill="#0b4387" stroke="#0b4387" stroke-width="0.35"/>
<polygon points="914.98,605.05 914.98,631.94 901.54,618.50" fill="#f5fbee" stroke="#f5fbee" stroke-width="0.35"/>
<polygon points="914.98,631.94 888.10,631.94 901.54,618.50" fill="#d4eece" stroke="#d4eece" stroke-width="0.35"/>
<polygon points="888.10,631.94 888.10,605.05 901.54,618.50" fill="#f5fbee" stroke="#f5fbee" stroke-width="0.35"/>
<polygon points="914.98,605.05 941.86,605.05 928.42,618.50" fill="#0b4387" stroke="#0b4387" stroke-width="0.35"/>
<polygon points="941.86,605.05 941.86,631.94 928.42,618.50" fill="#f5fbee" stroke="#f5fbee" stroke-width="0.35"/>
<polygon points="941.86,631.94 914.98,631.94 928.42,618.50" fill="#ccebc5" stroke="#ccebc5" stroke-width="0.35"/>
<polygon points="914.98,631.94 914.98,605.05 928.42,618.50" fill="#f5fbee" stroke="#f5fbee" stroke-width="0.35"/>
<polygon points="941.86,605.05 968.74,605.05 955.30,618.50" fill="#0b4387" stroke="#0b4387" stroke-width="0.35"/>
<polygon points="968.74,605.05 968.74,631.94 955.30,618.50" fill="#f5fbee" stroke="#f5fbee" stroke-width="0.35"/>
<polygon points="968.74,631.94 941.86,631.94 955.30,618.50" fill="#bee5bf" stroke="#bee5bf" stroke-width="0.35"/>
<polygon points="941.86,631.94 941.86,605.05 955.30,618.50" fill="#f5fbee" stroke="#f5fbee" stroke-width="0.35"/>
<polygon points="968.74,605.05 995.62,605.05 982.18,618.50" fill="#0b4387" stroke="#0b4387" stroke-width="0.35"/>
<polygon points="995.62,605.05 995.62,631.94 982.18,618.50" fill="#f5fbee" stroke="#f5fbee" stroke-width="0.35"/>
<polygon points="995.62,631.94 968.74,631.94 982.18,618.50" fill="#ccebc5" stroke="#ccebc5" stroke-width="0.35"/>
<polygon points="968.74,631.94 968.74,605.05 982.18,618.50" fill="#f5fbee" stroke="#f5fbee" stroke-width="0.35"/>
<polygon points="995.62,605.05 1022.50,605.05 1009.06,618.50" fill="#0b4387" stroke="#0b4387" stroke-width="0.35"/>
<polygon points="1022.50,605.05 1022.50,631.94 1009.06,618.50" fill="#f5fbee" stroke="#f5fbee" stroke-width="0.35"/>
<polygon points="1022.50,631.94 995.62,631.94 1009.06,618.50" fill="#ccebc5" stroke="#ccebc5" stroke-width="0.35"/>
<polygon points="995.62,631.94 995.62,605.05 1009.06,618.50" fill="#f5fbee" stroke="#f5fbee" stroke-width="0.35"/>
<polygon points="1022.50,605.05 1049.38,605.05 1035.94,618.50" fill="#4cb0d2" stroke="#4cb0d2" stroke-width="0.35"/>
<polygon points="1049.38,605.05 1049.38,631.94 1035.94,618.50" fill="#0a4d91" stroke="#0a4d91" stroke-width="0.35"/>
<polygon points="1049.38,631.94 1022.50,631.94 1035.94,618.50" fill="#e5f5df" stroke="#e5f5df" stroke-width="0.35"/>
<polygon points="1022.50,631.94 1022.50,605.05 1035.94,618.50" fill="#f5fbee" stroke="#f5fbee" stroke-width="0.35"/>
<polygon points="1049.38,605.05 1076.26,605.05 1062.82,618.50" fill="#0b4387" stroke="#0b4387" stroke-width="0.35"/>
<polygon points="1076.26,605.05 1076.26,631.94 1062.82,618.50" fill="#f5fbee" stroke="#f5fbee" stroke-width="0.35"/>
<polygon points="1076.26,631.94 1049.38,631.94 1062.82,618.50" fill="#ccebc5" stroke="#ccebc5" stroke-width="0.35"/>
<polygon points="1049.38,631.94 1049.38,605.05 1062.82,618.50" fill="#f5fbee" stroke="#f5fbee" stroke-width="0.35"/>
<polygon points="753.70,631.94 780.58,631.94 767.14,645.39" fill="#0b4387" stroke="#0b4387" stroke-width="0.35"/>
<polygon points="780.58,631.94 780.58,658.83 767.14,645.39" fill="#f5fbee" stroke="#f5fbee" stroke-width="0.35"/>
<polygon points="780.58,658.83 753.70,658.83 767.14,645.39" fill="#dff2da" stroke="#dff2da" stroke-width="0.35"/>
<polygon points="753.70,658.83 753.70,631.94 767.14,645.39" fill="#f5fbee" stroke="#f5fbee" stroke-width="0.35"/>
<polygon points="780.58,631.94 807.46,631.94 794.02,645.39" fill="#0b4387" stroke="#0b4387" stroke-width="0.35"/>
<polygon points="807.46,631.94 807.46,658.83 794.02,645.39" fill="#f5fbee" stroke="#f5fbee" stroke-width="0.35"/>
<polygon points="807.46,658.83 780.58,658.83 794.02,645.39" fill="#d4eece" stroke="#d4eece" stroke-width="0.35"/>
<polygon points="780.58,658.83 780.58,631.94 794.02,645.39" fill="#f5fbee" stroke="#f5fbee" stroke-width="0.35"/>
<polygon points="807.46,631.94 834.34,631.94 820.90,645.39" fill="#0b4387" stroke="#0b4387" stroke-width="0.35"/>
<polygon points="834.34,631.94 834.34,658.83 820.90,645.39" fill="#f5fbee" stroke="#f5fbee" stroke-width="0.35"/>
<polygon points="834.34,658.83 807.46,658.83 820.90,645.39" fill="#d4eece" stroke="#d4eece" stroke-width="0.35"/>
<polygon points="807.46,658.83 807.46,631.94 820.90,645.39" fill="#f5fbee" stroke="#f5fbee" stroke-width="0.35"/>
<polygon points="834.34,631.94 861.22,631.94 847.78,645.39" fill="#7bccc4" stroke="#7bccc4" stroke-width="0.35"/>
<polygon points="861.22,631.94 861.22,658.83 847.78,645.39" fill="#0b4387" stroke="#0b4387" stroke-width="0.35"/>
<polygon points="861.22,658.83 834.34,658.83 847.78,645.39" fill="#e5f5df" stroke="#e5f5df" stroke-width="0.35"/>
<polygon points="834.34,658.83 834.34,631.94 847.78,645.39" fill="#f5fbee" stroke="#f5fbee" stroke-width="0.35"/>
<polygon points="861.22,631.94 888.10,631.94 874.66,645.39" fill="#0b4387" stroke="#0b4387" stroke-width="0.35"/>
<polygon points="888.10,631.94 888.10,658.83 874.66,645.39" fill="#f5fbee" stroke="#f5fbee" stroke-width="0.35"/>
<polygon points="888.10,658.83 861.22,658.83 874.66,645.39" fill="#bee5bf" stroke="#bee5bf" stroke-width="0.35"/>
<polygon points="861.22,658.83 861.22,631.94 874.66,645.39" fill="#f5fbee" stroke="#f5fbee" stroke-width="0.35"/>
<polygon points="888.10,631.94 914.98,631.94 901.54,645.39" fill="#0b4387" stroke="#0b4387" stroke-width="0.35"/>
<polygon points="914.98,631.94 914.98,658.83 901.54,645.39" fill="#f5fbee" stroke="#f5fbee" stroke-width="0.35"/>
<polygon points="914.98,658.83 888.10,658.83 901.54,645.39" fill="#99d7ba" stroke="#99d7ba" stroke-width="0.35"/>
<polygon points="888.10,658.83 888.10,631.94 901.54,645.39" fill="#f5fbee" stroke="#f5fbee" stroke-width="0.35"/>
<polygon points="914.98,631.94 941.86,631.94 928.42,645.39" fill="#0b4387" stroke="#0b4387" stroke-width="0.35"/>
<polygon points="941.86,631.94 941.86,658.83 928.42,645.39" fill="#f5fbee" stroke="#f5fbee" stroke-width="0.35"/>
<polygon points="941.86,658.83 914.98,658.83 928.42,645.39" fill="#ccebc5" stroke="#ccebc5" stroke-width="0.35"/>
<polygon points="914.98,658.83 914.98,631.94 928.42,645.39" fill="#f5fbee" stroke="#f5fbee" stroke-width="0.35"/>
<polygon points="941.86,631.94 968.74,631.94 955.30,645.39" fill="#42a6cc" stroke="#42a6cc" stroke-width="0.35"/>
<polygon points="968.74,631.94 968.74,658.83 955.30,645.39" fill="#0a6aad" stroke="#0a6aad" stroke-width="0.35"/>
<polygon points="968.74,658.83 941.86,658.83 955.30,645.39" fill="#e5f5df" stroke="#e5f5df" stroke-width="0.35"/>
<polygon points="941.86,658.83 941.86,631.94 955.30,645.39" fill="#f5fbee" stroke="#f5fbee" stroke-width="0.35"/>
<polygon points="968.74,631.94 995.62,631.94 982.18,645.39" fill="#0b4387" stroke="#0b4387" stroke-width="0.35"/>
<polygon points="995.62,631.94 995.62,658.83 982.18,645.39" fill="#f5fbee" stroke="#f5fbee" stroke-width="0.35"/>
<polygon points="995.62,658.83 968.74,658.83 982.18,645.39" fill="#dff2da" stroke="#dff2da" stroke-width="0.35"/>
<polygon points="968.74,658.83 968.74,631.94 982.18,645.39" fill="#f5fbee" stroke="#f5fbee" stroke-width="0.35"/>
<polygon points="995.62,631.94 1022.50,631.94 1009.06,645.39" fill="#0b4387" stroke="#0b4387" stroke-width="0.35"/>
<polygon points="1022.50,631.94 1022.50,658.83 1009.06,645.39" fill="#f5fbee" stroke="#f5fbee" stroke-width="0.35"/>
<polygon points="1022.50,658.83 995.62,658.83 1009.06,645.39" fill="#e5f5df" stroke="#e5f5df" stroke-width="0.35"/>
<polygon points="995.62,658.83 995.62,631.94 1009.06,645.39" fill="#f5fbee" stroke="#f5fbee" stroke-width="0.35"/>
<polygon points="1022.50,631.94 1049.38,631.94 1035.94,645.39" fill="#0b4387" stroke="#0b4387" stroke-width="0.35"/>
<polygon points="1049.38,631.94 1049.38,658.83 1035.94,645.39" fill="#f5fbee" stroke="#f5fbee" stroke-width="0.35"/>
<polygon points="1049.38,658.83 1022.50,658.83 1035.94,645.39" fill="#dff2da" stroke="#dff2da" stroke-width="0.35"/>
<polygon points="1022.50,658.83 1022.50,631.94 1035.94,645.39" fill="#f5fbee" stroke="#f5fbee" stroke-width="0.35"/>
<polygon points="1049.38,631.94 1076.26,631.94 1062.82,645.39" fill="#0b4387" stroke="#0b4387" stroke-width="0.35"/>
<polygon points="1076.26,631.94 1076.26,658.83 1062.82,645.39" fill="#f5fbee" stroke="#f5fbee" stroke-width="0.35"/>
<polygon points="1076.26,658.83 1049.38,658.83 1062.82,645.39" fill="#99d7ba" stroke="#99d7ba" stroke-width="0.35"/>
<polygon points="1049.38,658.83 1049.38,631.94 1062.82,645.39" fill="#f5fbee" stroke="#f5fbee" stroke-width="0.35"/>
<polygon points="753.70,658.83 780.58,658.83 767.14,672.28" fill="#399cc6" stroke="#399cc6" stroke-width="0.35"/>
<polygon points="780.58,658.83 780.58,685.72 767.14,672.28" fill="#2b8cbe" stroke="#2b8cbe" stroke-width="0.35"/>
<polygon points="780.58,685.72 753.70,685.72 767.14,672.28" fill="#d4eece" stroke="#d4eece" stroke-width="0.35"/>
<polygon points="753.70,685.72 753.70,658.83 767.14,672.28" fill="#f5fbee" stroke="#f5fbee" stroke-width="0.35"/>
<polygon points="780.58,658.83 807.46,658.83 794.02,672.28" fill="#0b4387" stroke="#0b4387" stroke-width="0.35"/>
<polygon points="807.46,658.83 807.46,685.72 794.02,672.28" fill="#f5fbee" stroke="#f5fbee" stroke-width="0.35"/>
<polygon points="807.46,685.72 780.58,685.72 794.02,672.28" fill="#d9f0d4" stroke="#d9f0d4" stroke-width="0.35"/>
<polygon points="780.58,685.72 780.58,658.83 794.02,672.28" fill="#f5fbee" stroke="#f5fbee" stroke-width="0.35"/>
<polygon points="807.46,658.83 834.34,658.83 820.90,672.28" fill="#0b4387" stroke="#0b4387" stroke-width="0.35"/>
<polygon points="834.34,658.83 834.34,685.72 820.90,672.28" fill="#f5fbee" stroke="#f5fbee" stroke-width="0.35"/>
<polygon points="834.34,685.72 807.46,685.72 820.90,672.28" fill="#d4eece" stroke="#d4eece" stroke-width="0.35"/>
<polygon points="807.46,685.72 807.46,658.83 820.90,672.28" fill="#f5fbee" stroke="#f5fbee" stroke-width="0.35"/>
<polygon points="834.34,658.83 861.22,658.83 847.78,672.28" fill="#0b4387" stroke="#0b4387" stroke-width="0.35"/>
<polygon points="861.22,658.83 861.22,685.72 847.78,672.28" fill="#f5fbee" stroke="#f5fbee" stroke-width="0.35"/>
<polygon points="861.22,685.72 834.34,685.72 847.78,672.28" fill="#d4eece" stroke="#d4eece" stroke-width="0.35"/>
<polygon points="834.34,685.72 834.34,658.83 847.78,672.28" fill="#f5fbee" stroke="#f5fbee" stroke-width="0.35"/>
<polygon points="861.22,658.83 888.10,658.83 874.66,672.28" fill="#0b4387" stroke="#0b4387" stroke-width="0.35"/>
<polygon points="888.10,658.83 888.10,685.72 874.66,672.28" fill="#f5fbee" stroke="#f5fbee" stroke-width="0.35"/>
<polygon points="888.10,685.72 861.22,685.72 874.66,672.28" fill="#d4eece" stroke="#d4eece" stroke-width="0.35"/>
<polygon points="861.22,685.72 861.22,658.83 874.66,672.28" fill="#f5fbee" stroke="#f5fbee" stroke-width="0.35"/>
<polygon points="888.10,658.83 914.98,658.83 901.54,672.28" fill="#0b4387" stroke="#0b4387" stroke-width="0.35"/>
<polygon points="914.98,658.83 914.98,685.72 901.54,672.28" fill="#f5fbee" stroke="#f5fbee" stroke-width="0.35"/>
<polygon points="914.98,685.72 888.10,685.72 901.54,672.28" fill="#d9f0d4" stroke="#d9f0d4" stroke-width="0.35"/>
<polygon points="888.10,685.72 888.10,658.83 901.54,672.28" fill="#f5fbee" stroke="#f5fbee" stroke-width="0.35"/>
<polygon points="914.98,658.83 941.86,658.83 928.42,672.28" fill="#0b4387" stroke="#0b4387" stroke-width="0.35"/>
<polygon points="941.86,658.83 941.86,685.72 928.42,672.28" fill="#f5fbee" stroke="#f5fbee" stroke-width="0.35"/>
<polygon points="941.86,685.72 914.98,685.72 928.42,672.28" fill="#d9f0d4" stroke="#d9f0d4" stroke-width="0.35"/>
<polygon points="914.98,685.72 914.98,658.83 928.42,672.28" fill="#f5fbee" stroke="#f5fbee" stroke-width="0.35"/>
<polygon points="941.86,658.83 968.74,658.83 955.30,672.28" fill="#0b4387" stroke="#0b4387" stroke-width="0.35"/>
<polygon points="968.74,658.83 968.74,685.72 955.30,672.28" fill="#f5fbee" stroke="#f5fbee" stroke-width="0.35"/>
<polygon points="968.74,685.72 941.86,685.72 955.30,672.28" fill="#e8f6e2" stroke="#e8f6e2" stroke-width="0.35"/>
<polygon points="941.86,685.72 941.86,658.83 955.30,672.28" fill="#f5fbee" stroke="#f5fbee" stroke-width="0.35"/>
<polygon points="968.74,658.83 995.62,658.83 982.18,672.28" fill="#2b8cbe" stroke="#2b8cbe" stroke-width="0.35"/>
<polygon points="995.62,658.83 995.62,685.72 982.18,672.28" fill="#42a6cc" stroke="#42a6cc" stroke-width="0.35"/>
<polygon points="995.62,685.72 968.74,685.72 982.18,672.28" fill="#d9f0d4" stroke="#d9f0d4" stroke-width="0.35"/>
<polygon points="968.74,685.72 968.74,658.83 982.18,672.28" fill="#f5fbee" stroke="#f5fbee" stroke-width="0.35"/>
<polygon points="995.62,658.83 1022.50,658.83 1009.06,672.28" fill="#0b4387" stroke="#0b4387" stroke-width="0.35"/>
<polygon points="1022.50,658.83 1022.50,685.72 1009.06,672.28" fill="#f5fbee" stroke="#f5fbee" stroke-width="0.35"/>
<polygon points="1022.50,685.72 995.62,685.72 1009.06,672.28" fill="#dff2da" stroke="#dff2da" stroke-width="0.35"/>
<polygon points="995.62,685.72 995.62,658.83 1009.06,672.28" fill="#f5fbee" stroke="#f5fbee" stroke-width="0.35"/>
<polygon points="1022.50,658.83 1049.38,658.83 1035.94,672.28" fill="#0b4387" stroke="#0b4387" stroke-width="0.35"/>
<polygon points="1049.38,658.83 1049.38,685.72 1035.94,672.28" fill="#f5fbee" stroke="#f5fbee" stroke-width="0.35"/>
<polygon points="1049.38,685.72 1022.50,685.72 1035.94,672.28" fill="#dff2da" stroke="#dff2da" stroke-width="0.35"/>
<polygon points="1022.50,685.72 1022.50,658.83 1035.94,672.28" fill="#f5fbee" stroke="#f5fbee" stroke-width="0.35"/>
<polygon points="1049.38,658.83 1076.26,658.83 1062.82,672.28" fill="#0b4387" stroke="#0b4387" stroke-width="0.35"/>
<polygon points="1076.26,658.83 1076.26,685.72 1062.82,672.28" fill="#f5fbee" stroke="#f5fbee" stroke-width="0.35"/>
<polygon points="1076.26,685.72 1049.38,685.72 1062.82,672.28" fill="#dff2da" stroke="#dff2da" stroke-width="0.35"/>
<polygon points="1049.38,685.72 1049.38,658.83 1062.82,672.28" fill="#f5fbee" stroke="#f5fbee" stroke-width="0.35"/>
<polygon points="753.70,685.72 780.58,685.72 767.14,699.17" fill="#0b4387" stroke="#0b4387" stroke-width="0.35"/>
<polygon points="780.58,685.72 780.58,712.61 767.14,699.17" fill="#f5fbee" stroke="#f5fbee" stroke-width="0.35"/>
<polygon points="780.58,712.61 753.70,712.61 767.14,699.17" fill="#dff2da" stroke="#dff2da" stroke-width="0.35"/>
<polygon points="753.70,712.61 753.70,685.72 767.14,699.17" fill="#f5fbee" stroke="#f5fbee" stroke-width="0.35"/>
<polygon points="780.58,685.72 807.46,685.72 794.02,699.17" fill="#0b4387" stroke="#0b4387" stroke-width="0.35"/>
<polygon points="807.46,685.72 807.46,712.61 794.02,699.17" fill="#f5fbee" stroke="#f5fbee" stroke-width="0.35"/>
<polygon points="807.46,712.61 780.58,712.61 794.02,699.17" fill="#dff2da" stroke="#dff2da" stroke-width="0.35"/>
<polygon points="780.58,712.61 780.58,685.72 794.02,699.17" fill="#f5fbee" stroke="#f5fbee" stroke-width="0.35"/>
<polygon points="807.46,685.72 834.34,685.72 820.90,699.17" fill="#0b4387" stroke="#0b4387" stroke-width="0.35"/>
<polygon points="834.34,685.72 834.34,712.61 820.90,699.17" fill="#f5fbee" stroke="#f5fbee" stroke-width="0.35"/>
<polygon points="834.34,712.61 807.46,712.61 820.90,699.17" fill="#d4eece" stroke="#d4eece" stroke-width="0.35"/>
<polygon points="807.46,712.61 807.46,685.72 820.90,699.17" fill="#f5fbee" stroke="#f5fbee" stroke-width="0.35"/>
<polygon points="834.34,685.72 861.22,685.72 847.78,699.17" fill="#0b4387" stroke="#0b4387" stroke-width="0.35"/>
<polygon points="861.22,685.72 861.22,712.61 847.78,699.17" fill="#f5fbee" stroke="#f5fbee" stroke-width="0.35"/>
<polygon points="861.22,712.61 834.34,712.61 847.78,699.17" fill="#d4eece" stroke="#d4eece" stroke-width="0.35"/>
<polygon points="834.34,712.61 834.34,685.72 847.78,699.17" fill="#f5fbee" stroke="#f5fbee" stroke-width="0.35"/>
<polygon points="861.22,685.72 888.10,685.72 874.66,699.17" fill="#0b4387" stroke="#0b4387" stroke-width="0.35"/>
<polygon points="888.10,685.72 888.10,712.61 874.66,699.17" fill="#f5fbee" stroke="#f5fbee" stroke-width="0.35"/>
<polygon points="888.10,712.61 861.22,712.61 874.66,699.17" fill="#d9f0d4" stroke="#d9f0d4" stroke-width="0.35"/>
<polygon points="861.22,712.61 861.22,685.72 874.66,699.17" fill="#f5fbee" stroke="#f5fbee" stroke-width="0.35"/>
<polygon points="888.10,685.72 914.98,685.72 901.54,699.17" fill="#0b4387" stroke="#0b4387" stroke-width="0.35"/>
<polygon points="914.98,685.72 914.98,712.61 901.54,699.17" fill="#f5fbee" stroke="#f5fbee" stroke-width="0.35"/>
<polygon points="914.98,712.61 888.10,712.61 901.54,699.17" fill="#bee5bf" stroke="#bee5bf" stroke-width="0.35"/>
<polygon points="888.10,712.61 888.10,685.72 901.54,699.17" fill="#f5fbee" stroke="#f5fbee" stroke-width="0.35"/>
<polygon points="914.98,685.72 941.86,685.72 928.42,699.17" fill="#0b4387" stroke="#0b4387" stroke-width="0.35"/>
<polygon points="941.86,685.72 941.86,712.61 928.42,699.17" fill="#f5fbee" stroke="#f5fbee" stroke-width="0.35"/>
<polygon points="941.86,712.61 914.98,712.61 928.42,699.17" fill="#ccebc5" stroke="#ccebc5" stroke-width="0.35"/>
<polygon points="914.98,712.61 914.98,685.72 928.42,699.17" fill="#f5fbee" stroke="#f5fbee" stroke-width="0.35"/>
<polygon points="941.86,685.72 968.74,685.72 955.30,699.17" fill="#2b8cbe" stroke="#2b8cbe" stroke-width="0.35"/>
<polygon points="968.74,685.72 968.74,712.61 955.30,699.17" fill="#4cb0d2" stroke="#4cb0d2" stroke-width="0.35"/>
<polygon points="968.74,712.61 941.86,712.61 955.30,699.17" fill="#d9f0d4" stroke="#d9f0d4" stroke-width="0.35"/>
<polygon points="941.86,712.61 941.86,685.72 955.30,699.17" fill="#f5fbee" stroke="#f5fbee" stroke-width="0.35"/>
<polygon points="968.74,685.72 995.62,685.72 982.18,699.17" fill="#0b4387" stroke="#0b4387" stroke-width="0.35"/>
<polygon points="995.62,685.72 995.62,712.61 982.18,699.17" fill="#f5fbee" stroke="#f5fbee" stroke-width="0.35"/>
<polygon points="995.62,712.61 968.74,712.61 982.18,699.17" fill="#d4eece" stroke="#d4eece" stroke-width="0.35"/>
<polygon points="968.74,712.61 968.74,685.72 982.18,699.17" fill="#f5fbee" stroke="#f5fbee" stroke-width="0.35"/>
<polygon points="995.62,685.72 1022.50,685.72 1009.06,699.17" fill="#0b4387" stroke="#0b4387" stroke-width="0.35"/>
<polygon points="1022.50,685.72 1022.50,712.61 1009.06,699.17" fill="#f5fbee" stroke="#f5fbee" stroke-width="0.35"/>
<polygon points="1022.50,712.61 995.62,712.61 1009.06,699.17" fill="#ccebc5" stroke="#ccebc5" stroke-width="0.35"/>
<polygon points="995.62,712.61 995.62,685.72 1009.06,699.17" fill="#f5fbee" stroke="#f5fbee" stroke-width="0.35"/>
<polygon points="1022.50,685.72 1049.38,685.72 1035.94,699.17" fill="#0b4387" stroke="#0b4387" stroke-width="0.35"/>
<polygon points="1049.38,685.72 1049.38,712.61 1035.94,699.17" fill="#f5fbee" stroke="#f5fbee" stroke-width="0.35"/>
<polygon points="1049.38,712.61 1022.50,712.61 1035.94,699.17" fill="#dff2da" stroke="#dff2da" stroke-width="0.35"/>
<polygon points="1022.50,712.61 1022.50,685.72 1035.94,699.17" fill="#f5fbee" stroke="#f5fbee" stroke-width="0.35"/>
<polygon points="1049.38,685.72 1076.26,685.72 1062.82,699.17" fill="#0b4387" stroke="#0b4387" stroke-width="0.35"/>
<polygon points="1076.26,685.72 1076.26,712.61 1062.82,699.17" fill="#f5fbee" stroke="#f5fbee" stroke-width="0.35"/>
<polygon points="1076.26,712.61 1049.38,712.61 1062.82,699.17" fill="#ccebc5" stroke="#ccebc5" stroke-width="0.35"/>
<polygon points="1049.38,712.61 1049.38,685.72 1062.82,699.17" fill="#f5fbee" stroke="#f5fbee" stroke-width="0.35"/>
<polygon points="753.70,712.61 780.58,712.61 767.14,726.06" fill="#0b4387" stroke="#0b4387" stroke-width="0.35"/>
<polygon points="780.58,712.61 780.58,739.50 767.14,726.06" fill="#f5fbee" stroke="#f5fbee" stroke-width="0.35"/>
<polygon points="780.58,739.50 753.70,739.50 767.14,726.06" fill="#dff2da" stroke="#dff2da" stroke-width="0.35"/>
<polygon points="753.70,739.50 753.70,712.61 767.14,726.06" fill="#f5fbee" stroke="#f5fbee" stroke-width="0.35"/>
<polygon points="780.58,712.61 807.46,712.61 794.02,726.06" fill="#0b4387" stroke="#0b4387" stroke-width="0.35"/>
<polygon points="807.46,712.61 807.46,739.50 794.02,726.06" fill="#f5fbee" stroke="#f5fbee" stroke-width="0.35"/>
<polygon points="807.46,739.50 780.58,739.50 794.02,726.06" fill="#99d7ba" stroke="#99d7ba" stroke-width="0.35"/>
<polygon points="780.58,739.50 780.58,712.61 794.02,726.06" fill="#f5fbee" stroke="#f5fbee" stroke-width="0.35"/>
<polygon points="807.46,712.61 834.34,712.61 820.90,726.06" fill="#0b4387" stroke="#0b4387" stroke-width="0.35"/>
<polygon points="834.34,712.61 834.34,739.50 820.90,726.06" fill="#f5fbee" stroke="#f5fbee" stroke-width="0.35"/>
<polygon points="834.34,739.50 807.46,739.50 820.90,726.06" fill="#e8f6e2" stroke="#e8f6e2" stroke-width="0.35"/>
<polygon points="807.46,739.50 807.46,712.61 820.90,726.06" fill="#f5fbee" stroke="#f5fbee" stroke-width="0.35"/>
<polygon points="834.34,712.61 861.22,712.61 847.78,726.06" fill="#42a6cc" stroke="#42a6cc" stroke-width="0.35"/>
<polygon points="861.22,712.61 861.22,739.50 847.78,726.06" fill="#1474b2" stroke="#1474b2" stroke-width="0.35"/>
<polygon points="861.22,739.50 834.34,739.50 847.78,726.06" fill="#e5f5df" stroke="#e5f5df" stroke-width="0.35"/>
<polygon points="834.34,739.50 834.34,712.61 847.78,726.06" fill="#f5fbee" stroke="#f5fbee" stroke-width="0.35"/>
<polygon points="861.22,712.61 888.10,712.61 874.66,726.06" fill="#0b4387" stroke="#0b4387" stroke-width="0.35"/>
<polygon points="888.10,712.61 888.10,739.50 874.66,726.06" fill="#f5fbee" stroke="#f5fbee" stroke-width="0.35"/>
<polygon points="888.10,739.50 861.22,739.50 874.66,726.06" fill="#d9f0d4" stroke="#d9f0d4" stroke-width="0.35"/>
<polygon points="861.22,739.50 861.22,712.61 874.66,726.06" fill="#f5fbee" stroke="#f5fbee" stroke-width="0.35"/>
<polygon points="888.10,712.61 914.98,712.61 901.54,726.06" fill="#0b4387" stroke="#0b4387" stroke-width="0.35"/>
<polygon points="914.98,712.61 914.98,739.50 901.54,726.06" fill="#f5fbee" stroke="#f5fbee" stroke-width="0.35"/>
<polygon points="914.98,739.50 888.10,739.50 901.54,726.06" fill="#dff2da" stroke="#dff2da" stroke-width="0.35"/>
<polygon points="888.10,739.50 888.10,712.61 901.54,726.06" fill="#f5fbee" stroke="#f5fbee" stroke-width="0.35"/>
<polygon points="914.98,712.61 941.86,712.61 928.42,726.06" fill="#0b4387" stroke="#0b4387" stroke-width="0.35"/>
<polygon points="941.86,712.61 941.86,739.50 928.42,726.06" fill="#f5fbee" stroke="#f5fbee" stroke-width="0.35"/>
<polygon points="941.86,739.50 914.98,739.50 928.42,726.06" fill="#ccebc5" stroke="#ccebc5" stroke-width="0.35"/>
<polygon points="914.98,739.50 914.98,712.61 928.42,726.06" fill="#f5fbee" stroke="#f5fbee" stroke-width="0.35"/>
<polygon points="941.86,712.61 968.74,712.61 955.30,726.06" fill="#0b4387" stroke="#0b4387" stroke-width="0.35"/>
<polygon points="968.74,712.61 968.74,739.50 955.30,726.06" fill="#f5fbee" stroke="#f5fbee" stroke-width="0.35"/>
<polygon points="968.74,739.50 941.86,739.50 955.30,726.06" fill="#ccebc5" stroke="#ccebc5" stroke-width="0.35"/>
<polygon points="941.86,739.50 941.86,712.61 955.30,726.06" fill="#f5fbee" stroke="#f5fbee" stroke-width="0.35"/>
<polygon points="968.74,712.61 995.62,712.61 982.18,726.06" fill="#0b4387" stroke="#0b4387" stroke-width="0.35"/>
<polygon points="995.62,712.61 995.62,739.50 982.18,726.06" fill="#f5fbee" stroke="#f5fbee" stroke-width="0.35"/>
<polygon points="995.62,739.50 968.74,739.50 982.18,726.06" fill="#d4eece" stroke="#d4eece" stroke-width="0.35"/>
<polygon points="968.74,739.50 968.74,712.61 982.18,726.06" fill="#f5fbee" stroke="#f5fbee" stroke-width="0.35"/>
<polygon points="995.62,712.61 1022.50,712.61 1009.06,726.06" fill="#0b4387" stroke="#0b4387" stroke-width="0.35"/>
<polygon points="1022.50,712.61 1022.50,739.50 1009.06,726.06" fill="#f5fbee" stroke="#f5fbee" stroke-width="0.35"/>
<polygon points="1022.50,739.50 995.62,739.50 1009.06,726.06" fill="#dff2da" stroke="#dff2da" stroke-width="0.35"/>
<polygon points="995.62,739.50 995.62,712.61 1009.06,726.06" fill="#f5fbee" stroke="#f5fbee" stroke-width="0.35"/>
<polygon points="1022.50,712.61 1049.38,712.61 1035.94,726.06" fill="#0b4387" stroke="#0b4387" stroke-width="0.35"/>
<polygon points="1049.38,712.61 1049.38,739.50 1035.94,726.06" fill="#f5fbee" stroke="#f5fbee" stroke-width="0.35"/>
<polygon points="1049.38,739.50 1022.50,739.50 1035.94,726.06" fill="#d4eece" stroke="#d4eece" stroke-width="0.35"/>
<polygon points="1022.50,739.50 1022.50,712.61 1035.94,726.06" fill="#f5fbee" stroke="#f5fbee" stroke-width="0.35"/>
<polygon points="1049.38,712.61 1076.26,712.61 1062.82,726.06" fill="#399cc6" stroke="#399cc6" stroke-width="0.35"/>
<polygon points="1076.26,712.61 1076.26,739.50 1062.82,726.06" fill="#0a6aad" stroke="#0a6aad" stroke-width="0.35"/>
<polygon points="1076.26,739.50 1049.38,739.50 1062.82,726.06" fill="#d9f0d4" stroke="#d9f0d4" stroke-width="0.35"/>
<polygon points="1049.38,739.50 1049.38,712.61 1062.82,726.06" fill="#f5fbee" stroke="#f5fbee" stroke-width="0.35"/>
<polygon points="753.70,739.50 780.58,739.50 767.14,752.95" fill="#0b4387" stroke="#0b4387" stroke-width="0.35"/>
<polygon points="780.58,739.50 780.58,766.39 767.14,752.95" fill="#f5fbee" stroke="#f5fbee" stroke-width="0.35"/>
<polygon points="780.58,766.39 753.70,766.39 767.14,752.95" fill="#ccebc5" stroke="#ccebc5" stroke-width="0.35"/>
<polygon points="753.70,766.39 753.70,739.50 767.14,752.95" fill="#f5fbee" stroke="#f5fbee" stroke-width="0.35"/>
<polygon points="780.58,739.50 807.46,739.50 794.02,752.95" fill="#0b4387" stroke="#0b4387" stroke-width="0.35"/>
<polygon points="807.46,739.50 807.46,766.39 794.02,752.95" fill="#f5fbee" stroke="#f5fbee" stroke-width="0.35"/>
<polygon points="807.46,766.39 780.58,766.39 794.02,752.95" fill="#dff2da" stroke="#dff2da" stroke-width="0.35"/>
<polygon points="780.58,766.39 780.58,739.50 794.02,752.95" fill="#f5fbee" stroke="#f5fbee" stroke-width="0.35"/>
<polygon points="807.46,739.50 834.34,739.50 820.90,752.95" fill="#0b4387" stroke="#0b4387" stroke-width="0.35"/>
<polygon points="834.34,739.50 834.34,766.39 820.90,752.95" fill="#f5fbee" stroke="#f5fbee" stroke-width="0.35"/>
<polygon points="834.34,766.39 807.46,766.39 820.90,752.95" fill="#dff2da" stroke="#dff2da" stroke-width="0.35"/>
<polygon points="807.46,766.39 807.46,739.50 820.90,752.95" fill="#f5fbee" stroke="#f5fbee" stroke-width="0.35"/>
<polygon points="834.34,739.50 861.22,739.50 847.78,752.95" fill="#0b4387" stroke="#0b4387" stroke-width="0.35"/>
<polygon points="861.22,739.50 861.22,766.39 847.78,752.95" fill="#f5fbee" stroke="#f5fbee" stroke-width="0.35"/>
<polygon points="861.22,766.39 834.34,766.39 847.78,752.95" fill="#d4eece" stroke="#d4eece" stroke-width="0.35"/>
<polygon points="834.34,766.39 834.34,739.50 847.78,752.95" fill="#f5fbee" stroke="#f5fbee" stroke-width="0.35"/>
<polygon points="861.22,739.50 888.10,739.50 874.66,752.95" fill="#0b4387" stroke="#0b4387" stroke-width="0.35"/>
<polygon points="888.10,739.50 888.10,766.39 874.66,752.95" fill="#f5fbee" stroke="#f5fbee" stroke-width="0.35"/>
<polygon points="888.10,766.39 861.22,766.39 874.66,752.95" fill="#d9f0d4" stroke="#d9f0d4" stroke-width="0.35"/>
<polygon points="861.22,766.39 861.22,739.50 874.66,752.95" fill="#f5fbee" stroke="#f5fbee" stroke-width="0.35"/>
<polygon points="888.10,739.50 914.98,739.50 901.54,752.95" fill="#0b4387" stroke="#0b4387" stroke-width="0.35"/>
<polygon points="914.98,739.50 914.98,766.39 901.54,752.95" fill="#f5fbee" stroke="#f5fbee" stroke-width="0.35"/>
<polygon points="914.98,766.39 888.10,766.39 901.54,752.95" fill="#d4eece" stroke="#d4eece" stroke-width="0.35"/>
<polygon points="888.10,766.39 888.10,739.50 901.54,752.95" fill="#f5fbee" stroke="#f5fbee" stroke-width="0.35"/>
<polygon points="914.98,739.50 941.86,739.50 928.42,752.95" fill="#0b4387" stroke="#0b4387" stroke-width="0.35"/>
<polygon points="941.86,739.50 941.86,766.39 928.42,752.95" fill="#f5fbee" stroke="#f5fbee" stroke-width="0.35"/>
<polygon points="941.86,766.39 914.98,766.39 928.42,752.95" fill="#dff2da" stroke="#dff2da" stroke-width="0.35"/>
<polygon points="914.98,766.39 914.98,739.50 928.42,752.95" fill="#f5fbee" stroke="#f5fbee" stroke-width="0.35"/>
<polygon points="941.86,739.50 968.74,739.50 955.30,752.95" fill="#0b4387" stroke="#0b4387" stroke-width="0.35"/>
<polygon points="968.74,739.50 968.74,766.39 955.30,752.95" fill="#f5fbee" stroke="#f5fbee" stroke-width="0.35"/>
<polygon points="968.74,766.39 941.86,766.39 955.30,752.95" fill="#d4eece" stroke="#d4eece" stroke-width="0.35"/>
<polygon points="941.86,766.39 941.86,739.50 955.30,752.95" fill="#f5fbee" stroke="#f5fbee" stroke-width="0.35"/>
<polygon points="968.74,739.50 995.62,739.50 982.18,752.95" fill="#ccebc5" stroke="#ccebc5" stroke-width="0.35"/>
<polygon points="995.62,739.50 995.62,766.39 982.18,752.95" fill="#f5fbee" stroke="#f5fbee" stroke-width="0.35"/>
<polygon points="995.62,766.39 968.74,766.39 982.18,752.95" fill="#0b4387" stroke="#0b4387" stroke-width="0.35"/>
<polygon points="968.74,766.39 968.74,739.50 982.18,752.95" fill="#d4eece" stroke="#d4eece" stroke-width="0.35"/>
<polygon points="995.62,739.50 1022.50,739.50 1009.06,752.95" fill="#0b4387" stroke="#0b4387" stroke-width="0.35"/>
<polygon points="1022.50,739.50 1022.50,766.39 1009.06,752.95" fill="#f5fbee" stroke="#f5fbee" stroke-width="0.35"/>
<polygon points="1022.50,766.39 995.62,766.39 1009.06,752.95" fill="#d4eece" stroke="#d4eece" stroke-width="0.35"/>
<polygon points="995.62,766.39 995.62,739.50 1009.06,752.95" fill="#f5fbee" stroke="#f5fbee" stroke-width="0.35"/>
<polygon points="1022.50,739.50 1049.38,739.50 1035.94,752.95" fill="#0b4387" stroke="#0b4387" stroke-width="0.35"/>
<polygon points="1049.38,739.50 1049.38,766.39 1035.94,752.95" fill="#f5fbee" stroke="#f5fbee" stroke-width="0.35"/>
<polygon points="1049.38,766.39 1022.50,766.39 1035.94,752.95" fill="#d9f0d4" stroke="#d9f0d4" stroke-width="0.35"/>
<polygon points="1022.50,766.39 1022.50,739.50 1035.94,752.95" fill="#f5fbee" stroke="#f5fbee" stroke-width="0.35"/>
<polygon points="1049.38,739.50 1076.26,739.50 1062.82,752.95" fill="#0b4387" stroke="#0b4387" stroke-width="0.35"/>
<polygon points="1076.26,739.50 1076.26,766.39 1062.82,752.95" fill="#f5fbee" stroke="#f5fbee" stroke-width="0.35"/>
<polygon points="1076.26,766.39 1049.38,766.39 1062.82,752.95" fill="#ccebc5" stroke="#ccebc5" stroke-width="0.35"/>
<polygon points="1049.38,766.39 1049.38,739.50 1062.82,752.95" fill="#f5fbee" stroke="#f5fbee" stroke-width="0.35"/>
<polygon points="753.70,766.39 780.58,766.39 767.14,779.84" fill="#0b4387" stroke="#0b4387" stroke-width="0.35"/>
<polygon points="780.58,766.39 780.58,793.28 767.14,779.84" fill="#f5fbee" stroke="#f5fbee" stroke-width="0.35"/>
<polygon points="780.58,793.28 753.70,793.28 767.14,779.84" fill="#ccebc5" stroke="#ccebc5" stroke-width="0.35"/>
<polygon points="753.70,793.28 753.70,766.39 767.14,779.84" fill="#f5fbee" stroke="#f5fbee" stroke-width="0.35"/>
<polygon points="780.58,766.39 807.46,766.39 794.02,779.84" fill="#0b4387" stroke="#0b4387" stroke-width="0.35"/>
<polygon points="807.46,766.39 807.46,793.28 794.02,779.84" fill="#f5fbee" stroke="#f5fbee" stroke-width="0.35"/>
<polygon points="807.46,793.28 780.58,793.28 794.02,779.84" fill="#ccebc5" stroke="#ccebc5" stroke-width="0.35"/>
<polygon points="780.58,793.28 780.58,766.39 794.02,779.84" fill="#f5fbee" stroke="#f5fbee" stroke-width="0.35"/>
<polygon points="807.46,766.39 834.34,766.39 820.90,779.84" fill="#399cc6" stroke="#399cc6" stroke-width="0.35"/>
<polygon points="834.34,766.39 834.34,793.28 820.90,779.84" fill="#1d7eb7" stroke="#1d7eb7" stroke-width="0.35"/>
<polygon points="834.34,793.28 807.46,793.28 820.90,779.84" fill="#d9f0d4" stroke="#d9f0d4" stroke-width="0.35"/>
<polygon points="807.46,793.28 807.46,766.39 820.90,779.84" fill="#f5fbee" stroke="#f5fbee" stroke-width="0.35"/>
<polygon points="834.34,766.39 861.22,766.39 847.78,779.84" fill="#0b4387" stroke="#0b4387" stroke-width="0.35"/>
<polygon points="861.22,766.39 861.22,793.28 847.78,779.84" fill="#f5fbee" stroke="#f5fbee" stroke-width="0.35"/>
<polygon points="861.22,793.28 834.34,793.28 847.78,779.84" fill="#d4eece" stroke="#d4eece" stroke-width="0.35"/>
<polygon points="834.34,793.28 834.34,766.39 847.78,779.84" fill="#f5fbee" stroke="#f5fbee" stroke-width="0.35"/>
<polygon points="861.22,766.39 888.10,766.39 874.66,779.84" fill="#0b4387" stroke="#0b4387" stroke-width="0.35"/>
<polygon points="888.10,766.39 888.10,793.28 874.66,779.84" fill="#f5fbee" stroke="#f5fbee" stroke-width="0.35"/>
<polygon points="888.10,793.28 861.22,793.28 874.66,779.84" fill="#dff2da" stroke="#dff2da" stroke-width="0.35"/>
<polygon points="861.22,793.28 861.22,766.39 874.66,779.84" fill="#f5fbee" stroke="#f5fbee" stroke-width="0.35"/>
<polygon points="888.10,766.39 914.98,766.39 901.54,779.84" fill="#2b8cbe" stroke="#2b8cbe" stroke-width="0.35"/>
<polygon points="914.98,766.39 914.98,793.28 901.54,779.84" fill="#4cb0d2" stroke="#4cb0d2" stroke-width="0.35"/>
<polygon points="914.98,793.28 888.10,793.28 901.54,779.84" fill="#d4eece" stroke="#d4eece" stroke-width="0.35"/>
<polygon points="888.10,793.28 888.10,766.39 901.54,779.84" fill="#f5fbee" stroke="#f5fbee" stroke-width="0.35"/>
<polygon points="914.98,766.39 941.86,766.39 928.42,779.84" fill="#2b8cbe" stroke="#2b8cbe" stroke-width="0.35"/>
<polygon points="941.86,766.39 941.86,793.28 928.42,779.84" fill="#42a6cc" stroke="#42a6cc" stroke-width="0.35"/>
<polygon points="941.86,793.28 914.98,793.28 928.42,779.84" fill="#d4eece" stroke="#d4eece" stroke-width="0.35"/>
<polygon points="914.98,793.28 914.98,766.39 928.42,779.84" fill="#f5fbee" stroke="#f5fbee" stroke-width="0.35"/>
<polygon points="941.86,766.39 968.74,766.39 955.30,779.84" fill="#d4eece" stroke="#d4eece" stroke-width="0.35"/>
<polygon points="968.74,766.39 968.74,793.28 955.30,779.84" fill="#f5fbee" stroke="#f5fbee" stroke-width="0.35"/>
<polygon points="968.74,793.28 941.86,793.28 955.30,779.84" fill="#0b4387" stroke="#0b4387" stroke-width="0.35"/>
<polygon points="941.86,793.28 941.86,766.39 955.30,779.84" fill="#f5fbee" stroke="#f5fbee" stroke-width="0.35"/>
<polygon points="968.74,766.39 995.62,766.39 982.18,779.84" fill="#0b4387" stroke="#0b4387" stroke-width="0.35"/>
<polygon points="995.62,766.39 995.62,793.28 982.18,779.84" fill="#f5fbee" stroke="#f5fbee" stroke-width="0.35"/>
<polygon points="995.62,793.28 968.74,793.28 982.18,779.84" fill="#d4eece" stroke="#d4eece" stroke-width="0.35"/>
<polygon points="968.74,793.28 968.74,766.39 982.18,779.84" fill="#f5fbee" stroke="#f5fbee" stroke-width="0.35"/>
<polygon points="995.62,766.39 1022.50,766.39 1009.06,779.84" fill="#2b8cbe" stroke="#2b8cbe" stroke-width="0.35"/>
<polygon points="1022.50,766.39 1022.50,793.28 1009.06,779.84" fill="#399cc6" stroke="#399cc6" stroke-width="0.35"/>
<polygon points="1022.50,793.28 995.62,793.28 1009.06,779.84" fill="#e5f5df" stroke="#e5f5df" stroke-width="0.35"/>
<polygon points="995.62,793.28 995.62,766.39 1009.06,779.84" fill="#f5fbee" stroke="#f5fbee" stroke-width="0.35"/>
<polygon points="1022.50,766.39 1049.38,766.39 1035.94,779.84" fill="#0b4387" stroke="#0b4387" stroke-width="0.35"/>
<polygon points="1049.38,766.39 1049.38,793.28 1035.94,779.84" fill="#f5fbee" stroke="#f5fbee" stroke-width="0.35"/>
<polygon points="1049.38,793.28 1022.50,793.28 1035.94,779.84" fill="#d4eece" stroke="#d4eece" stroke-width="0.35"/>
<polygon points="1022.50,793.28 1022.50,766.39 1035.94,779.84" fill="#f5fbee" stroke="#f5fbee" stroke-width="0.35"/>
<polygon points="1049.38,766.39 1076.26,766.39 1062.82,779.84" fill="#0b4387" stroke="#0b4387" stroke-width="0.35"/>
<polygon points="1076.26,766.39 1076.26,793.28 1062.82,779.84" fill="#f5fbee" stroke="#f5fbee" stroke-width="0.35"/>
<polygon points="1076.26,793.28 1049.38,793.28 1062.82,779.84" fill="#d9f0d4" stroke="#d9f0d4" stroke-width="0.35"/>
<polygon points="1049.38,793.28 1049.38,766.39 1062.82,779.84" fill="#f5fbee" stroke="#f5fbee" stroke-width="0.35"/>
<rect x="753.70" y="470.60" width="322.56" height="322.68" fill="none" stroke="#444" stroke-width="1.2"/>
<text transform="translate(914.5,813.3) scale(1.033,1)" font-size="18.6" text-anchor="middle" fill="#1a1a1a" font-family="'DejaVu Sans', 'Liberation Sans', sans-serif">By origin-destination-product</text>
<line x1="916.54" y1="54.70" x2="753.70" y2="470.60" stroke="#666" stroke-width="1.8" stroke-dasharray="2.6,2.3"/>
<line x1="941.48" y1="54.70" x2="1076.26" y2="470.60" stroke="#666" stroke-width="1.8" stroke-dasharray="2.6,2.3"/>
</svg>
</body></html>
